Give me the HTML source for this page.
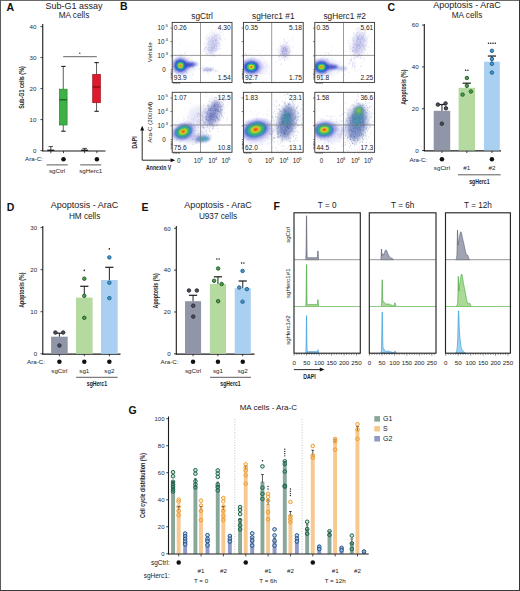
<!DOCTYPE html>
<html><head><meta charset="utf-8"><style>
html,body{margin:0;padding:0;background:#fff;}
svg{display:block;font-family:"Liberation Sans", sans-serif;}
</style></head><body>
<svg width="520" height="591" viewBox="0 0 520 591">
<defs>
<filter id="bl05" x="-50%" y="-50%" width="200%" height="200%"><feGaussianBlur stdDeviation="0.5"/></filter>
<filter id="bl1" x="-50%" y="-50%" width="200%" height="200%"><feGaussianBlur stdDeviation="0.9"/></filter>
<filter id="bl2" x="-50%" y="-50%" width="200%" height="200%"><feGaussianBlur stdDeviation="2"/></filter>
<clipPath id="cp1"><rect x="172.2" y="22.4" width="59.8" height="60"/></clipPath>
<clipPath id="cp2"><rect x="243.4" y="22.4" width="59.8" height="60"/></clipPath>
<clipPath id="cp3"><rect x="314.8" y="22.4" width="59.8" height="60"/></clipPath>
<clipPath id="cp4"><rect x="172.2" y="92.3" width="59.8" height="60"/></clipPath>
<clipPath id="cp5"><rect x="243.4" y="92.3" width="59.8" height="60"/></clipPath>
<clipPath id="cp6"><rect x="314.8" y="92.3" width="59.8" height="60"/></clipPath>
</defs>
<rect x="0" y="0" width="520" height="591" fill="#fff"/>
<text x="6.6" y="11.3" font-size="10.5" text-anchor="start" font-weight="bold" fill="#111">A</text>
<text x="74" y="8.5" font-size="9" text-anchor="middle" font-weight="normal" fill="#222">Sub-G1 assay</text>
<text x="74" y="18.2" font-size="8.2" text-anchor="middle" font-weight="normal" fill="#222">MA cells</text>
<line x1="42.75" y1="24" x2="42.75" y2="151.2" stroke="#1a1a1a" stroke-width="1.1"/>
<line x1="40.45" y1="150.6" x2="42.75" y2="150.6" stroke="#1a1a1a" stroke-width="0.8"/>
<text x="36.4" y="152.8" font-size="6.2" text-anchor="end" font-weight="normal" fill="#2a2a2a">0</text>
<line x1="40.45" y1="119.6" x2="42.75" y2="119.6" stroke="#1a1a1a" stroke-width="0.8"/>
<text x="36.4" y="121.8" font-size="6.2" text-anchor="end" font-weight="normal" fill="#2a2a2a">10</text>
<line x1="40.45" y1="88.6" x2="42.75" y2="88.6" stroke="#1a1a1a" stroke-width="0.8"/>
<text x="36.4" y="90.8" font-size="6.2" text-anchor="end" font-weight="normal" fill="#2a2a2a">20</text>
<line x1="40.45" y1="57.6" x2="42.75" y2="57.6" stroke="#1a1a1a" stroke-width="0.8"/>
<text x="36.4" y="59.8" font-size="6.2" text-anchor="end" font-weight="normal" fill="#2a2a2a">30</text>
<line x1="40.45" y1="26.6" x2="42.75" y2="26.6" stroke="#1a1a1a" stroke-width="0.8"/>
<text x="36.4" y="28.8" font-size="6.2" text-anchor="end" font-weight="normal" fill="#2a2a2a">40</text>
<text x="0" y="0" font-size="7" text-anchor="middle" font-weight="bold" fill="#222" transform="translate(24 87.5) rotate(-90) scale(0.77 1)">Sub-G1 cells (%)</text>
<line x1="42.25" y1="151" x2="105.5" y2="151" stroke="#1a1a1a" stroke-width="1.2"/>
<line x1="50.8" y1="151" x2="50.8" y2="153.2" stroke="#1a1a1a" stroke-width="0.8"/>
<line x1="63.5" y1="151" x2="63.5" y2="153.2" stroke="#1a1a1a" stroke-width="0.8"/>
<line x1="84.6" y1="151" x2="84.6" y2="153.2" stroke="#1a1a1a" stroke-width="0.8"/>
<line x1="96.9" y1="151" x2="96.9" y2="153.2" stroke="#1a1a1a" stroke-width="0.8"/>
<line x1="50.8" y1="146.6" x2="50.8" y2="151" stroke="#1a1a1a" stroke-width="0.8"/>
<line x1="48.6" y1="146.6" x2="53" y2="146.6" stroke="#1a1a1a" stroke-width="0.8"/>
<line x1="47.3" y1="150.3" x2="54.3" y2="150.3" stroke="#1a1a1a" stroke-width="1.4"/>
<line x1="84.6" y1="148.4" x2="84.6" y2="151" stroke="#1a1a1a" stroke-width="0.8"/>
<line x1="82.4" y1="148.4" x2="86.8" y2="148.4" stroke="#1a1a1a" stroke-width="0.8"/>
<line x1="81.1" y1="150.3" x2="88.1" y2="150.3" stroke="#1a1a1a" stroke-width="1.4"/>
<line x1="63.25" y1="66.2" x2="63.25" y2="131.2" stroke="#333" stroke-width="0.8"/>
<line x1="61.2" y1="66.4" x2="65.6" y2="66.4" stroke="#222" stroke-width="1.1"/>
<line x1="61.2" y1="131.2" x2="65.6" y2="131.2" stroke="#222" stroke-width="1.1"/>
<rect x="59.4" y="89.2" width="7.7" height="35.8" fill="#3fb045" stroke="#24872c" stroke-width="0.7"/>
<line x1="59.4" y1="99.8" x2="67.1" y2="99.8" stroke="#1d5e20" stroke-width="1.3"/>
<line x1="96.55" y1="62.3" x2="96.55" y2="111.3" stroke="#333" stroke-width="0.8"/>
<line x1="94.4" y1="62.6" x2="98.8" y2="62.6" stroke="#222" stroke-width="1.1"/>
<line x1="94.4" y1="111.3" x2="98.8" y2="111.3" stroke="#222" stroke-width="1.1"/>
<rect x="92.7" y="74.4" width="7.7" height="28.3" fill="#de1a2e" stroke="#a0101e" stroke-width="0.7"/>
<line x1="92.7" y1="87" x2="100.4" y2="87" stroke="#7a0a14" stroke-width="1.2"/>
<line x1="63.2" y1="56.7" x2="96.8" y2="56.7" stroke="#555" stroke-width="0.9"/>
<circle cx="79.8" cy="53.2" r="0.7" fill="#333" stroke="none" stroke-width="1"/>
<text x="43" y="161.3" font-size="6.2" text-anchor="end" font-weight="normal" fill="#222">Ara-C:</text>
<circle cx="63.5" cy="159.2" r="2.25" fill="#111" stroke="none" stroke-width="1"/>
<circle cx="96.9" cy="159.2" r="2.25" fill="#111" stroke="none" stroke-width="1"/>
<line x1="46.5" y1="164.9" x2="67.7" y2="164.9" stroke="#333" stroke-width="0.8"/>
<line x1="80.2" y1="164.9" x2="101.3" y2="164.9" stroke="#333" stroke-width="0.8"/>
<text x="57.1" y="173.4" font-size="6.2" text-anchor="middle" font-weight="normal" fill="#222">sgCtrl</text>
<text x="90.8" y="173.4" font-size="6.2" text-anchor="middle" font-weight="normal" fill="#222">sgHerc1</text>
<text x="120" y="10.3" font-size="10.5" text-anchor="start" font-weight="bold" fill="#111">B</text>
<text x="202.1" y="18.7" font-size="8.3" text-anchor="middle" font-weight="normal" fill="#222">sgCtrl</text>
<text x="273.3" y="18.7" font-size="8.3" text-anchor="middle" font-weight="normal" fill="#222">sgHerc1 #1</text>
<text x="344.7" y="18.7" font-size="8.3" text-anchor="middle" font-weight="normal" fill="#222">sgHerc1 #2</text>
<g clip-path="url(#cp1)">
<ellipse cx="184" cy="66" rx="11" ry="8" transform="rotate(0 184 66)" fill="#8080e0" opacity="0.15" filter="url(#bl2)"/>
<path d="M211.04 47.13h0.6M212.93 41.66h0.6M210.37 41.57h0.6M215.78 48.03h0.6M215.91 46.78h0.6M213.91 45.66h0.6M205.6 47.89h0.6M213.61 47.87h0.6M211.14 30.56h0.6M211.05 39.92h0.6M214.12 44.02h0.6M216.12 40.29h0.6M213.17 46.96h0.6M207.08 54.72h0.6M212.26 52.57h0.6M212.53 38.41h0.6M212.08 42.92h0.6M214.57 46.34h0.6M213.58 37.15h0.6M208.63 51.57h0.6M209.78 44.76h0.6M217.64 34.54h0.6M210.34 52.75h0.6M206.99 39.68h0.6M214.41 38.44h0.6M214.79 44.12h0.6M206.33 47.93h0.6M213.18 51.02h0.6M217.01 47.97h0.6M216.21 35.48h0.6M216.37 40.59h0.6M214.23 35.09h0.6M210.93 39.42h0.6M221.69 31.87h0.6M207.63 44.02h0.6M216.55 49.41h0.6M212.12 25.18h0.6M215.78 39.48h0.6M207.16 49.3h0.6M216.33 46.24h0.6M212.88 47.16h0.6M216.97 49.85h0.6M213.54 48.21h0.6M205.01 50.84h0.6M215.03 48.56h0.6M207.8 37.65h0.6M219.72 32.85h0.6M210.18 50.59h0.6M205.15 53.3h0.6M215.16 43.6h0.6M212.68 48.68h0.6M210.92 51.76h0.6M211.7 40.52h0.6M216.41 45.31h0.6M208.02 49.35h0.6M218.84 42.62h0.6M208.7 41.61h0.6M213.15 41.85h0.6M219.9 38.68h0.6M219.94 36.92h0.6M209.01 47.35h0.6M214.9 50.94h0.6M213.84 45.32h0.6M212.26 47.99h0.6M211.81 45.66h0.6M214.9 44.63h0.6M214.32 48.59h0.6M218.99 48.34h0.6M212.38 41.06h0.6M210.96 50.14h0.6M211.05 46.2h0.6M224.66 28.91h0.6M208.73 44.41h0.6M213.81 46.02h0.6M210.15 47.9h0.6M215.07 40.83h0.6M220.32 48.99h0.6M211.37 42.74h0.6M212.38 43.34h0.6M204.97 37.81h0.6M218.88 37.31h0.6M210.72 50.28h0.6M212.62 54.85h0.6M208.1 39.81h0.6M210.52 47.78h0.6M222.44 27.32h0.6M219.76 35.54h0.6M218.5 34.81h0.6M211 52.14h0.6M212.09 45.11h0.6M215.35 45.8h0.6M209.39 54.11h0.6M217.13 43.18h0.6M224.62 39.33h0.6M216.62 43.22h0.6M211.92 48.84h0.6M212.36 48.49h0.6M211.18 32.3h0.6M217.13 38.25h0.6M212.76 33.1h0.6M215.6 50.34h0.6M219.93 39.35h0.6M215.47 36.41h0.6M212.11 55.41h0.6M206.66 53.42h0.6M216.67 43.88h0.6M203.39 51.23h0.6M213.98 39.88h0.6M213.44 47.16h0.6M220.19 38.83h0.6M213.56 55.13h0.6M218.22 44.37h0.6M208.32 49.98h0.6M213.11 44.95h0.6M218.31 43.79h0.6M206.19 38.94h0.6M205.06 47.45h0.6M215.38 40.27h0.6M211.17 49.53h0.6M210.39 52.92h0.6M210.55 50.86h0.6M214.48 56.33h0.6M208.86 49.13h0.6M209.1 34.76h0.6M204.15 48.99h0.6M208.93 42.58h0.6M212.42 43.6h0.6M210.53 44.92h0.6M218.87 46.23h0.6M212.6 51.24h0.6M215.07 35.4h0.6M208.83 50.55h0.6M208.81 38.24h0.6M214.64 50.37h0.6M211.28 49.37h0.6M216.1 36.33h0.6M209.18 38.05h0.6M217.29 41.23h0.6M211.66 37.89h0.6M208.15 41.56h0.6M208.29 45.15h0.6M204.43 43.63h0.6M215.07 30.38h0.6M216.01 42.95h0.6M207.47 35.76h0.6M214.96 41.26h0.6M213.98 49.82h0.6M214.51 46.9h0.6M216.01 49.84h0.6M219.01 30.61h0.6M213.15 53.69h0.6M213.03 40.55h0.6M223.26 34.39h0.6M209.32 60.64h0.6M208.42 47.59h0.6M219.54 45.24h0.6M212.92 50.62h0.6M210.18 42.43h0.6M212.19 49.81h0.6M213.31 42.66h0.6M210.39 40.51h0.6M215.75 45.64h0.6M211.98 37.47h0.6M219.41 54.47h0.6M220.73 27.43h0.6M214.03 47.87h0.6M217.68 48.67h0.6M211.65 47.41h0.6M204.29 48.78h0.6M215.6 39.68h0.6" fill="none" stroke="#4444b8" stroke-width="0.6" stroke-opacity="0.4"/>
<ellipse cx="213" cy="44" rx="5.5" ry="11" transform="rotate(18 213 44)" fill="#8a8ad8" opacity="0.35" filter="url(#bl2)"/>
<ellipse cx="208" cy="69.6" rx="6" ry="1.5" transform="rotate(0 208 69.6)" fill="#6a6ac8" opacity="0.45" filter="url(#bl1)"/>
<path d="M213.97 72.31h0.6M201.69 68.6h0.6M209.31 69.88h0.6M206.21 68.14h0.6M217.54 71.16h0.6M202.63 67.58h0.6M215.66 71.08h0.6M216.19 70.82h0.6M204.08 69.99h0.6M198.28 68.48h0.6M207.73 70.38h0.6M204.73 69.41h0.6M210.06 70.17h0.6M210.87 69.91h0.6M206.54 70.78h0.6M208.22 68.36h0.6M205.18 69.6h0.6M207.51 69.84h0.6M208 69.86h0.6M207.4 67.71h0.6M209.9 71.18h0.6M209.96 69.32h0.6M210.01 68.15h0.6M199.47 69.69h0.6M203.81 70.71h0.6M203.12 65.66h0.6M203.32 71.97h0.6M206.28 67.55h0.6M204.56 70.38h0.6M210.24 69.87h0.6M214.68 70.66h0.6M207.91 70.5h0.6M215.45 71.06h0.6M212.61 67.98h0.6M207.33 70.69h0.6M206.67 71.2h0.6M210.68 70.96h0.6M207.04 73.42h0.6M213.58 69.28h0.6M208.41 73.49h0.6" fill="none" stroke="#4444b8" stroke-width="0.6" stroke-opacity="0.4"/>
<ellipse cx="188" cy="64.8" rx="7" ry="2.6" transform="rotate(-4 188 64.8)" fill="#2434c0" opacity="0.85" filter="url(#bl1)"/>
<ellipse cx="195" cy="64.2" rx="3" ry="1.6" transform="rotate(0 195 64.2)" fill="#5a5ad0" opacity="0.5" filter="url(#bl1)"/>
<path d="M177.82 72.42h0.6M188.15 65.65h0.6M171.4 67.06h0.6M183.3 74.41h0.6M186.61 65.79h0.6M187.16 69.81h0.6M182.11 66.03h0.6M178.6 70.95h0.6M172.28 60.7h0.6M180.54 54.18h0.6M177.1 49.93h0.6M175.17 70.03h0.6M184.92 65.17h0.6M178.69 54.55h0.6M194.76 69.62h0.6M189.03 58.72h0.6M179.06 51.41h0.6M186.59 72.89h0.6M165.7 65.19h0.6M185.42 51.86h0.6M166.26 57.29h0.6M175.59 54.66h0.6M180.75 67.55h0.6M185.45 71.08h0.6M192.22 74.68h0.6M170.27 61.66h0.6M172.23 57.2h0.6M179.87 65.64h0.6M184.32 53.22h0.6M170.85 65.42h0.6M178.94 63.17h0.6M180.01 59.67h0.6M185.97 68.36h0.6M179.82 60.36h0.6M179.14 44.37h0.6M172.85 65.89h0.6M168.77 67.16h0.6M181.65 54.86h0.6M178.55 63.15h0.6M184.09 70.37h0.6M180.22 58.96h0.6M179.37 65.09h0.6M186.23 67.9h0.6M174.86 55.04h0.6M177.59 59.82h0.6M171.83 64.7h0.6M176.67 66.42h0.6M184.58 62.38h0.6M198.63 63.09h0.6M189.09 66.55h0.6M189.21 47.07h0.6M174.64 67.53h0.6M185.2 83.82h0.6M183.02 75.58h0.6M186.48 72.99h0.6M184.48 64.38h0.6M184.47 57.19h0.6M189.71 57.67h0.6M182.44 82.14h0.6M178.76 65.75h0.6M189.57 65.8h0.6M174.2 67.61h0.6M185.04 71.14h0.6M174.47 79.27h0.6M193.5 65.74h0.6M182.6 62.26h0.6M191.53 60.1h0.6M185.76 61.86h0.6M175.09 71.21h0.6M190.9 65.52h0.6M175.22 71.93h0.6M180.11 68.02h0.6M192.38 74.43h0.6M176.45 83.41h0.6M180.53 71.73h0.6M175.45 65.25h0.6M166.85 79.54h0.6M191.15 56.12h0.6M168.76 52.96h0.6M189.67 62.02h0.6M180.03 63.16h0.6M179.55 57.11h0.6M180.69 54.38h0.6M179.94 68.01h0.6M184.15 63.79h0.6M173.45 66.84h0.6M176.72 77.81h0.6M186.49 64.7h0.6M176.83 60.12h0.6M173.19 62.85h0.6M182.8 69.62h0.6M184.94 81.97h0.6M175 65.7h0.6M202.3 51.04h0.6M176.43 66.92h0.6M181.7 68.78h0.6M178.64 68.46h0.6M180.91 71.62h0.6M165.74 58.7h0.6M180.48 57.55h0.6M172.35 70.5h0.6M175.43 70.55h0.6M186.32 67.99h0.6M184.46 64.78h0.6M169.51 65.37h0.6M184.04 61.47h0.6M179.72 71.44h0.6M173.65 70.59h0.6M195.03 61.27h0.6M181.64 64.43h0.6M192.51 68.07h0.6M187.5 60.22h0.6M180.37 65.52h0.6M166.65 76.84h0.6M187.52 51.96h0.6M186.31 64.58h0.6M184 68.46h0.6M168.81 63.95h0.6M192.14 61.12h0.6M172.52 55h0.6M170.98 68.22h0.6M193.7 68.95h0.6M182.41 83.02h0.6M176.45 60.34h0.6M184.62 69.88h0.6M172.59 56.47h0.6M182.77 67.53h0.6M170.31 64.02h0.6M176.27 69.19h0.6M179.59 64.93h0.6M177.74 73.82h0.6M191.35 62.74h0.6M187.1 59.69h0.6M181.06 71.45h0.6M192.31 62.62h0.6M179.92 67.13h0.6M168.81 65.72h0.6M175.23 68.5h0.6M171.69 50.18h0.6M180.8 67.63h0.6M176.22 72.53h0.6M178.37 60.88h0.6M184.23 53.37h0.6M175.22 65.44h0.6M187.12 64.33h0.6M182.91 60.49h0.6M182.85 78.58h0.6M175.15 84.06h0.6M175.48 65.73h0.6M181.85 73.59h0.6M170.85 49.22h0.6M185.23 71.8h0.6M185.36 86.12h0.6M182.1 67.58h0.6M187.75 68.48h0.6M193.48 55.94h0.6M177.57 38.73h0.6M186.84 62.7h0.6M187.71 82.4h0.6M180.45 63.61h0.6" fill="none" stroke="#3838c8" stroke-width="0.6" stroke-opacity="0.3"/>
<ellipse cx="180.5" cy="65.6" rx="9" ry="9" transform="rotate(0 180.5 65.6)" fill="#5a5ad8" opacity="0.35" filter="url(#bl1)"/>
<ellipse cx="180.5" cy="65.6" rx="6" ry="6" transform="rotate(0 180.5 65.6)" fill="#2232c0" opacity="1" filter="url(#bl1)"/>
<ellipse cx="180.5" cy="65.6" rx="4.44" ry="4.44" transform="rotate(0 180.5 65.6)" fill="#26a4d8" opacity="1" filter="url(#bl1)"/>
<ellipse cx="180.5" cy="65.6" rx="3.36" ry="3.36" transform="rotate(0 180.5 65.6)" fill="#3cbf5a" opacity="1" filter="url(#bl05)"/>
<ellipse cx="180.5" cy="65.6" rx="2.28" ry="2.28" transform="rotate(0 180.5 65.6)" fill="#c8dc28" opacity="1" filter="url(#bl05)"/>
<ellipse cx="180.5" cy="65.6" rx="1.2" ry="1.2" transform="rotate(0 180.5 65.6)" fill="#f07a1c" opacity="1" filter="url(#bl05)"/>
</g>
<line x1="200.5" y1="22.4" x2="200.5" y2="82.4" stroke="#7a7a7a" stroke-width="0.75"/>
<line x1="172.2" y1="55.4" x2="232" y2="55.4" stroke="#7a7a7a" stroke-width="0.75"/>
<rect x="172.2" y="22.4" width="59.8" height="60" fill="none" stroke="#333" stroke-width="0.9"/>
<line x1="170.4" y1="28.1" x2="172.2" y2="28.1" stroke="#333" stroke-width="0.6"/>
<line x1="170.4" y1="41.6" x2="172.2" y2="41.6" stroke="#333" stroke-width="0.6"/>
<line x1="170.4" y1="55.8" x2="172.2" y2="55.8" stroke="#333" stroke-width="0.6"/>
<line x1="170.7" y1="69.7" x2="172.2" y2="69.7" stroke="#222" stroke-width="0.6"/>
<line x1="170.7" y1="71.9" x2="172.2" y2="71.9" stroke="#222" stroke-width="0.6"/>
<line x1="170.7" y1="73.4" x2="172.2" y2="73.4" stroke="#222" stroke-width="0.6"/>
<line x1="170.7" y1="74.6" x2="172.2" y2="74.6" stroke="#222" stroke-width="0.6"/>
<line x1="170.7" y1="75.9" x2="172.2" y2="75.9" stroke="#222" stroke-width="0.6"/>
<line x1="170.7" y1="77.4" x2="172.2" y2="77.4" stroke="#222" stroke-width="0.6"/>
<line x1="170.7" y1="78.9" x2="172.2" y2="78.9" stroke="#222" stroke-width="0.6"/>
<line x1="173.7" y1="82.4" x2="173.7" y2="83.9" stroke="#222" stroke-width="0.6"/>
<line x1="175.2" y1="82.4" x2="175.2" y2="83.9" stroke="#222" stroke-width="0.6"/>
<line x1="176.7" y1="82.4" x2="176.7" y2="83.9" stroke="#222" stroke-width="0.6"/>
<line x1="178.2" y1="82.4" x2="178.2" y2="83.9" stroke="#222" stroke-width="0.6"/>
<line x1="179.7" y1="82.4" x2="179.7" y2="83.9" stroke="#222" stroke-width="0.6"/>
<line x1="200.31" y1="82.4" x2="200.31" y2="83.4" stroke="#555" stroke-width="0.4"/>
<line x1="202.1" y1="82.4" x2="202.1" y2="83.4" stroke="#555" stroke-width="0.4"/>
<line x1="205.09" y1="82.4" x2="205.09" y2="83.4" stroke="#555" stroke-width="0.4"/>
<line x1="208.08" y1="82.4" x2="208.08" y2="83.4" stroke="#555" stroke-width="0.4"/>
<line x1="211.67" y1="82.4" x2="211.67" y2="83.4" stroke="#555" stroke-width="0.4"/>
<line x1="215.26" y1="82.4" x2="215.26" y2="83.4" stroke="#555" stroke-width="0.4"/>
<line x1="217.05" y1="82.4" x2="217.05" y2="83.4" stroke="#555" stroke-width="0.4"/>
<line x1="220.04" y1="82.4" x2="220.04" y2="83.4" stroke="#555" stroke-width="0.4"/>
<line x1="223.63" y1="82.4" x2="223.63" y2="83.4" stroke="#555" stroke-width="0.4"/>
<line x1="227.22" y1="82.4" x2="227.22" y2="83.4" stroke="#555" stroke-width="0.4"/>
<line x1="230.21" y1="82.4" x2="230.21" y2="83.4" stroke="#555" stroke-width="0.4"/>
<text x="173.8" y="29.8" font-size="6.6" text-anchor="start" font-weight="normal" fill="#222">0.26</text>
<text x="230.7" y="29.8" font-size="6.6" text-anchor="end" font-weight="normal" fill="#222">4.30</text>
<text x="173.8" y="80.4" font-size="6.6" text-anchor="start" font-weight="normal" fill="#222">93.9</text>
<text x="230.7" y="80.4" font-size="6.6" text-anchor="end" font-weight="normal" fill="#222">1.54</text>
<g clip-path="url(#cp2)">
<ellipse cx="256" cy="67" rx="12" ry="8" transform="rotate(0 256 67)" fill="#8080e0" opacity="0.15" filter="url(#bl2)"/>
<path d="M282.75 46.39h0.6M282.29 54.52h0.6M284.63 51.36h0.6M283.89 56.03h0.6M286.23 50.22h0.6M286.83 50.17h0.6M280.46 59h0.6M286.13 45.74h0.6M288.28 52.9h0.6M279.02 59.85h0.6M285.67 55.9h0.6M285.19 50.18h0.6M279.08 56.34h0.6M284.61 49.42h0.6M285.73 51.43h0.6M286.86 48.96h0.6M284.37 39.24h0.6M283.02 54.72h0.6M289.18 49h0.6M284.08 59.71h0.6M283.36 55.04h0.6M290.37 51.22h0.6M288.79 47.09h0.6M285.23 50.57h0.6M284.9 57.21h0.6M292.86 47.34h0.6M282.49 53.74h0.6M280.81 53.73h0.6M286.5 49.47h0.6M286.36 42.48h0.6M287.16 42.5h0.6M282.06 47.94h0.6M283.1 55.72h0.6M284.79 48.81h0.6M286.4 59.7h0.6M284.52 53.01h0.6M288.84 52.47h0.6M280.01 64.7h0.6M292.23 40.08h0.6M284.36 53.3h0.6M287.88 54.68h0.6M283.55 45.2h0.6M284.86 56.68h0.6M280.69 45.35h0.6M284.41 40.34h0.6M283.59 48.6h0.6M286.08 47.14h0.6M281.41 48.83h0.6M284.33 47.34h0.6M284.54 55.13h0.6M288.65 60.38h0.6M281.76 48.69h0.6M275.81 61.45h0.6M281.96 50.82h0.6M286.33 43.53h0.6M286.12 50.85h0.6M278.11 52.61h0.6M288.68 40.73h0.6M287.33 52.15h0.6M286.16 53.43h0.6M289.06 49.77h0.6M287.56 48.75h0.6M287.05 46.52h0.6M284.12 60.52h0.6M286.06 50.13h0.6M280.49 46.65h0.6M285.18 56.17h0.6M285.99 53.88h0.6M284.35 58.44h0.6M283.13 47.98h0.6M287.61 51.35h0.6M283.53 47.83h0.6M283.6 54.43h0.6M285.74 44.35h0.6M285.99 51.98h0.6M281 55.25h0.6M283.52 49.16h0.6M287.29 58.26h0.6M282.09 53.41h0.6M281.43 63.73h0.6M282.77 57.57h0.6M282.23 55.46h0.6M292.27 37.02h0.6M282.98 53.75h0.6M284.17 47.32h0.6M292.03 51.44h0.6M278.74 55.7h0.6M278.47 57.33h0.6M282.48 51.8h0.6M288.91 51.65h0.6M279.63 41.67h0.6M288.64 55.07h0.6M281.64 55.73h0.6M286.24 54.56h0.6M276.59 49.34h0.6M287.65 55.03h0.6M287.58 37.49h0.6M285.09 53.71h0.6M293.43 45.75h0.6M283.35 51.2h0.6M287.6 48.56h0.6M288.52 46.67h0.6M285.43 48.1h0.6M285.05 47.2h0.6M278.91 57.01h0.6M285.56 47.93h0.6M285.2 56.45h0.6M281.08 50.39h0.6M286.39 53.89h0.6M283.33 39.41h0.6M288.85 52.81h0.6M284.55 49.47h0.6M285.42 48.66h0.6M280.91 46.93h0.6M282.41 47.63h0.6M280.44 54.5h0.6M279.92 54.63h0.6M280.95 52.94h0.6M289.31 52.12h0.6M281.94 51.27h0.6M285.02 41.46h0.6M282.37 51.9h0.6M282.86 51.44h0.6M287.07 55.22h0.6M287.67 54.24h0.6M283.49 50.9h0.6M283.55 49.28h0.6M283.87 41.51h0.6M283.33 50.87h0.6M281.09 50.87h0.6" fill="none" stroke="#4444b8" stroke-width="0.6" stroke-opacity="0.4"/>
<ellipse cx="284.5" cy="51" rx="4" ry="6" transform="rotate(0 284.5 51)" fill="#6a6ac8" opacity="0.45" filter="url(#bl2)"/>
<path d="M256.13 65.8h0.6M270.74 48.03h0.6M249.37 53.71h0.6M260.47 86.32h0.6M227.88 67.93h0.6M256.16 64.8h0.6M256.46 50.67h0.6M259.27 69.71h0.6M251.51 62.72h0.6M257.28 63.47h0.6M253.39 63.29h0.6M230.27 66.77h0.6M253.19 72.49h0.6M243.1 66.76h0.6M257.08 68.06h0.6M262.93 81.5h0.6M242.8 53.02h0.6M259.32 78.13h0.6M259.93 72.93h0.6M245.51 61.81h0.6M259.62 60.36h0.6M234.33 59.74h0.6M274.63 81h0.6M244.87 61.69h0.6M253.47 61.54h0.6M263.56 66.43h0.6M241.13 76.53h0.6M245.84 68.61h0.6M251.18 64.71h0.6M254.34 61.96h0.6M234.04 50.93h0.6M239.44 61.48h0.6M251.09 67.4h0.6M256.5 67.87h0.6M243.87 61.84h0.6M231.47 65.77h0.6M255.84 70.86h0.6M250.16 65.73h0.6M260.06 67.11h0.6M258.21 71.24h0.6M253.3 76.51h0.6M245.94 64.39h0.6M243.74 61.2h0.6M265.86 79.81h0.6M251.51 71.14h0.6M262.3 72.88h0.6M262.58 57.81h0.6M245.32 70.3h0.6M264.73 67.76h0.6M243.27 64.42h0.6M245.12 60.75h0.6M265.35 62.45h0.6M251.49 82.74h0.6M262.39 69.45h0.6M245.57 69.99h0.6M266.48 71.54h0.6M263.11 67.71h0.6M256.13 65.54h0.6M255.3 76.47h0.6M237.9 66.54h0.6M253.55 62.84h0.6M248.42 72.73h0.6M270.04 71.58h0.6M254.35 55.71h0.6M269.34 67.56h0.6M250.98 58.86h0.6M250.77 59.02h0.6M251.96 70.39h0.6M251.59 69.04h0.6M243.33 77.41h0.6M245.19 53.76h0.6M249.54 61.44h0.6M241.85 64.42h0.6M254.03 58.4h0.6M250.01 77.39h0.6M257.69 65.89h0.6M252.5 66.13h0.6M250.85 72.33h0.6M250.43 49.5h0.6M251.1 60.52h0.6M257.4 62.56h0.6M252.69 82.85h0.6M241.5 58.81h0.6M238.09 49.57h0.6M233.72 69.65h0.6M245.33 53.4h0.6M237.42 71.49h0.6M244.04 64.33h0.6M254.39 76.87h0.6M269.47 74.52h0.6M252.64 68.34h0.6M268.17 77.4h0.6M248.39 70.33h0.6M253.99 67.38h0.6M246.62 57.34h0.6M246.3 55.76h0.6M262.75 70.91h0.6M240.01 77.16h0.6M259.65 53.11h0.6M268.54 72.9h0.6M270.62 58.04h0.6M256.27 70.08h0.6M253.19 68.25h0.6M261.16 56.12h0.6M239.67 56.85h0.6M246.08 62.59h0.6M254.74 68.94h0.6M251.59 62.07h0.6M247.16 73.93h0.6M258.45 67.73h0.6M248.28 78.31h0.6M245.74 71.72h0.6M262.1 65.07h0.6M259.03 58.88h0.6M260.78 68.45h0.6M236.45 71.87h0.6M242.95 76.33h0.6M244.94 65.8h0.6M253.95 64.58h0.6M253.73 62.97h0.6M257.59 67.04h0.6M253.28 46.96h0.6M262.17 67.23h0.6M234.61 67.7h0.6M255.67 74.79h0.6M241.17 78.26h0.6M249.81 84.43h0.6M249.93 71.95h0.6M247.87 58.88h0.6M261.56 73.6h0.6M265.7 73.24h0.6M245.94 54.9h0.6M245.21 62.09h0.6M243.67 71.24h0.6M254.37 65.04h0.6M252.92 65.94h0.6M253.29 72.47h0.6M260.28 62.01h0.6M237.2 77.39h0.6M252.37 75.05h0.6M235.92 64.6h0.6M251.55 56.51h0.6M246.47 72.27h0.6M261.4 78.6h0.6M243.22 56.8h0.6M256.17 73.85h0.6M253.11 57.53h0.6M258.62 72.77h0.6M256.48 63.45h0.6M254.15 72.76h0.6M246.07 53.58h0.6M254.38 70.5h0.6M251.43 73.47h0.6M245.81 66.4h0.6M248.44 71.16h0.6M266.24 65.17h0.6M270.53 78.13h0.6M258.7 71.27h0.6M267.87 65.69h0.6M250.25 59.26h0.6" fill="none" stroke="#3838c8" stroke-width="0.6" stroke-opacity="0.3"/>
<ellipse cx="251.3" cy="67" rx="10.8" ry="8.4" transform="rotate(0 251.3 67)" fill="#5a5ad8" opacity="0.35" filter="url(#bl1)"/>
<ellipse cx="251.3" cy="67" rx="7.2" ry="5.6" transform="rotate(0 251.3 67)" fill="#2232c0" opacity="1" filter="url(#bl1)"/>
<ellipse cx="251.3" cy="67" rx="5.33" ry="4.14" transform="rotate(0 251.3 67)" fill="#26a4d8" opacity="1" filter="url(#bl1)"/>
<ellipse cx="251.3" cy="67" rx="4.03" ry="3.14" transform="rotate(0 251.3 67)" fill="#3cbf5a" opacity="1" filter="url(#bl05)"/>
<ellipse cx="251.3" cy="67" rx="2.74" ry="2.13" transform="rotate(0 251.3 67)" fill="#c8dc28" opacity="1" filter="url(#bl05)"/>
<ellipse cx="251.3" cy="67" rx="1.44" ry="1.12" transform="rotate(0 251.3 67)" fill="#f07a1c" opacity="1" filter="url(#bl05)"/>
</g>
<line x1="271.7" y1="22.4" x2="271.7" y2="82.4" stroke="#7a7a7a" stroke-width="0.75"/>
<line x1="243.4" y1="55.4" x2="303.2" y2="55.4" stroke="#7a7a7a" stroke-width="0.75"/>
<rect x="243.4" y="22.4" width="59.8" height="60" fill="none" stroke="#333" stroke-width="0.9"/>
<line x1="241.6" y1="28.1" x2="243.4" y2="28.1" stroke="#333" stroke-width="0.6"/>
<line x1="241.6" y1="41.6" x2="243.4" y2="41.6" stroke="#333" stroke-width="0.6"/>
<line x1="241.6" y1="55.8" x2="243.4" y2="55.8" stroke="#333" stroke-width="0.6"/>
<line x1="241.9" y1="69.7" x2="243.4" y2="69.7" stroke="#222" stroke-width="0.6"/>
<line x1="241.9" y1="71.9" x2="243.4" y2="71.9" stroke="#222" stroke-width="0.6"/>
<line x1="241.9" y1="73.4" x2="243.4" y2="73.4" stroke="#222" stroke-width="0.6"/>
<line x1="241.9" y1="74.6" x2="243.4" y2="74.6" stroke="#222" stroke-width="0.6"/>
<line x1="241.9" y1="75.9" x2="243.4" y2="75.9" stroke="#222" stroke-width="0.6"/>
<line x1="241.9" y1="77.4" x2="243.4" y2="77.4" stroke="#222" stroke-width="0.6"/>
<line x1="241.9" y1="78.9" x2="243.4" y2="78.9" stroke="#222" stroke-width="0.6"/>
<line x1="244.9" y1="82.4" x2="244.9" y2="83.9" stroke="#222" stroke-width="0.6"/>
<line x1="246.4" y1="82.4" x2="246.4" y2="83.9" stroke="#222" stroke-width="0.6"/>
<line x1="247.9" y1="82.4" x2="247.9" y2="83.9" stroke="#222" stroke-width="0.6"/>
<line x1="249.4" y1="82.4" x2="249.4" y2="83.9" stroke="#222" stroke-width="0.6"/>
<line x1="250.9" y1="82.4" x2="250.9" y2="83.9" stroke="#222" stroke-width="0.6"/>
<line x1="271.51" y1="82.4" x2="271.51" y2="83.4" stroke="#555" stroke-width="0.4"/>
<line x1="273.3" y1="82.4" x2="273.3" y2="83.4" stroke="#555" stroke-width="0.4"/>
<line x1="276.29" y1="82.4" x2="276.29" y2="83.4" stroke="#555" stroke-width="0.4"/>
<line x1="279.28" y1="82.4" x2="279.28" y2="83.4" stroke="#555" stroke-width="0.4"/>
<line x1="282.87" y1="82.4" x2="282.87" y2="83.4" stroke="#555" stroke-width="0.4"/>
<line x1="286.46" y1="82.4" x2="286.46" y2="83.4" stroke="#555" stroke-width="0.4"/>
<line x1="288.25" y1="82.4" x2="288.25" y2="83.4" stroke="#555" stroke-width="0.4"/>
<line x1="291.24" y1="82.4" x2="291.24" y2="83.4" stroke="#555" stroke-width="0.4"/>
<line x1="294.83" y1="82.4" x2="294.83" y2="83.4" stroke="#555" stroke-width="0.4"/>
<line x1="298.42" y1="82.4" x2="298.42" y2="83.4" stroke="#555" stroke-width="0.4"/>
<line x1="301.41" y1="82.4" x2="301.41" y2="83.4" stroke="#555" stroke-width="0.4"/>
<text x="245" y="29.8" font-size="6.6" text-anchor="start" font-weight="normal" fill="#222">0.35</text>
<text x="301.9" y="29.8" font-size="6.6" text-anchor="end" font-weight="normal" fill="#222">5.18</text>
<text x="245" y="80.4" font-size="6.6" text-anchor="start" font-weight="normal" fill="#222">92.7</text>
<text x="301.9" y="80.4" font-size="6.6" text-anchor="end" font-weight="normal" fill="#222">1.75</text>
<g clip-path="url(#cp3)">
<ellipse cx="326" cy="67" rx="14" ry="8" transform="rotate(0 326 67)" fill="#8080e0" opacity="0.15" filter="url(#bl2)"/>
<path d="M358.75 54.26h0.6M360.42 47.55h0.6M357.95 45.08h0.6M351.79 50.51h0.6M359.12 35.56h0.6M357.35 37.33h0.6M360.7 52.47h0.6M352.24 49.67h0.6M363.38 40.49h0.6M354.35 37.3h0.6M355.99 45.99h0.6M360.76 28.82h0.6M362.31 32.94h0.6M364.42 35.9h0.6M357.62 37.16h0.6M354.85 53.07h0.6M361.4 49.12h0.6M362.66 32.91h0.6M357.82 39.52h0.6M354.38 46.92h0.6M357.21 38.18h0.6M358.12 28.04h0.6M359.25 54.26h0.6M361.21 36.98h0.6M348.15 43.02h0.6M363.3 47.19h0.6M360.32 55.62h0.6M364.1 41.7h0.6M361.91 50.57h0.6M353.62 39.75h0.6M353.6 42.01h0.6M362.93 36.65h0.6M348.93 51.82h0.6M358.18 55.11h0.6M352.17 50.68h0.6M363.98 60.45h0.6M357.76 45.8h0.6M356.84 51.2h0.6M362.92 45.5h0.6M352.53 48.31h0.6M356.18 48.22h0.6M357.5 56.13h0.6M364.15 41.64h0.6M357.61 57.23h0.6M356.22 46.73h0.6M361.7 54.21h0.6M363.09 34.75h0.6M353.68 44.77h0.6M356.54 63.01h0.6M353.86 51.63h0.6M364.62 32.38h0.6M355.54 44.54h0.6M357.31 42.46h0.6M362.1 38.45h0.6M361.82 39.72h0.6M356.03 47.49h0.6M356.31 45.63h0.6M365.22 45.53h0.6M357.28 49.27h0.6M355.88 51.64h0.6M353.02 47.47h0.6M358.24 37.71h0.6M367.25 39.24h0.6M364.85 50.29h0.6M366.21 38.04h0.6M361.42 55.68h0.6M358.75 42.96h0.6M368.33 47.34h0.6M358.33 39.03h0.6M360.23 46.8h0.6M357.01 56.78h0.6M356.98 47.2h0.6M366.27 37.85h0.6M360.21 58.3h0.6M355.41 34.82h0.6M357.82 29.59h0.6M363.67 30.76h0.6M358.69 55.08h0.6M353.17 40.34h0.6M350.28 48.12h0.6M356.53 41.44h0.6M358.36 48.04h0.6M357.62 43.82h0.6M356.68 44.39h0.6M354.31 43.49h0.6M352.2 38.8h0.6M366.37 46.18h0.6M353.67 44.84h0.6M357.77 31.08h0.6M354.97 48.79h0.6M360.65 43.61h0.6M357.06 35.32h0.6M363.9 46.92h0.6M358.57 27.72h0.6M349.78 61.02h0.6M354.62 42.48h0.6M360.07 43.02h0.6M360.05 33.69h0.6M352.25 55.51h0.6M354.72 49.57h0.6M352.8 40.58h0.6M358.41 51.82h0.6M353.68 47.43h0.6M361.66 38.91h0.6M362.27 37.81h0.6M355.91 43.2h0.6M348.55 40.94h0.6M357.37 32.44h0.6M356.15 49.24h0.6M355.44 52.95h0.6M356.51 33.41h0.6M364.45 48.22h0.6M363.99 38.72h0.6M361.74 46.57h0.6M361.5 44.73h0.6M364.73 40.24h0.6M357.53 32.36h0.6M364.69 39.55h0.6M356.38 36.24h0.6M359.24 34.3h0.6M358.84 39.16h0.6M358.34 36.5h0.6M359.86 40.65h0.6M359.06 45.92h0.6M363.74 28.22h0.6M358.15 37.72h0.6M364.49 33.07h0.6M356.66 41.25h0.6M356.14 50.99h0.6M355.76 50.71h0.6M356.09 29.49h0.6M363.09 48.21h0.6M360.72 45.31h0.6M362.79 35.48h0.6M363.54 40.88h0.6M362.72 45.46h0.6M353.28 32.92h0.6M363.63 43.93h0.6M357.07 45.45h0.6M358.19 39.65h0.6M359.18 45.14h0.6M364.86 45.6h0.6M363.54 58.79h0.6M364.06 53.21h0.6M359.3 45.12h0.6M359.58 38.52h0.6M359.74 39.24h0.6M364.58 49.28h0.6M360.24 29.58h0.6M359.44 40.9h0.6M356.52 34.76h0.6M349.31 46.3h0.6M354.72 62.88h0.6M359.11 42.89h0.6M364.44 46.18h0.6M360.23 41.41h0.6M354.29 54.5h0.6M360.24 57.42h0.6M357.58 43.93h0.6M354.05 50.36h0.6M352.67 46.98h0.6M361.09 55.26h0.6M353.62 51.21h0.6M357.39 37.85h0.6M352.02 51.38h0.6M366.38 41.01h0.6M356.56 40.88h0.6M367.24 53.45h0.6M359.68 30.39h0.6M354.52 52.15h0.6M366.72 43.6h0.6M357.09 39.68h0.6M350.21 49.09h0.6M353.09 50.9h0.6M354.3 33.26h0.6M361.32 38.64h0.6M362.04 44.71h0.6M353.43 47.59h0.6M365.28 30.67h0.6M365.37 49.17h0.6M364.88 30.99h0.6M356.73 40.84h0.6M365.49 34.19h0.6M358.71 28.37h0.6M357.52 46.34h0.6M353.32 38.26h0.6M358.52 56.06h0.6M362.07 42.32h0.6M355.85 36.15h0.6M356.17 44.53h0.6M356.21 56.19h0.6M361.8 36.38h0.6M363.56 52.25h0.6M360.52 38.79h0.6M353.27 34.95h0.6M363.82 38.87h0.6M353.53 44.34h0.6M359.01 48.65h0.6M359.37 54.88h0.6M354.19 50.48h0.6M354.05 48.27h0.6M359.32 45.93h0.6M362.81 44.68h0.6M361.99 51.35h0.6M360.41 39.95h0.6M356.87 39.5h0.6M358.25 43.65h0.6M369.67 51.16h0.6M363.35 38.33h0.6M356.72 41.07h0.6M361.37 36.56h0.6M366.19 41.21h0.6M366.86 27.76h0.6M358.54 46.03h0.6M358.81 48.57h0.6M359.84 45.42h0.6M352.71 37.19h0.6M348.85 46.66h0.6M360.51 42.82h0.6M356.69 39.05h0.6M363.52 58.24h0.6M356.76 53.4h0.6M355.8 28.48h0.6M358.47 37.18h0.6M356.52 44.92h0.6M371.87 41.67h0.6M358.76 46.07h0.6M357.41 50.8h0.6M367.89 36.35h0.6M360.05 42.19h0.6" fill="none" stroke="#4444b8" stroke-width="0.6" stroke-opacity="0.4"/>
<path d="M353.43 55.34h0.6M344.97 51.42h0.6M354.1 63.96h0.6M352.29 51.17h0.6M350.51 59.22h0.6M346.35 58.42h0.6M354.79 65.72h0.6M351.91 65.57h0.6M349.59 63.36h0.6M352.16 65.77h0.6M351.72 62.28h0.6M351.46 59.78h0.6M360.93 65.57h0.6M353.72 74.46h0.6M357.61 55.22h0.6M354.78 67.19h0.6M359.54 69.58h0.6M355.08 57.11h0.6M348.52 64.34h0.6M354.02 57.89h0.6M350.46 61h0.6M352.24 64.68h0.6M350.85 56.82h0.6M356.97 70.98h0.6M351.58 68.12h0.6M353.78 66.3h0.6M353.93 59.18h0.6M354.3 68.05h0.6M348.41 72.83h0.6M360.36 72.12h0.6M359.96 66.71h0.6M350.65 60h0.6M348.75 63.58h0.6M351.87 66.35h0.6M343.92 74.56h0.6M361.11 62.86h0.6M354.7 65.38h0.6M353.09 61.96h0.6M351.51 58.88h0.6M352.71 62.88h0.6M353.28 58.72h0.6M352.16 63.24h0.6M354.42 57.68h0.6M353.68 67.92h0.6M354.39 61.16h0.6M350.03 61.82h0.6M354.92 70.76h0.6M351.37 59.79h0.6M353.5 64.02h0.6M348.37 59.31h0.6" fill="none" stroke="#4444b8" stroke-width="0.6" stroke-opacity="0.4"/>
<ellipse cx="359" cy="44" rx="6" ry="12" transform="rotate(12 359 44)" fill="#8888d8" opacity="0.4" filter="url(#bl2)"/>
<ellipse cx="342" cy="68.5" rx="5" ry="2" transform="rotate(0 342 68.5)" fill="#6a6ad0" opacity="0.4" filter="url(#bl1)"/>
<ellipse cx="331" cy="67" rx="7" ry="2.4" transform="rotate(0 331 67)" fill="#2434c0" opacity="0.8" filter="url(#bl1)"/>
<path d="M320.64 71.8h0.6M311.42 59.72h0.6M325.72 58.24h0.6M322.42 69.52h0.6M320.56 59.72h0.6M320.99 64.62h0.6M324.34 61h0.6M330.72 55.02h0.6M320.01 67.06h0.6M329.63 62.65h0.6M326.11 62.95h0.6M327.74 79.42h0.6M318.11 70.17h0.6M313.66 73.96h0.6M331.73 67.25h0.6M311.91 69.88h0.6M331.21 74.79h0.6M328.37 53.91h0.6M315.76 77.17h0.6M311.14 75.09h0.6M337.41 72.45h0.6M330.97 64.62h0.6M311.15 66.27h0.6M319.82 66.66h0.6M327.39 65.97h0.6M323.12 70.03h0.6M321.46 80.18h0.6M325.24 67.6h0.6M319.75 62.53h0.6M332.86 68.07h0.6M312.38 62.98h0.6M320.35 63.81h0.6M330.66 58.69h0.6M325.66 68.03h0.6M311.55 67.34h0.6M320.7 70.58h0.6M317.7 69.17h0.6M307.43 59.25h0.6M328.13 74.45h0.6M321.39 62.72h0.6M330.65 52.04h0.6M314.74 71.81h0.6M327.01 59.62h0.6M305.55 77.38h0.6M322.79 60.59h0.6M321.96 73.45h0.6M299.6 74.94h0.6M327.75 52.12h0.6M328.01 54.27h0.6M331.13 69.85h0.6M340.53 62.63h0.6M321.54 74.49h0.6M316.09 61.96h0.6M318.36 66.48h0.6M312.36 70.46h0.6M326.09 67.51h0.6M335.87 64.66h0.6M332.54 63.09h0.6M327.89 53.17h0.6M323.17 65.75h0.6M317.32 62.63h0.6M318.56 61.85h0.6M302.97 62.74h0.6M316.86 63.25h0.6M312.56 66.03h0.6M328.13 65.21h0.6M317.34 76.71h0.6M329.76 73.59h0.6M331.26 64.66h0.6M320.41 74.96h0.6M316.82 66.14h0.6M324.69 69.67h0.6M319.16 74.03h0.6M320 72.19h0.6M330.55 71.71h0.6M327.7 58.71h0.6M310.42 62.58h0.6M325.52 77.73h0.6M311.17 69.19h0.6M314.28 61.76h0.6M319.16 71.95h0.6M323.3 75.43h0.6M313.17 73.36h0.6M329.36 67.5h0.6M325.53 62.97h0.6M312.29 64.1h0.6M316.07 87.66h0.6M317.4 78.8h0.6M323.21 69.23h0.6M327.78 61.43h0.6M329.24 69.69h0.6M308.69 71.3h0.6M326.17 70.24h0.6M334.89 64.04h0.6M325.83 72.35h0.6M313.89 75.58h0.6M309.24 57.7h0.6M325.91 59.21h0.6M320.52 55.24h0.6M322.08 58.9h0.6M324.39 56.04h0.6M325.29 65.09h0.6M322.04 66.52h0.6M322.6 57.55h0.6M299.83 67.24h0.6M313.59 63.75h0.6M325.1 52.81h0.6M315.05 62.64h0.6M312.57 69.34h0.6M320.31 61.13h0.6M313.18 72.77h0.6M315.93 71.18h0.6M325.3 53.46h0.6M312.34 67.02h0.6M324.39 72.57h0.6M328.28 74.39h0.6M318.34 65.5h0.6M328.05 63.96h0.6M330.43 55.64h0.6M327.02 65.76h0.6M304.88 74.01h0.6M324.13 67.15h0.6M312.4 63.67h0.6M334.27 61.09h0.6M292.16 60.88h0.6M311.36 66.06h0.6M318.18 60.48h0.6M314.39 74.49h0.6M309.31 80.99h0.6M316.9 59.19h0.6M328.15 71.03h0.6M312.69 72.35h0.6M305.95 60.4h0.6M331.02 65.17h0.6M310.5 70.67h0.6M329.25 66.84h0.6M306.23 64.52h0.6M325.03 72.5h0.6M337.16 65.19h0.6M317.42 66.73h0.6M331.69 60.27h0.6M332.53 47.34h0.6M328.24 62.17h0.6M325.38 71.92h0.6M311.51 66.38h0.6M323.53 71.2h0.6M313.64 59.91h0.6M305.24 85.16h0.6M319.87 65.41h0.6M308.87 73.65h0.6M316.98 77.26h0.6M328.7 67.15h0.6M327.64 59.05h0.6M318.75 62.88h0.6M310.77 67.12h0.6M320.28 77.26h0.6M293.17 62.19h0.6M313.74 63.68h0.6M325.07 69.89h0.6M321.74 63.61h0.6" fill="none" stroke="#3838c8" stroke-width="0.6" stroke-opacity="0.3"/>
<ellipse cx="321.5" cy="67" rx="9.75" ry="8.25" transform="rotate(0 321.5 67)" fill="#5a5ad8" opacity="0.35" filter="url(#bl1)"/>
<ellipse cx="321.5" cy="67" rx="6.5" ry="5.5" transform="rotate(0 321.5 67)" fill="#2232c0" opacity="1" filter="url(#bl1)"/>
<ellipse cx="321.5" cy="67" rx="4.81" ry="4.07" transform="rotate(0 321.5 67)" fill="#26a4d8" opacity="1" filter="url(#bl1)"/>
<ellipse cx="321.5" cy="67" rx="3.64" ry="3.08" transform="rotate(0 321.5 67)" fill="#3cbf5a" opacity="1" filter="url(#bl05)"/>
<ellipse cx="321.5" cy="67" rx="2.47" ry="2.09" transform="rotate(0 321.5 67)" fill="#c8dc28" opacity="1" filter="url(#bl05)"/>
<ellipse cx="321.5" cy="67" rx="1.3" ry="1.1" transform="rotate(0 321.5 67)" fill="#f07a1c" opacity="1" filter="url(#bl05)"/>
</g>
<line x1="343.5" y1="22.4" x2="343.5" y2="82.4" stroke="#7a7a7a" stroke-width="0.75"/>
<line x1="314.8" y1="55.4" x2="374.6" y2="55.4" stroke="#7a7a7a" stroke-width="0.75"/>
<rect x="314.8" y="22.4" width="59.8" height="60" fill="none" stroke="#333" stroke-width="0.9"/>
<line x1="313" y1="28.1" x2="314.8" y2="28.1" stroke="#333" stroke-width="0.6"/>
<line x1="313" y1="41.6" x2="314.8" y2="41.6" stroke="#333" stroke-width="0.6"/>
<line x1="313" y1="55.8" x2="314.8" y2="55.8" stroke="#333" stroke-width="0.6"/>
<line x1="313.3" y1="69.7" x2="314.8" y2="69.7" stroke="#222" stroke-width="0.6"/>
<line x1="313.3" y1="71.9" x2="314.8" y2="71.9" stroke="#222" stroke-width="0.6"/>
<line x1="313.3" y1="73.4" x2="314.8" y2="73.4" stroke="#222" stroke-width="0.6"/>
<line x1="313.3" y1="74.6" x2="314.8" y2="74.6" stroke="#222" stroke-width="0.6"/>
<line x1="313.3" y1="75.9" x2="314.8" y2="75.9" stroke="#222" stroke-width="0.6"/>
<line x1="313.3" y1="77.4" x2="314.8" y2="77.4" stroke="#222" stroke-width="0.6"/>
<line x1="313.3" y1="78.9" x2="314.8" y2="78.9" stroke="#222" stroke-width="0.6"/>
<line x1="316.3" y1="82.4" x2="316.3" y2="83.9" stroke="#222" stroke-width="0.6"/>
<line x1="317.8" y1="82.4" x2="317.8" y2="83.9" stroke="#222" stroke-width="0.6"/>
<line x1="319.3" y1="82.4" x2="319.3" y2="83.9" stroke="#222" stroke-width="0.6"/>
<line x1="320.8" y1="82.4" x2="320.8" y2="83.9" stroke="#222" stroke-width="0.6"/>
<line x1="322.3" y1="82.4" x2="322.3" y2="83.9" stroke="#222" stroke-width="0.6"/>
<line x1="342.91" y1="82.4" x2="342.91" y2="83.4" stroke="#555" stroke-width="0.4"/>
<line x1="344.7" y1="82.4" x2="344.7" y2="83.4" stroke="#555" stroke-width="0.4"/>
<line x1="347.69" y1="82.4" x2="347.69" y2="83.4" stroke="#555" stroke-width="0.4"/>
<line x1="350.68" y1="82.4" x2="350.68" y2="83.4" stroke="#555" stroke-width="0.4"/>
<line x1="354.27" y1="82.4" x2="354.27" y2="83.4" stroke="#555" stroke-width="0.4"/>
<line x1="357.86" y1="82.4" x2="357.86" y2="83.4" stroke="#555" stroke-width="0.4"/>
<line x1="359.65" y1="82.4" x2="359.65" y2="83.4" stroke="#555" stroke-width="0.4"/>
<line x1="362.64" y1="82.4" x2="362.64" y2="83.4" stroke="#555" stroke-width="0.4"/>
<line x1="366.23" y1="82.4" x2="366.23" y2="83.4" stroke="#555" stroke-width="0.4"/>
<line x1="369.82" y1="82.4" x2="369.82" y2="83.4" stroke="#555" stroke-width="0.4"/>
<line x1="372.81" y1="82.4" x2="372.81" y2="83.4" stroke="#555" stroke-width="0.4"/>
<text x="316.4" y="29.8" font-size="6.6" text-anchor="start" font-weight="normal" fill="#222">0.35</text>
<text x="373.3" y="29.8" font-size="6.6" text-anchor="end" font-weight="normal" fill="#222">5.61</text>
<text x="316.4" y="80.4" font-size="6.6" text-anchor="start" font-weight="normal" fill="#222">91.8</text>
<text x="373.3" y="80.4" font-size="6.6" text-anchor="end" font-weight="normal" fill="#222">2.25</text>
<text x="164.6" y="30.3" font-size="6.3" text-anchor="end" font-weight="normal" fill="#222">10</text>
<text x="166.7" y="27.4" font-size="4.4" text-anchor="middle" font-weight="normal" fill="#222">5</text>
<text x="164.6" y="43.8" font-size="6.3" text-anchor="end" font-weight="normal" fill="#222">10</text>
<text x="166.7" y="40.9" font-size="4.4" text-anchor="middle" font-weight="normal" fill="#222">4</text>
<text x="164.6" y="58" font-size="6.3" text-anchor="end" font-weight="normal" fill="#222">10</text>
<text x="166.7" y="55.1" font-size="4.4" text-anchor="middle" font-weight="normal" fill="#222">3</text>
<text x="165.8" y="71.9" font-size="6.3" text-anchor="end" font-weight="normal" fill="#222">0</text>
<g clip-path="url(#cp4)">
<ellipse cx="200" cy="118" rx="12" ry="12" transform="rotate(0 200 118)" fill="#9090e0" opacity="0.2" filter="url(#bl2)"/>
<path d="M203.46 122.88h0.6M187.1 117.9h0.6M190.38 110.55h0.6M201.03 120.48h0.6M200.8 113h0.6M198.59 112.7h0.6M202.67 125.51h0.6M212.29 130.13h0.6M194.36 116.34h0.6M193.43 122.45h0.6M213.86 125.67h0.6M184.6 109.94h0.6M190.95 124.12h0.6M200.01 122.4h0.6M212.47 113.38h0.6M194.07 135.73h0.6M202.4 113.77h0.6M185.8 107.81h0.6M182.89 120.55h0.6M200.31 127.94h0.6M199.03 114.45h0.6M194.81 135.21h0.6M187.64 121.39h0.6M200.18 124.93h0.6M197.17 123.99h0.6M205.71 118.82h0.6M196.8 118.51h0.6M193.25 118.34h0.6M197.89 121.68h0.6M209.35 130.46h0.6M196.88 124.82h0.6M202.06 126.09h0.6M200.15 122.13h0.6M196.72 113.72h0.6M206.1 130.39h0.6M204.64 123.49h0.6M201.86 116.4h0.6M187.52 125.31h0.6M201.4 115.57h0.6M193.25 130.22h0.6M187.37 134.09h0.6M204.48 138.97h0.6M194.98 119.83h0.6M196.45 121.24h0.6M198.53 114.01h0.6M207.52 113.72h0.6M196.45 124.44h0.6M196.24 116.52h0.6M202.49 117.06h0.6M191.27 119.18h0.6M198.46 133.64h0.6M192.32 127.75h0.6M194.5 117.15h0.6M197.71 122.16h0.6M206.04 134h0.6M195.54 130.64h0.6M206.97 126.5h0.6M194.68 127.21h0.6M199.25 122.83h0.6M198.12 125.31h0.6M207.81 129.05h0.6M198.56 127.96h0.6M210.16 112.52h0.6M210.31 109.32h0.6M203.8 124.75h0.6M210.38 122.23h0.6M196.64 113.63h0.6M191.24 126.13h0.6M198.34 114.26h0.6M203.72 113.88h0.6M196.94 116.33h0.6M211.58 131.7h0.6M198.89 107.43h0.6M201.94 120.57h0.6M202.44 124.52h0.6M197.76 127.4h0.6M205.86 121.68h0.6M197.16 116.15h0.6M204.85 111.2h0.6M198.88 114h0.6M190.25 124.83h0.6M199.82 120.29h0.6M206.12 108.05h0.6M199.53 122.31h0.6M205.83 111.32h0.6M205.01 121.76h0.6M209.49 129.11h0.6M203.85 137.19h0.6M199.99 116.6h0.6M197.61 112.48h0.6" fill="none" stroke="#4444b8" stroke-width="0.6" stroke-opacity="0.3"/>
<path d="M219.15 97.06h0.6M211.79 116.46h0.6M219.23 111.76h0.6M222.03 109.87h0.6M218.65 96.89h0.6M212.36 105h0.6M218.76 119.88h0.6M206.83 115.56h0.6M216.41 111.88h0.6M214.52 110.52h0.6M216.34 97.45h0.6M209.22 123.46h0.6M220.91 113.09h0.6M210.71 110.01h0.6M216.56 117.4h0.6M209.73 115.02h0.6M211.01 116.91h0.6M216.05 100.18h0.6M211.48 119.37h0.6M208.75 110.27h0.6M218.65 111.38h0.6M204.43 128.65h0.6M214.22 122.85h0.6M204.27 124.88h0.6M207.47 105.97h0.6M212.9 125.19h0.6M211.24 105.99h0.6M220.17 97.46h0.6M214.75 118.67h0.6M209.85 116.68h0.6M216.12 116.83h0.6M211.36 126.3h0.6M210.84 113.54h0.6M208.03 120.62h0.6M210.23 116.22h0.6M213.93 113.77h0.6M221.57 115.15h0.6M217.49 122.11h0.6M220 113.84h0.6M215.47 120.72h0.6M209.91 114.19h0.6M213.02 112.5h0.6M221.56 109.26h0.6M211.04 95.99h0.6M213.36 106.98h0.6M211.88 117.64h0.6M220.57 118.43h0.6M217.78 107.77h0.6M212.1 125.05h0.6M225.38 99.27h0.6M212.83 127.39h0.6M221.68 102.17h0.6M210.37 117.28h0.6M217.79 107.07h0.6M206.6 119.4h0.6M203.21 122.48h0.6M212.7 115.48h0.6M209.23 105.95h0.6M220.98 102.16h0.6M227.02 104.98h0.6M207.85 111.34h0.6M213.51 119.76h0.6M212.44 110.7h0.6M214.14 107.93h0.6M199.01 116.58h0.6M214.16 114.7h0.6M209.92 114.01h0.6M213.67 112.35h0.6M223.58 100.82h0.6M217.79 104.75h0.6M207.63 124.66h0.6M208.9 110.41h0.6M208.02 119.74h0.6M214.05 97.72h0.6M216.87 110.97h0.6M208.86 121.25h0.6M210.6 108.51h0.6M212.94 116.6h0.6M208.11 120.56h0.6M224.82 113.36h0.6M228.17 98.94h0.6M220.87 112.52h0.6M215.12 110.47h0.6M214.41 101.58h0.6M207.89 122.88h0.6M219.67 112.04h0.6M213.19 106.43h0.6M202.76 125.68h0.6M216.15 115.04h0.6M214.3 103.89h0.6M217.13 121.5h0.6M206.28 119.47h0.6M206.61 116.39h0.6M210.39 108.06h0.6M214.46 117.32h0.6M220.54 107.87h0.6M216.65 126.51h0.6M212.08 116.76h0.6M210.44 110.49h0.6M207.28 111.56h0.6M210.43 124.24h0.6M215.37 121.17h0.6M212.53 110.58h0.6M211.31 114.25h0.6M202.51 116.09h0.6M207.95 106.24h0.6M215.12 108.87h0.6M221.29 114.94h0.6M217.12 125.11h0.6M210.07 115.44h0.6M220.34 112.43h0.6M215.55 108.61h0.6M214.81 110.22h0.6M210.91 121.27h0.6M219.39 116.37h0.6M211.88 120.28h0.6M215.32 103.93h0.6M221.27 107.23h0.6M220.55 106.7h0.6M224.84 107.53h0.6M212.9 126.57h0.6M204.78 123.48h0.6M215 97.32h0.6M214.68 119.88h0.6M220.05 92.17h0.6M214.16 110.43h0.6M212.65 110.03h0.6M207.1 105.46h0.6M217.05 128.51h0.6M213.97 106.63h0.6M212.15 122.27h0.6M220.22 104.7h0.6M213.82 114.41h0.6M216.45 125.07h0.6M212.27 123.73h0.6M207.17 124.84h0.6M210.41 115.51h0.6M220.34 107.09h0.6M215.53 97.57h0.6M214.41 112.82h0.6M210.55 116.51h0.6M204.02 109.33h0.6M214.68 110.98h0.6M211.9 128.53h0.6M214.27 104.64h0.6M210.5 112.76h0.6M218.69 106.97h0.6M221.03 106.32h0.6M215.97 117.83h0.6M209.22 131.28h0.6M212.8 111.22h0.6M213.1 120.79h0.6M206.65 113.03h0.6M208.29 116.9h0.6M219.52 115.67h0.6M212.48 114.31h0.6M197.89 114.4h0.6M215.55 115.26h0.6M213.87 106.42h0.6M209.11 122.56h0.6M209.06 123.77h0.6M203.26 105.05h0.6M214.78 113.34h0.6M207.98 104.88h0.6M222.95 104.57h0.6M212.27 102.47h0.6M209.11 117.31h0.6M222.18 97.49h0.6M221.83 110.59h0.6M205.92 125.57h0.6M216.79 102.8h0.6M212.77 106.05h0.6M209.93 108.64h0.6M216.42 117.28h0.6M199.04 133.36h0.6M208.69 112.32h0.6M211.39 119.23h0.6M210.67 116.17h0.6M222.72 117.23h0.6M207.65 113.89h0.6M210.97 108.68h0.6M213.35 116.04h0.6M209.71 119.42h0.6M216.49 102.09h0.6M218.54 111.49h0.6M220.91 109.68h0.6M215.15 116.5h0.6M205.75 96.45h0.6M204.29 122.58h0.6M202.28 117.32h0.6M216.96 118.81h0.6M218.01 110.08h0.6M212.79 114.81h0.6M213.31 119.43h0.6M214.64 106.97h0.6M209.75 115.41h0.6M209.71 100.09h0.6M213.28 107.83h0.6M220.15 90.94h0.6M212.7 110.4h0.6M222.85 98.2h0.6M210.72 116.35h0.6M212.17 123.52h0.6M221.36 106.21h0.6M217.36 111.32h0.6M205.34 124.14h0.6M213.18 105.02h0.6M214.18 105.4h0.6M216.92 117.74h0.6M218.61 118.65h0.6M207.62 120.51h0.6M211.91 108.16h0.6M212.63 113.04h0.6M220.69 110.03h0.6M215.17 113.35h0.6M211.05 102.02h0.6M211.31 115.93h0.6M213.53 117.43h0.6M215.05 109.43h0.6M218.4 105.54h0.6M208.41 108.08h0.6M208.56 106.45h0.6M211.76 107.25h0.6M215.67 106.41h0.6M216.66 98.37h0.6M216.77 106.06h0.6M223.72 90.62h0.6M209.15 113.66h0.6M203.51 106.04h0.6M213.62 114h0.6M206.04 112.41h0.6M217.06 105.31h0.6M217.02 113.83h0.6M214.92 109.36h0.6M215.69 114.7h0.6M217.31 118.56h0.6M211.36 110.16h0.6M218.75 111.53h0.6M213.68 117.89h0.6M219.61 93.68h0.6M213.46 114.97h0.6M216.37 107.02h0.6M219.39 113.9h0.6M212.8 106.11h0.6M218.38 104.67h0.6M203 127.7h0.6M216.32 123.79h0.6M217.93 120.13h0.6M202.29 119.98h0.6M217.67 119.06h0.6M200.9 119.93h0.6M221.17 111.23h0.6M211.77 119.57h0.6M209.84 121.85h0.6M211.81 118.8h0.6M218.3 101.03h0.6M199.53 137.29h0.6M210.86 124.2h0.6M213.57 128.94h0.6M217.8 109.04h0.6M219.31 97.3h0.6M209.94 120.12h0.6M203.06 111.03h0.6M213.29 125.26h0.6M211.22 106.12h0.6M207.99 101.53h0.6M209.75 130.87h0.6M204.16 122.41h0.6M216.93 109.65h0.6M231.04 95.94h0.6M212.54 114.69h0.6M217.85 131.3h0.6M223.43 117.86h0.6M213.9 125.84h0.6M214.76 116.81h0.6M213.88 109.34h0.6M202.06 126.98h0.6M217.68 95.16h0.6M214.81 113.16h0.6M208.87 128.21h0.6M213.81 110.64h0.6M210.16 111.57h0.6M210.88 113.95h0.6M226.59 121.43h0.6M203.81 127.45h0.6M215.01 121.15h0.6M214.31 120.93h0.6M212.36 125.72h0.6M214.06 125.77h0.6M211.21 112.15h0.6M207.3 119.67h0.6M218.7 110.55h0.6M208.31 135.58h0.6M222.5 105.87h0.6M211.18 118.07h0.6M212.18 116.12h0.6M217.91 117.67h0.6M206.34 117.06h0.6M212.71 113.78h0.6M215.05 100.67h0.6M208.86 108.01h0.6M216.75 88.86h0.6M222.24 105.34h0.6M208.59 116.17h0.6M198.45 120.04h0.6M208 117.16h0.6M210.38 114.72h0.6M213.99 113.17h0.6M209.55 97.85h0.6M209.08 124.55h0.6M209.41 116.47h0.6M212.79 117.25h0.6M222.53 102.31h0.6M215.29 111.99h0.6M214.63 105.45h0.6M212.99 103.21h0.6M200.95 131.85h0.6M221.25 115.91h0.6M219.82 106.19h0.6M206.23 93.35h0.6M209.83 125.1h0.6M216.31 104.68h0.6M215.39 104.38h0.6M207.81 108.76h0.6M214.11 105.64h0.6M212.24 103.86h0.6M210.4 124.88h0.6M205.83 131.07h0.6M205.27 112.56h0.6M208.69 109.74h0.6M212.29 117.78h0.6M220.34 110.31h0.6M208.38 109.38h0.6M216.94 107.73h0.6M212.54 128.37h0.6M205.9 113.62h0.6M223.92 98.86h0.6M215.12 111.49h0.6M203.03 121.47h0.6M215.93 109.42h0.6M213.6 119.04h0.6M215.28 119.06h0.6M218.9 103.98h0.6M211.19 113.36h0.6M194.43 125.96h0.6M214.93 103.68h0.6M204.42 112.02h0.6M215.4 108.24h0.6M214.26 104.98h0.6M210.36 110.94h0.6M208.52 117.52h0.6M212.45 113.85h0.6M211.54 124.15h0.6M215.57 115.88h0.6M215.17 106.09h0.6M209.88 118.05h0.6M215.7 110.18h0.6M212 98.15h0.6M211.89 122h0.6M219.33 102.3h0.6M211.86 114.48h0.6M208.25 114.33h0.6M215.09 105.79h0.6M205.38 117.61h0.6M217.8 106.28h0.6M206.19 118.65h0.6M217.14 111.48h0.6M221.66 113.27h0.6M205.39 120.24h0.6M211.6 115.53h0.6M216.68 104.81h0.6M208.65 109.42h0.6M222.94 107.07h0.6M219.06 117.08h0.6M207.61 113.34h0.6M218.79 106.54h0.6M202.69 112.39h0.6M207.1 114.78h0.6M205.18 108.65h0.6M214.23 99.46h0.6M211.88 114.01h0.6M214.49 102.36h0.6M219.71 98.96h0.6M214.48 117.93h0.6M218.52 123.06h0.6M214.33 115.76h0.6M217.59 102.14h0.6M218.61 119.76h0.6M215.62 103.1h0.6M218.69 119.84h0.6M206.08 116.55h0.6M222.22 115.96h0.6M216.57 110.25h0.6M207.42 120.77h0.6M227.21 119.07h0.6M210.56 119.31h0.6M209.93 118.48h0.6M220.32 106.03h0.6M208.83 110.61h0.6M216.47 116.66h0.6M223.28 103.76h0.6M217.61 108.71h0.6M212.99 115.81h0.6M209.76 109.51h0.6M207.4 113.25h0.6M211.1 107.53h0.6M216.45 108h0.6M220.64 109.68h0.6M216.53 116.73h0.6M209.44 109.49h0.6M210.77 108.65h0.6M206.84 127.47h0.6M206.91 125.17h0.6M219.44 103.03h0.6M200.94 114.72h0.6M202.29 115.59h0.6M217.02 117.9h0.6M213.29 110.6h0.6M215.58 110.95h0.6M212.17 109.08h0.6M220.68 109.85h0.6M218.66 104.2h0.6M214.35 100.56h0.6M210.56 118.27h0.6M216.36 109.47h0.6M217.32 111.17h0.6M214.38 115.86h0.6M223.35 93.61h0.6M205.27 117.18h0.6M206.33 131.19h0.6M214.07 108.1h0.6M218.64 120.02h0.6M220.61 120.31h0.6M210.42 118.59h0.6M211.25 108.04h0.6M211.64 110.26h0.6M218.47 110.35h0.6M216.45 109.46h0.6M225.72 91.92h0.6M212.05 114.04h0.6M205.58 119.5h0.6M210.67 123.83h0.6M215.96 119.83h0.6M216.05 103.87h0.6M213.87 108.88h0.6M216.02 109.61h0.6M232.13 104.99h0.6M220.23 111.1h0.6M209.65 120.17h0.6M217.12 103.1h0.6" fill="none" stroke="#26358f" stroke-width="0.6" stroke-opacity="0.45"/>
<ellipse cx="213.5" cy="113" rx="6.5" ry="13" transform="rotate(20 213.5 113)" fill="#3a4aa8" opacity="0.5" filter="url(#bl2)"/>
<ellipse cx="195" cy="137.5" rx="14" ry="4" transform="rotate(-5 195 137.5)" fill="#8888d8" opacity="0.4" filter="url(#bl2)"/>
<path d="M198.53 136.62h0.6M177.22 139.63h0.6M185.67 136.15h0.6M199.25 138h0.6M193.03 143.98h0.6M198.48 135.41h0.6M197.02 136.97h0.6M175.52 134.62h0.6M183.49 144.51h0.6M193.34 136.84h0.6M190.36 140.76h0.6M195.67 142.4h0.6M202.24 141.65h0.6M194.08 138.67h0.6M191.21 137.34h0.6M179.88 137.13h0.6M186.61 136.34h0.6M205.59 137.33h0.6M205.81 139.05h0.6M203.21 139.7h0.6M189.97 140.27h0.6M192.08 136.22h0.6M205.87 142.83h0.6M186.98 143.24h0.6M201.97 134.43h0.6M197.45 138.36h0.6M198.15 136.19h0.6M183.9 138.56h0.6M202.64 139.11h0.6M200.99 140.17h0.6M186.42 138.13h0.6M198.19 140.12h0.6M196.48 138.87h0.6M196.68 143.44h0.6M176.13 139.08h0.6M216.44 136.31h0.6M179.21 139.27h0.6M182.45 136.63h0.6M197.37 142.26h0.6M199.16 139.08h0.6M203.84 137.31h0.6M187.57 137.87h0.6M197.84 136.45h0.6M189.14 136.97h0.6M181.78 135.69h0.6M194.13 136.53h0.6M195.68 141.51h0.6M197.58 137.18h0.6M184.6 135.28h0.6M198.02 134.7h0.6M198.44 134.09h0.6M196.14 137.19h0.6M203.5 135.62h0.6M191.85 138.49h0.6M195.9 142.32h0.6M192.64 136.15h0.6M192.36 139.1h0.6M197.19 139.32h0.6M183.69 145.67h0.6M210.87 136.02h0.6M184.61 138.86h0.6M198.02 130.77h0.6M194.75 133.24h0.6M199.3 141.13h0.6M203.54 132.39h0.6M207.15 139.06h0.6M192.01 139.22h0.6M208.01 135.4h0.6M194.72 135.9h0.6M204.44 130.43h0.6M207 133.65h0.6M202.58 132.13h0.6M186.77 136.49h0.6M201.74 132.21h0.6M200.04 135.22h0.6M205.63 135.67h0.6M199.15 136.64h0.6M210.38 135.11h0.6M195.28 143.22h0.6M195.84 139.41h0.6" fill="none" stroke="#4444b8" stroke-width="0.6" stroke-opacity="0.3"/>
<ellipse cx="202.8" cy="139" rx="8" ry="3" transform="rotate(-5 202.8 139)" fill="#3a68c0" opacity="0.55" filter="url(#bl1)"/>
<ellipse cx="203" cy="139" rx="5.5" ry="1.8" transform="rotate(-5 203 139)" fill="#38a8b0" opacity="0.8" filter="url(#bl1)"/>
<path d="M176.58 135.88h0.6M161.22 141.34h0.6M172.84 124.07h0.6M172.44 144.92h0.6M183.38 119.7h0.6M199.29 119.69h0.6M180.33 134.73h0.6M167.69 125.25h0.6M179.16 142.52h0.6M188.39 117.18h0.6M195.26 127.03h0.6M188.37 129.95h0.6M184.66 123.22h0.6M172.43 130.49h0.6M181.35 137.23h0.6M175.64 147.17h0.6M175.47 130.16h0.6M191.41 131.72h0.6M177.05 125.75h0.6M169.1 124.83h0.6M197.52 134.33h0.6M203.07 127.51h0.6M188.64 135.37h0.6M191.97 126.07h0.6M192.63 144.69h0.6M162.78 128.89h0.6M175.85 140.51h0.6M194.09 124.59h0.6M189.79 128.6h0.6M184.79 126.77h0.6M183.02 131.68h0.6M200.52 142.11h0.6M166.85 142.42h0.6M185.88 138.14h0.6M195.89 132.62h0.6M188.69 121.98h0.6M171.02 149.63h0.6M192.63 120.37h0.6M197.84 130.94h0.6M161.54 147.43h0.6M176.73 143.38h0.6M174.56 129.31h0.6M167.47 136.3h0.6M191.52 123.02h0.6M170.78 153.46h0.6M203.39 128.89h0.6M174.7 125.58h0.6M168.65 141.89h0.6M193.24 119.28h0.6M182.54 129.73h0.6M182.13 136h0.6M202.22 118.97h0.6M194.65 135.55h0.6M180.09 131.73h0.6M172.99 144.22h0.6M176.28 129.31h0.6M181.63 125.55h0.6M172.2 133.75h0.6M197.42 124.28h0.6M184.51 119.61h0.6M169.01 151.62h0.6M175.18 122.82h0.6M183.91 136.12h0.6M163.84 132.55h0.6M183.35 124.35h0.6M193.79 134.9h0.6M186.5 126.94h0.6M181.12 127.52h0.6M182.88 134.27h0.6M182.98 139.36h0.6M207.46 117.55h0.6M188.94 135.78h0.6M189.02 127.42h0.6M181.3 140.29h0.6M190.86 132.52h0.6M177.07 139.08h0.6M190.66 127.17h0.6M195.62 143.68h0.6M166.38 143.2h0.6M167.99 127.07h0.6M182.46 136.23h0.6M180.63 123.52h0.6M167.54 133.59h0.6M181.17 125.93h0.6M173.2 149.47h0.6M174.56 133.9h0.6M176.27 129.84h0.6M182.89 129.43h0.6M186.2 121.11h0.6M173.9 150.74h0.6M184.65 137.1h0.6M196.51 130.62h0.6M179.41 120.93h0.6M170.1 144.63h0.6M191.57 132.74h0.6M161.02 123.82h0.6M169.59 127.83h0.6M182.09 124.04h0.6M197.3 121.04h0.6M180.09 139.71h0.6M184.1 124.19h0.6M196.72 141.33h0.6M170.43 134.84h0.6M167.28 122.76h0.6M191.44 133.82h0.6M194.16 130.59h0.6M163.2 139.51h0.6M173.43 126.3h0.6M174.4 141.24h0.6M185.74 146.13h0.6M182.75 116.75h0.6M195.62 136.49h0.6M180.28 123.24h0.6M197.3 115.57h0.6M177.23 118.98h0.6M166.14 125.09h0.6M197.39 135.23h0.6M175.54 124.01h0.6M183.74 134.42h0.6M164.9 129.86h0.6M184.21 136.8h0.6M185.28 134.36h0.6M163.98 119.68h0.6M183.89 124.09h0.6M181.02 129.53h0.6M185.97 124.4h0.6M197.81 125.98h0.6M190.32 133.76h0.6M194.78 130.17h0.6M164.07 134.38h0.6M203.22 127.31h0.6M190.2 132.52h0.6M175.01 129.56h0.6M180.02 142.13h0.6M191.86 142.29h0.6M193.52 142.51h0.6M184.62 121.65h0.6M201.69 126.86h0.6M195.85 128.24h0.6M180.49 134.09h0.6M168.73 127.97h0.6M172.93 131.61h0.6M169.4 136.4h0.6M191.98 144.27h0.6M201.66 123.79h0.6M191.58 126.5h0.6M187.13 129.78h0.6M178.07 134.32h0.6M169.64 140.63h0.6M177.38 125.34h0.6M181.22 136.87h0.6M177.78 137.63h0.6M193.37 140h0.6M172.04 135.26h0.6M192.63 139.84h0.6M188.04 135.72h0.6M166.88 133.56h0.6M199.27 122.87h0.6M203.09 117.77h0.6M176.06 121.75h0.6" fill="none" stroke="#3838c8" stroke-width="0.6" stroke-opacity="0.3"/>
<ellipse cx="183.3" cy="131.6" rx="12.75" ry="8.7" transform="rotate(-22 183.3 131.6)" fill="#5a5ad8" opacity="0.35" filter="url(#bl1)"/>
<ellipse cx="183.3" cy="131.6" rx="9.18" ry="6.26" transform="rotate(-22 183.3 131.6)" fill="#2a48c0" opacity="0.85" filter="url(#bl1)"/>
<ellipse cx="183.3" cy="131.6" rx="7.65" ry="5.22" transform="rotate(-22 183.3 131.6)" fill="#28a6c4" opacity="1" filter="url(#bl1)"/>
<ellipse cx="183.3" cy="131.6" rx="6.29" ry="4.29" transform="rotate(-22 183.3 131.6)" fill="#42be50" opacity="1" filter="url(#bl1)"/>
<ellipse cx="183.3" cy="131.6" rx="4.25" ry="2.9" transform="rotate(-22 183.3 131.6)" fill="#b8d830" opacity="1" filter="url(#bl05)"/>
<ellipse cx="183.3" cy="131.6" rx="2.72" ry="1.86" transform="rotate(-22 183.3 131.6)" fill="#f0a020" opacity="1" filter="url(#bl05)"/>
<ellipse cx="183.3" cy="131.6" rx="1.45" ry="0.99" transform="rotate(-22 183.3 131.6)" fill="#ec5018" opacity="1" filter="url(#bl05)"/>
</g>
<line x1="200.5" y1="92.3" x2="200.5" y2="152.3" stroke="#7a7a7a" stroke-width="0.75"/>
<line x1="172.2" y1="125" x2="232" y2="125" stroke="#7a7a7a" stroke-width="0.75"/>
<rect x="172.2" y="92.3" width="59.8" height="60" fill="none" stroke="#333" stroke-width="0.9"/>
<line x1="170.4" y1="98" x2="172.2" y2="98" stroke="#333" stroke-width="0.6"/>
<line x1="170.4" y1="111.5" x2="172.2" y2="111.5" stroke="#333" stroke-width="0.6"/>
<line x1="170.4" y1="125.7" x2="172.2" y2="125.7" stroke="#333" stroke-width="0.6"/>
<line x1="170.7" y1="139.6" x2="172.2" y2="139.6" stroke="#222" stroke-width="0.6"/>
<line x1="170.7" y1="141.8" x2="172.2" y2="141.8" stroke="#222" stroke-width="0.6"/>
<line x1="170.7" y1="143.3" x2="172.2" y2="143.3" stroke="#222" stroke-width="0.6"/>
<line x1="170.7" y1="144.5" x2="172.2" y2="144.5" stroke="#222" stroke-width="0.6"/>
<line x1="170.7" y1="145.8" x2="172.2" y2="145.8" stroke="#222" stroke-width="0.6"/>
<line x1="170.7" y1="147.3" x2="172.2" y2="147.3" stroke="#222" stroke-width="0.6"/>
<line x1="170.7" y1="148.8" x2="172.2" y2="148.8" stroke="#222" stroke-width="0.6"/>
<line x1="173.7" y1="152.3" x2="173.7" y2="153.8" stroke="#222" stroke-width="0.6"/>
<line x1="175.2" y1="152.3" x2="175.2" y2="153.8" stroke="#222" stroke-width="0.6"/>
<line x1="176.7" y1="152.3" x2="176.7" y2="153.8" stroke="#222" stroke-width="0.6"/>
<line x1="178.2" y1="152.3" x2="178.2" y2="153.8" stroke="#222" stroke-width="0.6"/>
<line x1="179.7" y1="152.3" x2="179.7" y2="153.8" stroke="#222" stroke-width="0.6"/>
<line x1="200.31" y1="152.3" x2="200.31" y2="153.3" stroke="#555" stroke-width="0.4"/>
<line x1="202.1" y1="152.3" x2="202.1" y2="153.3" stroke="#555" stroke-width="0.4"/>
<line x1="205.09" y1="152.3" x2="205.09" y2="153.3" stroke="#555" stroke-width="0.4"/>
<line x1="208.08" y1="152.3" x2="208.08" y2="153.3" stroke="#555" stroke-width="0.4"/>
<line x1="211.67" y1="152.3" x2="211.67" y2="153.3" stroke="#555" stroke-width="0.4"/>
<line x1="215.26" y1="152.3" x2="215.26" y2="153.3" stroke="#555" stroke-width="0.4"/>
<line x1="217.05" y1="152.3" x2="217.05" y2="153.3" stroke="#555" stroke-width="0.4"/>
<line x1="220.04" y1="152.3" x2="220.04" y2="153.3" stroke="#555" stroke-width="0.4"/>
<line x1="223.63" y1="152.3" x2="223.63" y2="153.3" stroke="#555" stroke-width="0.4"/>
<line x1="227.22" y1="152.3" x2="227.22" y2="153.3" stroke="#555" stroke-width="0.4"/>
<line x1="230.21" y1="152.3" x2="230.21" y2="153.3" stroke="#555" stroke-width="0.4"/>
<text x="173.8" y="99.7" font-size="6.6" text-anchor="start" font-weight="normal" fill="#222">1.07</text>
<text x="230.7" y="99.7" font-size="6.6" text-anchor="end" font-weight="normal" fill="#222">12.5</text>
<text x="173.8" y="150.3" font-size="6.6" text-anchor="start" font-weight="normal" fill="#222">75.6</text>
<text x="230.7" y="150.3" font-size="6.6" text-anchor="end" font-weight="normal" fill="#222">10.8</text>
<text x="178.8" y="163.2" font-size="6.3" text-anchor="middle" font-weight="normal" fill="#222">0</text>
<text x="197.3" y="163.2" font-size="6.3" text-anchor="middle" font-weight="normal" fill="#222">10</text>
<text x="201.5" y="160.4" font-size="4.4" text-anchor="middle" font-weight="normal" fill="#222">3</text>
<text x="211.8" y="163.2" font-size="6.3" text-anchor="middle" font-weight="normal" fill="#222">10</text>
<text x="216" y="160.4" font-size="4.4" text-anchor="middle" font-weight="normal" fill="#222">4</text>
<text x="225" y="163.2" font-size="6.3" text-anchor="middle" font-weight="normal" fill="#222">10</text>
<text x="229.2" y="160.4" font-size="4.4" text-anchor="middle" font-weight="normal" fill="#222">5</text>
<g clip-path="url(#cp5)">
<ellipse cx="259" cy="133" rx="15" ry="10" transform="rotate(-15 259 133)" fill="#8080e0" opacity="0.22" filter="url(#bl2)"/>
<path d="M268.52 128.14h0.6M281.51 123.95h0.6M257.1 119.25h0.6M262.91 134.52h0.6M271.25 134.3h0.6M270.16 125.48h0.6M268.07 127.61h0.6M252.36 142.83h0.6M263.69 120.02h0.6M266.19 128.94h0.6M274.1 135.1h0.6M233.97 139.48h0.6M274.91 117.75h0.6M244.76 134.62h0.6M265.84 129.48h0.6M250.56 127.72h0.6M265.2 132.49h0.6M283.48 124.35h0.6M252.01 113.75h0.6M272.04 124.36h0.6M259.18 121.66h0.6M265.81 114.11h0.6M263.25 128.53h0.6M267.21 135.97h0.6M261.22 128.89h0.6M267.42 115.41h0.6M259.32 129.2h0.6M269.71 120.18h0.6M270.39 128.51h0.6M245.09 121.89h0.6M248.52 132.62h0.6M265.28 132.33h0.6M268.88 122.19h0.6M273.73 130.75h0.6M267.39 130.01h0.6M250.31 133.73h0.6M249.94 122.65h0.6M258.89 129.84h0.6M260.89 125.92h0.6M252.73 131.83h0.6M252.35 120.44h0.6M265.51 137.53h0.6M256.2 121.9h0.6M278.38 135.95h0.6M258.79 127.34h0.6M269.35 147.3h0.6M265.08 134.34h0.6M262.98 114.62h0.6M249.19 122.55h0.6M266.36 127.6h0.6M278.72 121.57h0.6M265.1 127.71h0.6M267.52 143.24h0.6M267.39 137.18h0.6M273.39 120.57h0.6M267.91 123.67h0.6M263.34 128.78h0.6M261.35 124.78h0.6M276.5 122.2h0.6M271.79 137.5h0.6M269.88 133.3h0.6M277.33 131.75h0.6M275.97 113.94h0.6M280.91 123.13h0.6M244.01 128.19h0.6M248.53 131.45h0.6M245.83 125.06h0.6M265.13 128.29h0.6M253.89 128.48h0.6M261.18 128.76h0.6M261.53 126.53h0.6M267.56 114.89h0.6M257.48 130.18h0.6M257.13 125.31h0.6M258.16 130.54h0.6M273.67 123.53h0.6M260.07 131.09h0.6M256.16 115.56h0.6M263.9 124.76h0.6M257.61 133.72h0.6" fill="none" stroke="#4444b8" stroke-width="0.6" stroke-opacity="0.3"/>
<path d="M288.07 115.99h0.6M276.6 100.57h0.6M286.86 120.76h0.6M288.77 124.99h0.6M286.35 107.75h0.6M279.86 119.03h0.6M277.47 128.57h0.6M282.17 100.94h0.6M289.33 102.65h0.6M299.11 113.53h0.6M286.73 119.31h0.6M285.33 101.88h0.6M272.69 128.79h0.6M288.04 146.65h0.6M275.92 126.05h0.6M284.48 131.08h0.6M281.58 129.07h0.6M290.81 129.73h0.6M296.1 122.08h0.6M297.92 116.55h0.6M303.38 94.7h0.6M288.42 113.41h0.6M284.15 133.1h0.6M290.85 123.99h0.6M300.69 108.42h0.6M277.87 137.15h0.6M293.33 100.12h0.6M291.38 109.72h0.6M293.28 136.3h0.6M280.06 135.18h0.6M279.1 130.77h0.6M290.47 121.42h0.6M278.1 117.07h0.6M273.23 112.84h0.6M271.95 132.58h0.6M285.92 94.53h0.6M289.37 126.76h0.6M278.44 144.1h0.6M291.27 123.76h0.6M289.16 89.33h0.6M287.35 132.98h0.6M285.97 106h0.6M290.06 103.95h0.6M284.78 130.31h0.6M295.49 126.89h0.6M286.03 130.33h0.6M296.13 120.46h0.6M280.5 111.82h0.6M280.53 110.74h0.6M284.95 125.53h0.6M287.33 122.96h0.6M283.26 126.07h0.6M290.39 131.37h0.6M296.68 120.9h0.6M281.03 139.89h0.6M286.83 126.71h0.6M282.15 131.97h0.6M286.25 110.61h0.6M287.13 117.16h0.6M292.67 119.06h0.6M287.78 119.83h0.6M290.1 115.68h0.6M296.78 108.17h0.6M285.67 113.86h0.6M290.53 123.31h0.6M290.34 119.1h0.6M284.5 108.98h0.6M285.6 115.79h0.6M287.47 126.2h0.6M292.96 122.17h0.6M284.17 109.57h0.6M286.06 125.97h0.6M298.47 126.59h0.6M293.39 144.53h0.6M277.06 133.61h0.6M290.65 138.01h0.6M284.25 132.26h0.6M283.6 120.59h0.6M282.54 141.21h0.6M282.95 131.99h0.6M288.54 114.46h0.6M286.53 129.43h0.6M280.52 127.86h0.6M283.98 111.6h0.6M288.44 119.77h0.6M283.98 103.14h0.6M286.09 124.65h0.6M283.15 123.4h0.6M275.89 124.16h0.6M288.51 125.55h0.6M282.42 122.02h0.6M284.88 133.68h0.6M287.67 125.1h0.6M279.93 130.3h0.6M295.08 118.27h0.6M289.86 126.18h0.6M289.14 108.1h0.6M301.93 104.3h0.6M289.29 118.36h0.6M294.74 119h0.6M285.35 128.62h0.6M290.59 117.03h0.6M289.93 127.13h0.6M293.95 117.84h0.6M287.1 117.73h0.6M280.6 123.61h0.6M285.86 137.8h0.6M283.55 125.72h0.6M294.01 122.32h0.6M286.59 123.53h0.6M284.38 110.46h0.6M293.19 125.36h0.6M288.86 108.57h0.6M284.57 134.75h0.6M281.24 110.88h0.6M290.27 138.84h0.6M297.6 118.17h0.6M292.01 114.76h0.6M290.63 118.79h0.6M284.69 136.64h0.6M289.19 119.88h0.6M286.25 124.92h0.6M282.78 123.52h0.6M286.75 139.5h0.6M276.17 106.49h0.6M276.68 129.71h0.6M301.49 127.35h0.6M284.68 134.35h0.6M271.47 116.8h0.6M266.45 119.47h0.6M284.39 116.13h0.6M289.98 116.21h0.6M293.53 123.46h0.6M283.14 149.64h0.6M281.56 131.3h0.6M278.45 134.22h0.6M292.27 124.79h0.6M289.11 140.52h0.6M295.19 123.86h0.6M283.64 133.75h0.6M278.59 113.59h0.6M288.27 128.72h0.6M294.24 143.27h0.6M287.54 127.14h0.6M278.61 118.26h0.6M288.66 119.94h0.6M285.5 128.56h0.6M281.79 114.68h0.6M272.71 131.82h0.6M283.71 102.44h0.6M291.83 120.75h0.6M293.41 119.37h0.6M298.26 132.45h0.6M287.19 123.43h0.6M283.38 130.34h0.6M300.03 120.18h0.6M278.31 126.9h0.6M296.58 107.55h0.6M284.4 110.48h0.6M288.89 128.13h0.6M284.44 109.04h0.6M295.44 101.06h0.6M290.89 121.21h0.6M296.31 135.12h0.6M283.48 118.31h0.6M286.4 113.9h0.6M284.84 132.35h0.6M277.56 117.57h0.6M294.19 131.87h0.6M283.22 112.36h0.6M284.76 103.83h0.6M293.55 124.27h0.6M285.36 105.87h0.6M285.25 116.06h0.6M298.32 119.42h0.6M284.81 133.51h0.6M291.09 120.97h0.6M269.69 133.95h0.6M291.22 118.2h0.6M288.1 111.77h0.6M284.22 105.1h0.6M288.47 128.15h0.6M285.84 130.49h0.6M289.58 124.01h0.6M279.65 127.08h0.6M292.5 130.25h0.6M295.36 118.66h0.6M277.57 133.93h0.6M282.31 123.79h0.6M285.26 121.98h0.6M286.02 115.94h0.6M271.09 139.77h0.6M292.09 101.94h0.6M283.37 108.91h0.6M287.59 94.11h0.6M286.41 140.07h0.6M283.3 129.53h0.6M293.04 109.66h0.6M297.88 105.83h0.6M283.72 117.45h0.6M294.07 124.92h0.6M287.53 113.35h0.6M286.97 122.57h0.6M287.93 137.67h0.6M291.05 123.17h0.6M281.96 138.68h0.6M287.79 122.1h0.6M294.17 140.9h0.6M290.29 121.61h0.6M280.16 132.4h0.6M281.53 131.52h0.6M281.39 122.07h0.6M288.68 124.06h0.6M287.1 126.33h0.6M282 108.83h0.6M281.55 140.8h0.6M287.8 112.08h0.6M282.32 121.49h0.6M295.12 117.61h0.6M289.57 124.71h0.6M286.4 111.6h0.6M287.17 114.2h0.6M293.78 104.19h0.6M291.81 131.47h0.6M286.75 138.51h0.6M294.06 104.84h0.6M285.83 126.8h0.6M284.78 109.22h0.6M288.05 127.95h0.6M284.4 118.89h0.6M284.62 115.37h0.6M283.75 133.2h0.6M277.27 116.3h0.6M295.81 127.46h0.6M285.59 130.98h0.6M282.98 107.98h0.6M279.46 104.51h0.6M286.15 131.24h0.6M285.43 114.32h0.6M287.64 128.97h0.6M292.34 102.36h0.6M288.77 94.72h0.6M289.9 113.41h0.6M279.09 136.9h0.6M293.61 128.79h0.6M287.82 124.18h0.6M282.99 120.7h0.6M300.29 115.34h0.6M282.04 122.83h0.6M290.17 131.91h0.6M280.81 119.37h0.6M287.61 108.74h0.6M288.05 117.07h0.6M291.23 127.75h0.6M281.49 121.82h0.6M285.71 114.89h0.6M281.12 132.5h0.6M287.76 103.52h0.6M279.91 129.43h0.6M302.16 113.81h0.6M285.03 118.09h0.6M276.91 124.36h0.6M285.57 124.86h0.6M300.94 122.16h0.6M289.55 131.77h0.6M283.89 114.97h0.6M294.54 131.53h0.6M289.82 110.75h0.6M290.79 128.68h0.6M296.81 140.31h0.6M290.88 125.86h0.6M288.11 116.32h0.6M287.87 124.96h0.6M288.11 134.22h0.6M289.64 116.73h0.6M288.04 139.31h0.6M280.41 125.3h0.6M288.7 128.33h0.6M289.82 121.72h0.6M282.12 139.51h0.6M300.32 109.62h0.6M269.84 123.25h0.6M283.48 115.71h0.6M275.86 123.61h0.6M287.36 116.29h0.6M286.65 148.62h0.6M293.01 136.22h0.6M282.49 128.35h0.6M283.7 134.05h0.6M290.18 122.4h0.6M291.51 115.22h0.6M288.05 138.77h0.6M283.03 127.34h0.6M274.13 129.61h0.6M294.19 112.48h0.6M297.02 125.48h0.6M278.85 105.42h0.6M292.51 120.31h0.6M296.76 107.25h0.6M283.72 132.09h0.6M280.8 128.22h0.6M283.52 125.13h0.6M283.53 145.77h0.6M277.12 128.52h0.6M297.1 111.98h0.6M281.87 146.25h0.6M299.58 92.38h0.6M288.83 103.82h0.6M289.99 114.81h0.6M284.89 112.52h0.6M289.35 117.52h0.6M281.42 118.44h0.6M290.91 113.59h0.6M297.05 106.11h0.6M289.88 118.47h0.6M297.65 117.34h0.6M285.38 107.11h0.6M297.39 131.07h0.6M280.55 117.07h0.6M277.2 136.66h0.6M293.61 101.26h0.6M285.76 131.84h0.6M285.46 126.95h0.6M285.36 124.04h0.6M289.39 114.88h0.6M288.28 124.19h0.6M287.78 114.8h0.6M279.69 123.24h0.6M296.97 97.81h0.6M280.19 135.45h0.6M293.74 115.75h0.6M297.05 113.46h0.6M277.31 141.25h0.6M284.29 119.17h0.6M278.55 109.27h0.6M279.54 119.02h0.6M272.8 130.71h0.6M285.65 115.2h0.6M280.93 128.95h0.6M296.89 119.75h0.6M292.89 140.97h0.6M294.13 126.89h0.6M275.79 127.1h0.6M283.54 123.5h0.6M275.48 116.57h0.6M290.03 112.5h0.6M284.59 139.9h0.6M289.45 115.13h0.6M306.04 102.6h0.6M279.9 125.07h0.6M287.95 97.21h0.6M286.26 131.05h0.6M278.32 136.31h0.6M286.94 135.14h0.6M277.06 119.96h0.6M291.91 145.22h0.6M294.66 123.73h0.6M289.03 115.67h0.6M294.85 116.16h0.6M291.86 100.53h0.6M273.22 138.67h0.6M286.39 124.34h0.6M272.97 118.76h0.6M302.67 109.04h0.6M272.13 117.17h0.6M283.68 119.1h0.6M281.73 106.11h0.6M277.41 127.1h0.6M284.37 130.57h0.6M278.49 126.78h0.6M283.56 122.35h0.6M292.22 123.58h0.6M288.04 104.05h0.6M285.15 130.32h0.6M282.72 120.47h0.6M278.5 105.62h0.6M286.11 136.17h0.6M288.31 103.99h0.6M287.64 105.03h0.6M280.46 141.97h0.6M288.7 120.79h0.6M293.81 119.37h0.6M288.12 124.55h0.6M292.57 107.1h0.6M288.95 132.24h0.6M278.36 90.36h0.6M277.57 136.55h0.6M285.11 129.19h0.6M287.96 132.11h0.6M283.83 114.97h0.6M287.48 128.93h0.6M289.32 126.35h0.6M280.99 133.03h0.6M287.05 133.87h0.6M268.35 129.3h0.6M270.78 120.99h0.6M282.07 122.39h0.6M284.22 118.08h0.6M286.93 125.92h0.6M287.2 94.14h0.6M280.4 126.7h0.6M280.26 125.42h0.6M286.32 111.51h0.6M290.08 141.14h0.6M285.97 121.32h0.6M295.5 109.19h0.6M278.47 132.86h0.6M293.26 117.96h0.6M280.83 124.69h0.6M278.79 114.82h0.6M290.6 95.53h0.6M288.48 130.92h0.6M296.45 108.13h0.6M280.27 111.61h0.6M273.65 142.12h0.6M281.06 117.36h0.6M286.77 127.13h0.6M298.1 112.34h0.6M291.7 124.77h0.6M278.78 122.04h0.6M274 137.41h0.6M279.62 131.76h0.6M296.1 117.15h0.6M280.54 122.2h0.6M277.85 130.2h0.6M289.34 114.09h0.6M280.53 128.83h0.6M273.52 138.1h0.6M281.99 118.85h0.6M276.97 138.12h0.6M288.74 137.02h0.6M290.42 123.84h0.6M295.7 131.39h0.6M287.95 128.76h0.6M290.52 125.97h0.6M289.07 104.7h0.6M302.49 110.84h0.6M274.49 111.46h0.6M295.96 137.67h0.6M282.09 124.03h0.6M290.87 100.69h0.6M283.72 124.68h0.6M296.67 110.68h0.6M275.79 102.06h0.6M288.41 123.31h0.6M287.11 123.79h0.6M287.29 106.85h0.6M288.5 126.76h0.6M287.32 136.16h0.6M283.98 95.2h0.6M270.3 142.56h0.6M279.79 125.06h0.6M284.74 129.81h0.6M308.07 120.78h0.6M286.78 115.35h0.6M286.87 127.92h0.6M277.33 134.85h0.6M292.77 128.33h0.6M286.34 119.3h0.6M274.55 126.83h0.6M281.45 115.28h0.6M294.94 113.45h0.6M281.22 130.52h0.6M299.88 117.08h0.6M295.01 116.45h0.6M287.86 127.73h0.6M276.92 131.49h0.6M297.82 124.99h0.6M290.89 109.75h0.6M297.72 125.09h0.6M276.64 128.5h0.6M278.78 112.64h0.6M269.8 133.92h0.6M302 118.16h0.6M283.67 114.9h0.6M281.64 127.2h0.6M298.08 113.13h0.6M293.42 103.2h0.6M296.39 123.11h0.6M278.55 137.53h0.6M282.69 136.6h0.6M289.54 141.28h0.6M281.28 121.53h0.6M289.29 120.41h0.6M297.82 116.37h0.6M289.76 138.02h0.6M276.3 108.93h0.6M282 114.9h0.6M289.38 120.66h0.6M288.05 117.16h0.6M284.87 127.1h0.6M293.03 114.6h0.6M287.52 113.65h0.6M288.65 106.31h0.6M291.03 130.51h0.6M287.29 114.47h0.6M285.12 114.22h0.6M272.95 137.49h0.6M310.23 113.22h0.6M277.76 126.65h0.6M293.95 105.89h0.6M273.05 125.24h0.6M270.58 134.62h0.6M283.16 122.25h0.6M287.76 115.98h0.6M286.28 118.58h0.6M294.62 122.69h0.6M287.51 116.26h0.6M284.15 113.22h0.6M282.36 141.78h0.6M293.05 126.05h0.6M294.79 135.16h0.6M288.19 120.51h0.6M278.95 123.19h0.6M288.12 104.52h0.6M273.9 141.1h0.6M286.72 127.65h0.6M288.83 117.27h0.6M286.96 134.28h0.6M283.37 127.09h0.6M294.12 118.19h0.6M289.27 114.27h0.6M291.18 118.84h0.6M295.54 115.33h0.6M297.95 120.94h0.6M283.23 111.14h0.6M292.67 113.68h0.6M295.04 138.24h0.6M293.05 107.4h0.6M288.01 114.15h0.6M274.01 124.12h0.6M301.72 119.21h0.6M288.71 136.91h0.6M281.17 117.04h0.6M287.13 127.44h0.6M278.72 122.78h0.6M283.64 132.09h0.6M277.63 113.77h0.6M284.02 117.91h0.6M292.53 116.22h0.6M305.53 118.09h0.6M289.51 134.11h0.6M293.1 121.11h0.6M281.81 118.13h0.6M290.45 124.2h0.6M288.89 128.97h0.6M283.02 110.74h0.6M296.77 118.72h0.6M272.17 139.86h0.6M283.34 110.82h0.6M295.24 111.13h0.6M278.57 132.1h0.6M275.55 147.88h0.6M280.98 151.01h0.6M287.2 122.77h0.6M282.93 118.74h0.6M283.37 121.07h0.6M294.31 109.36h0.6M285.45 98.23h0.6M296.23 123.23h0.6M286.55 121.36h0.6M292.15 126.81h0.6M292.29 121.35h0.6M285.86 121.24h0.6M272.17 131.21h0.6M278.74 109.17h0.6M290.64 123.5h0.6M287.77 141.45h0.6M295.18 139.39h0.6M280.38 143.74h0.6M281.1 119.88h0.6M293.32 121.05h0.6M286.54 118.04h0.6M300.82 97.3h0.6M292.17 135.12h0.6M284.76 127.94h0.6M277.81 132.63h0.6M308.06 116.24h0.6M295.51 123.28h0.6M285.46 116.3h0.6M288.16 108.28h0.6M274.07 138.05h0.6M285.12 127.92h0.6M287.38 127.55h0.6M278.97 109.73h0.6M288.24 133.6h0.6M280.55 114.23h0.6M278.21 127.58h0.6M288.61 122.82h0.6M281.58 124.82h0.6M288.4 114.04h0.6M290.14 115.3h0.6M291.12 130.02h0.6M280.79 127.39h0.6M288.54 114.5h0.6M284.49 102.87h0.6M278.52 124.2h0.6M295.61 116.87h0.6M286.73 125.92h0.6M290.45 127.82h0.6M292.55 131.9h0.6M280.75 125.24h0.6M272.02 116.9h0.6M285.3 128.26h0.6M282.68 130.55h0.6M296.82 114.75h0.6M282.45 124.07h0.6M289.29 124.21h0.6M294.49 110.4h0.6M288.77 135.6h0.6M292.58 128.09h0.6M284.08 125.98h0.6M289.65 104.83h0.6M282.74 120.75h0.6M285.35 111.27h0.6M285.88 117.69h0.6M287.05 121.57h0.6M285.32 132.92h0.6M286.44 126.56h0.6M285.47 88.63h0.6M282.41 128.75h0.6M285.77 114.84h0.6M276.58 129.92h0.6M282.58 123.93h0.6M292.46 129.3h0.6M301.07 123.61h0.6M290.99 130.76h0.6M282.23 121.63h0.6M285.25 110.21h0.6M290.18 114.07h0.6M298.87 116.3h0.6M282.83 122.25h0.6M283.08 121.87h0.6M285.89 105.88h0.6M274.11 104.86h0.6M295.16 128.84h0.6M288.54 117.21h0.6M284.89 125.02h0.6M279.49 111.53h0.6M277.96 134.34h0.6M277.1 133.19h0.6M277.31 150.7h0.6M285.93 122.24h0.6M293.09 133.24h0.6M294.92 111.77h0.6M289.88 141.61h0.6M286.96 116.65h0.6M277.23 131.47h0.6M288.35 122.47h0.6M274.94 137.77h0.6" fill="none" stroke="#26358f" stroke-width="0.6" stroke-opacity="0.5"/>
<ellipse cx="286.5" cy="122" rx="8.5" ry="17" transform="rotate(12 286.5 122)" fill="#34509f" opacity="0.6" filter="url(#bl2)"/>
<ellipse cx="286.5" cy="119" rx="4" ry="7" transform="rotate(5 286.5 119)" fill="#2f8f9a" opacity="0.6" filter="url(#bl1)"/>
<path d="M267.19 126.23h0.6M272.92 115.92h0.6M264.97 117.61h0.6M273.65 122.1h0.6M270.85 121.52h0.6M263.65 138.13h0.6M244.03 133.54h0.6M246.65 139.95h0.6M246.86 128.36h0.6M255.77 140.45h0.6M241.91 132.96h0.6M250.07 125.83h0.6M244.94 130.88h0.6M254.64 115.21h0.6M255.99 118.26h0.6M261.26 149.48h0.6M242.79 132.34h0.6M254.65 139.03h0.6M245.24 115.48h0.6M234.88 136.75h0.6M261.55 137.99h0.6M250.19 137.25h0.6M244.72 144.65h0.6M253.17 123.79h0.6M262.15 144.19h0.6M241.61 121.6h0.6M239.59 122.93h0.6M255.86 132.76h0.6M254 131.81h0.6M270.65 122.78h0.6M233.8 113.83h0.6M257.29 122.67h0.6M253.38 133.98h0.6M258.11 114.08h0.6M243.25 133.54h0.6M256.5 140.09h0.6M244.22 113.12h0.6M267.28 110.99h0.6M243.82 136.35h0.6M247.6 155.12h0.6M260.1 133.36h0.6M255.17 150.53h0.6M261.13 121.29h0.6M268.26 110.22h0.6M248.65 134.11h0.6M255.26 120.58h0.6M280 136.85h0.6M244.25 136.08h0.6M246.32 127.94h0.6M269 127.12h0.6M254.51 130.79h0.6M243.12 144.37h0.6M248.88 143.65h0.6M248.59 127.11h0.6M275.74 125.93h0.6M246.01 127.05h0.6M268.09 143.81h0.6M262.87 123.87h0.6M239.33 127.55h0.6M254.71 132.07h0.6M250.07 143.07h0.6M241.39 126.61h0.6M263.39 131.97h0.6M252.82 139.33h0.6M240.98 148.84h0.6M289.13 138.94h0.6M261.9 146.37h0.6M259.54 140.99h0.6M253.53 131.91h0.6M258.5 112.29h0.6M257 145.33h0.6M218.08 143.21h0.6M268.63 129.12h0.6M261.53 141h0.6M255.67 111.68h0.6M242.55 130.23h0.6M256.55 125.06h0.6M258.25 144.53h0.6M219.76 149.98h0.6M269.46 131.48h0.6M256.05 130.01h0.6M261.06 130.34h0.6M248 138.92h0.6M244.72 132.06h0.6M248.27 120.65h0.6M263.51 126.75h0.6M240.17 132.93h0.6M240.92 146.96h0.6M267.17 145.11h0.6M249.89 137.69h0.6M240.95 125.44h0.6M255.49 133.42h0.6M267.24 123.9h0.6M272.47 134.07h0.6M243.77 131.02h0.6M247.66 147.68h0.6M250.54 139.2h0.6M267.12 124.05h0.6M250.11 134.23h0.6M242.54 121.15h0.6M243.8 135.87h0.6M262.36 144.26h0.6M232.87 140.34h0.6M243.25 143.67h0.6M265.13 128.16h0.6M274.18 121.05h0.6M246.28 122.16h0.6M247.35 132.82h0.6M267.53 138.34h0.6M250.46 124.06h0.6M250.31 126.93h0.6M248.62 127.63h0.6M244.15 132.1h0.6M248.59 129.82h0.6M237.88 135.63h0.6M264.72 133.15h0.6M245.85 121.47h0.6M235.91 123.83h0.6M246.56 129.05h0.6M234.04 141.57h0.6M233.95 128.92h0.6M248.19 139.26h0.6M278.94 119.97h0.6M251.2 127.04h0.6M252.69 128.72h0.6M285.43 111.37h0.6M252.43 123.01h0.6M259.15 123.73h0.6M260.69 118.08h0.6M283.77 123.94h0.6M234.25 141.78h0.6M246.88 121.1h0.6M260.26 123.45h0.6M264.06 122.16h0.6M267.83 127.64h0.6M260.74 129.62h0.6M250.1 127.64h0.6M263.25 134.09h0.6M255.58 150.37h0.6M275.1 113.64h0.6M269.71 125.1h0.6M256.91 121.84h0.6M275.32 116.58h0.6M252.96 123.51h0.6M283.81 133.63h0.6M237.47 130.21h0.6M259.45 124.5h0.6M248.59 121.41h0.6M256.44 119.17h0.6M272.11 147.37h0.6M255.28 144.89h0.6M259.01 122.41h0.6M248.99 122.39h0.6M258.82 135.17h0.6M267.17 123.86h0.6M240.01 133.02h0.6M278.12 126.11h0.6M250.07 111.77h0.6M251.33 135.73h0.6M246.53 144.47h0.6" fill="none" stroke="#3838c8" stroke-width="0.6" stroke-opacity="0.3"/>
<ellipse cx="255.7" cy="129.5" rx="15.75" ry="10.5" transform="rotate(-15 255.7 129.5)" fill="#5a5ad8" opacity="0.35" filter="url(#bl1)"/>
<ellipse cx="255.7" cy="129.5" rx="11.34" ry="7.56" transform="rotate(-15 255.7 129.5)" fill="#2a48c0" opacity="0.85" filter="url(#bl1)"/>
<ellipse cx="255.7" cy="129.5" rx="9.45" ry="6.3" transform="rotate(-15 255.7 129.5)" fill="#28a6c4" opacity="1" filter="url(#bl1)"/>
<ellipse cx="255.7" cy="129.5" rx="7.77" ry="5.18" transform="rotate(-15 255.7 129.5)" fill="#42be50" opacity="1" filter="url(#bl1)"/>
<ellipse cx="255.7" cy="129.5" rx="5.25" ry="3.5" transform="rotate(-15 255.7 129.5)" fill="#b8d830" opacity="1" filter="url(#bl05)"/>
<ellipse cx="255.7" cy="129.5" rx="3.36" ry="2.24" transform="rotate(-15 255.7 129.5)" fill="#f0a020" opacity="1" filter="url(#bl05)"/>
<ellipse cx="255.7" cy="129.5" rx="1.79" ry="1.19" transform="rotate(-15 255.7 129.5)" fill="#ec5018" opacity="1" filter="url(#bl05)"/>
</g>
<line x1="271.7" y1="92.3" x2="271.7" y2="152.3" stroke="#7a7a7a" stroke-width="0.75"/>
<line x1="243.4" y1="125" x2="303.2" y2="125" stroke="#7a7a7a" stroke-width="0.75"/>
<rect x="243.4" y="92.3" width="59.8" height="60" fill="none" stroke="#333" stroke-width="0.9"/>
<line x1="241.6" y1="98" x2="243.4" y2="98" stroke="#333" stroke-width="0.6"/>
<line x1="241.6" y1="111.5" x2="243.4" y2="111.5" stroke="#333" stroke-width="0.6"/>
<line x1="241.6" y1="125.7" x2="243.4" y2="125.7" stroke="#333" stroke-width="0.6"/>
<line x1="241.9" y1="139.6" x2="243.4" y2="139.6" stroke="#222" stroke-width="0.6"/>
<line x1="241.9" y1="141.8" x2="243.4" y2="141.8" stroke="#222" stroke-width="0.6"/>
<line x1="241.9" y1="143.3" x2="243.4" y2="143.3" stroke="#222" stroke-width="0.6"/>
<line x1="241.9" y1="144.5" x2="243.4" y2="144.5" stroke="#222" stroke-width="0.6"/>
<line x1="241.9" y1="145.8" x2="243.4" y2="145.8" stroke="#222" stroke-width="0.6"/>
<line x1="241.9" y1="147.3" x2="243.4" y2="147.3" stroke="#222" stroke-width="0.6"/>
<line x1="241.9" y1="148.8" x2="243.4" y2="148.8" stroke="#222" stroke-width="0.6"/>
<line x1="244.9" y1="152.3" x2="244.9" y2="153.8" stroke="#222" stroke-width="0.6"/>
<line x1="246.4" y1="152.3" x2="246.4" y2="153.8" stroke="#222" stroke-width="0.6"/>
<line x1="247.9" y1="152.3" x2="247.9" y2="153.8" stroke="#222" stroke-width="0.6"/>
<line x1="249.4" y1="152.3" x2="249.4" y2="153.8" stroke="#222" stroke-width="0.6"/>
<line x1="250.9" y1="152.3" x2="250.9" y2="153.8" stroke="#222" stroke-width="0.6"/>
<line x1="271.51" y1="152.3" x2="271.51" y2="153.3" stroke="#555" stroke-width="0.4"/>
<line x1="273.3" y1="152.3" x2="273.3" y2="153.3" stroke="#555" stroke-width="0.4"/>
<line x1="276.29" y1="152.3" x2="276.29" y2="153.3" stroke="#555" stroke-width="0.4"/>
<line x1="279.28" y1="152.3" x2="279.28" y2="153.3" stroke="#555" stroke-width="0.4"/>
<line x1="282.87" y1="152.3" x2="282.87" y2="153.3" stroke="#555" stroke-width="0.4"/>
<line x1="286.46" y1="152.3" x2="286.46" y2="153.3" stroke="#555" stroke-width="0.4"/>
<line x1="288.25" y1="152.3" x2="288.25" y2="153.3" stroke="#555" stroke-width="0.4"/>
<line x1="291.24" y1="152.3" x2="291.24" y2="153.3" stroke="#555" stroke-width="0.4"/>
<line x1="294.83" y1="152.3" x2="294.83" y2="153.3" stroke="#555" stroke-width="0.4"/>
<line x1="298.42" y1="152.3" x2="298.42" y2="153.3" stroke="#555" stroke-width="0.4"/>
<line x1="301.41" y1="152.3" x2="301.41" y2="153.3" stroke="#555" stroke-width="0.4"/>
<text x="245" y="99.7" font-size="6.6" text-anchor="start" font-weight="normal" fill="#222">1.83</text>
<text x="301.9" y="99.7" font-size="6.6" text-anchor="end" font-weight="normal" fill="#222">23.1</text>
<text x="245" y="150.3" font-size="6.6" text-anchor="start" font-weight="normal" fill="#222">62.0</text>
<text x="301.9" y="150.3" font-size="6.6" text-anchor="end" font-weight="normal" fill="#222">13.1</text>
<text x="250" y="163.2" font-size="6.3" text-anchor="middle" font-weight="normal" fill="#222">0</text>
<text x="268.5" y="163.2" font-size="6.3" text-anchor="middle" font-weight="normal" fill="#222">10</text>
<text x="272.7" y="160.4" font-size="4.4" text-anchor="middle" font-weight="normal" fill="#222">3</text>
<text x="283" y="163.2" font-size="6.3" text-anchor="middle" font-weight="normal" fill="#222">10</text>
<text x="287.2" y="160.4" font-size="4.4" text-anchor="middle" font-weight="normal" fill="#222">4</text>
<text x="296.2" y="163.2" font-size="6.3" text-anchor="middle" font-weight="normal" fill="#222">10</text>
<text x="300.4" y="160.4" font-size="4.4" text-anchor="middle" font-weight="normal" fill="#222">5</text>
<g clip-path="url(#cp6)">
<ellipse cx="330" cy="132" rx="15" ry="10" transform="rotate(-5 330 132)" fill="#8080e0" opacity="0.22" filter="url(#bl2)"/>
<path d="M329.42 122.02h0.6M329.28 127.38h0.6M344.85 124.13h0.6M317.43 127.47h0.6M340.15 138.61h0.6M323.94 138.2h0.6M341.67 131.14h0.6M327.44 121.95h0.6M325.59 134.43h0.6M337.16 135.35h0.6M352.9 128.15h0.6M334.54 141.19h0.6M322.16 124.94h0.6M331.36 125.42h0.6M336.42 122.27h0.6M346.43 118.66h0.6M326.98 116.43h0.6M321.21 132.06h0.6M341.19 126.68h0.6M343.31 132.27h0.6M329.33 127.76h0.6M338.61 141.82h0.6M330.67 130.57h0.6M340.37 136.39h0.6M339.18 135.39h0.6M324.54 126.23h0.6M315.96 127.69h0.6M357.93 129.69h0.6M335.88 129.86h0.6M336.43 118.96h0.6M328.19 126.84h0.6M336.66 122.13h0.6M333.96 123.01h0.6M322.03 123.53h0.6M327.09 133.78h0.6M348.17 132.01h0.6M332.92 124.23h0.6M319.56 124.44h0.6M350.38 135.94h0.6M337.21 126.36h0.6M335.04 130.93h0.6M334.93 130.97h0.6M327.43 128.36h0.6M331.55 135.41h0.6M322.81 136.91h0.6M334.16 124.61h0.6M335.21 128.89h0.6M332.71 130.94h0.6M329.33 116.48h0.6M341.85 127.87h0.6M351.37 130.69h0.6M315.34 136.52h0.6M328.25 131.79h0.6M356.82 135.5h0.6M324.25 127.43h0.6M319.21 132.61h0.6M340.53 121.05h0.6M339.45 134.43h0.6M342.94 123.48h0.6M328.2 120.4h0.6M322.31 130.2h0.6M335.39 136.93h0.6M337.69 125.85h0.6M320.99 138.59h0.6M336.62 127.84h0.6M325.13 120.91h0.6M341.22 121.42h0.6M340.75 132.34h0.6M331.25 117.01h0.6M339.04 137.64h0.6" fill="none" stroke="#4444b8" stroke-width="0.6" stroke-opacity="0.3"/>
<path d="M354.77 108.18h0.6M363.44 126.11h0.6M350.23 135.69h0.6M354.2 127.67h0.6M356.22 114.35h0.6M360.35 113.99h0.6M347.16 114.84h0.6M362.13 136.74h0.6M368.24 136.84h0.6M366.47 127.98h0.6M353.18 127.62h0.6M349.35 129.88h0.6M353.58 125.33h0.6M351.97 120.51h0.6M363.6 122.04h0.6M352.12 125.31h0.6M362.91 122.24h0.6M353.3 104.54h0.6M346.15 132.96h0.6M355.32 128.21h0.6M363.01 127.64h0.6M361.16 118.25h0.6M345.48 127.84h0.6M355.04 129.26h0.6M350.66 120.16h0.6M371.49 116.62h0.6M354.55 137.52h0.6M355.24 124.18h0.6M341.9 128.75h0.6M351.25 136.54h0.6M357.27 118.94h0.6M360.24 121.1h0.6M350.19 139.23h0.6M362.84 125.62h0.6M360.1 133.17h0.6M360.49 124.41h0.6M356.48 127.66h0.6M359.68 127.73h0.6M353.71 121.59h0.6M362.09 113.07h0.6M355.17 131.34h0.6M358.68 120.27h0.6M357.94 117.88h0.6M363.96 120.37h0.6M349.38 107.88h0.6M358.35 125.81h0.6M357.05 108.33h0.6M357.97 113.88h0.6M352.88 122.27h0.6M351.48 125.51h0.6M353.43 117.16h0.6M352.2 138.64h0.6M364.62 135.44h0.6M352.37 122.24h0.6M360.8 133.07h0.6M346.96 120.41h0.6M350.64 130.28h0.6M362.17 118.22h0.6M370.93 123.01h0.6M372.55 124.58h0.6M352.09 143.51h0.6M354.77 117.39h0.6M366.24 124.7h0.6M362.82 110.26h0.6M365.85 136.12h0.6M357.57 131.25h0.6M354.94 117.41h0.6M346.34 125.07h0.6M362.7 134.02h0.6M361.06 132.02h0.6M354.22 107.94h0.6M360.57 125.81h0.6M363.73 121.53h0.6M350.46 126.79h0.6M357.24 104.83h0.6M355.18 112.95h0.6M351.28 115.8h0.6M357.5 149.67h0.6M368.66 121.02h0.6M364.23 123.92h0.6M361.01 116.46h0.6M360.32 105.1h0.6M369.86 117.35h0.6M361.94 117.67h0.6M361.32 110.93h0.6M352.55 132.47h0.6M365.08 103.16h0.6M365.25 110.26h0.6M357.56 129.12h0.6M353.69 118.93h0.6M354.52 127.15h0.6M359.55 138.98h0.6M354.46 144.96h0.6M347.02 140.97h0.6M353.59 131.05h0.6M355.99 123.91h0.6M350.37 126.12h0.6M369.23 127.45h0.6M356.82 123.2h0.6M361.86 121.95h0.6M356.44 125.49h0.6M362.91 135.08h0.6M351.84 115.04h0.6M355.16 132.27h0.6M363.46 122.25h0.6M370.57 124.26h0.6M362.48 140.27h0.6M366.43 127.45h0.6M364.02 107.62h0.6M347.27 114.31h0.6M359.02 135.51h0.6M353.96 134.16h0.6M357.1 140.23h0.6M348.94 112.22h0.6M353.38 110.76h0.6M369.32 115.48h0.6M352.71 117.83h0.6M363.51 119.42h0.6M360.3 130.04h0.6M358.34 97.09h0.6M354.08 108.64h0.6M368.78 117.68h0.6M349.44 125.79h0.6M359.42 113.25h0.6M361.7 134.4h0.6M360.42 115.45h0.6M356.18 100.12h0.6M358.46 127.87h0.6M351.17 122.23h0.6M379.95 115.45h0.6M344.94 127.43h0.6M355.43 117.32h0.6M361.14 122.6h0.6M361.99 129.99h0.6M363.93 125.98h0.6M340.44 134.81h0.6M343.99 132.06h0.6M361.69 108.65h0.6M355.38 132.65h0.6M350.51 122.25h0.6M354.65 111.45h0.6M350.22 135.96h0.6M361.31 123.74h0.6M356.17 124.4h0.6M358.34 125.49h0.6M344.17 130.7h0.6M357.55 94.17h0.6M364.1 111.17h0.6M356.3 121.95h0.6M352.07 128.07h0.6M355.91 119.79h0.6M351.66 118.87h0.6M350.41 122.2h0.6M362.94 135.68h0.6M362.74 109.13h0.6M361.27 134.48h0.6M374.96 101.79h0.6M357.83 119.58h0.6M366.24 112.94h0.6M349.33 147.43h0.6M367.72 103.11h0.6M353.99 137.78h0.6M351.76 128.68h0.6M360.92 107.6h0.6M350.48 134.43h0.6M365.75 118.24h0.6M365.63 116.98h0.6M358.57 123.19h0.6M348.44 124.89h0.6M360.8 93.19h0.6M353.73 112.93h0.6M353.99 111.52h0.6M358.26 95.91h0.6M362.38 125.05h0.6M359.18 120.57h0.6M357.98 120.36h0.6M353.63 105.35h0.6M355.13 134.09h0.6M354.77 140.69h0.6M349.06 118.43h0.6M350.31 135.48h0.6M368.77 119.73h0.6M362.11 121.44h0.6M350.99 120.56h0.6M346.94 138.32h0.6M357.97 136.6h0.6M364.78 97.44h0.6M361.8 125.11h0.6M341.85 120.98h0.6M359.41 142.78h0.6M348.79 130.17h0.6M359.46 121.65h0.6M354.01 128.37h0.6M359.09 130.9h0.6M357.45 108.34h0.6M362.27 138.77h0.6M353.53 121.96h0.6M366.06 105.23h0.6M354.58 149.73h0.6M360.3 115.82h0.6M369.75 125.86h0.6M359.29 118.75h0.6M362.23 103.97h0.6M352.35 105.46h0.6M362.84 123.24h0.6M368.86 102.63h0.6M349.91 137.92h0.6M356.3 101.91h0.6M353.12 118.32h0.6M353.93 137.05h0.6M361.75 141.52h0.6M361.78 118.4h0.6M357.29 106.43h0.6M362.08 138.22h0.6M359.59 113.55h0.6M360.09 129.19h0.6M360.62 110.71h0.6M359.79 117.24h0.6M360.25 130.45h0.6M360.73 119h0.6M364.74 133.39h0.6M363 133.75h0.6M360.24 128.12h0.6M354.48 101.99h0.6M349.74 128.4h0.6M362.27 126.2h0.6M353.35 142.93h0.6M358.6 103.26h0.6M348.07 117.49h0.6M359.68 131.88h0.6M353.74 131.54h0.6M358.36 115.14h0.6M352.9 130.65h0.6M365.53 112.16h0.6M350.55 123.02h0.6M372.94 113.23h0.6M348.22 125.87h0.6M361.58 117.09h0.6M355.73 128.21h0.6M346.18 120.45h0.6M358.63 133.76h0.6M364.43 123.79h0.6M344.93 135.58h0.6M363.27 117.17h0.6M361.07 135.58h0.6M361.54 97.37h0.6M355.81 114.23h0.6M351.97 121.02h0.6M349.37 125.77h0.6M371.5 112.69h0.6M364.7 118.65h0.6M360.68 122.36h0.6M366.62 117.05h0.6M363.34 115.63h0.6M358.46 123.16h0.6M367.4 107.44h0.6M345.4 136.23h0.6M355.51 141.82h0.6M350.1 123.92h0.6M356.71 142.86h0.6M357.7 118.11h0.6M361.69 122.85h0.6M350.59 130.23h0.6M347.47 109.55h0.6M366.62 119.42h0.6M354.13 126.58h0.6M362.77 130.19h0.6M352.3 115.61h0.6M363.8 123.11h0.6M351.07 131.59h0.6M359.11 147.97h0.6M351.93 113.97h0.6M351.88 125.92h0.6M351.48 134.4h0.6M338.09 129.82h0.6M353.63 119.19h0.6M360.07 125.94h0.6M347.27 137.86h0.6M361.71 118.46h0.6M360.83 111.35h0.6M350.06 118.14h0.6M359.04 124.58h0.6M355.36 107.04h0.6M342.92 138.01h0.6M361.13 114.86h0.6M363.13 130.4h0.6M355.84 115.84h0.6M363.32 128.04h0.6M366.32 129.07h0.6M354.75 115.77h0.6M352.05 124.81h0.6M357.18 129.88h0.6M362.21 112.27h0.6M357.89 112.58h0.6M363.01 109.45h0.6M355.37 112.98h0.6M353.76 119.42h0.6M366.95 122.23h0.6M348.81 117.86h0.6M360.37 129.96h0.6M353.92 144.81h0.6M363.66 125.45h0.6M367.6 110.16h0.6M357.94 113.43h0.6M354.39 140.69h0.6M350.28 139.54h0.6M347.41 137.05h0.6M348.47 111.61h0.6M363.39 123.32h0.6M357.93 123.06h0.6M358.53 121.31h0.6M351.62 118.58h0.6M359.75 113.44h0.6M355.85 142.63h0.6M348.1 114.97h0.6M355.22 122.84h0.6M359.25 115.3h0.6M356.78 123.02h0.6M352.94 139.51h0.6M361.19 107.23h0.6M345.97 127.32h0.6M356.31 115.88h0.6M349.33 117.9h0.6M358.01 115.48h0.6M352.8 132.11h0.6M360.59 129.93h0.6M359.04 108.13h0.6M358.37 140.17h0.6M362.21 137.24h0.6M357.85 127.42h0.6M354.04 136.51h0.6M350.42 145.81h0.6M362.54 120.55h0.6M360.68 105.65h0.6M353.17 118.8h0.6M373.99 117.44h0.6M362.5 125.04h0.6M353.74 129.36h0.6M342.52 130.59h0.6M368.27 128.74h0.6M356.25 124.65h0.6M362.22 118.58h0.6M356.59 128.6h0.6M353.95 126.75h0.6M357.42 131.15h0.6M352.14 115.93h0.6M351.62 135.37h0.6M362.33 105.48h0.6M344.67 142.26h0.6M362.06 109.48h0.6M351.05 123.34h0.6M362.09 142.35h0.6M355.43 119.3h0.6M371.1 114.92h0.6M365.88 128.71h0.6M354.63 137.02h0.6M361.9 114.61h0.6M347.56 121.18h0.6M357.03 138.43h0.6M337.79 134.06h0.6M357.34 140.2h0.6M361.43 126.35h0.6M358.75 127.87h0.6M353.39 120.95h0.6M358.83 118.31h0.6M351.27 105.48h0.6M358.92 129.29h0.6M360.35 110.52h0.6M363.16 119.89h0.6M340.6 137.19h0.6M342.62 145.39h0.6M361.3 118.94h0.6M344.1 112.32h0.6M363.02 139.65h0.6M362.53 104.84h0.6M355.3 119.44h0.6M360.14 122.26h0.6M362.88 105.82h0.6M349.72 137.74h0.6M345.91 131.08h0.6M369.76 133.08h0.6M345.56 134.64h0.6M344.78 124.22h0.6M351.63 135.86h0.6M363.84 126.6h0.6M365.8 135.98h0.6M356.31 111.75h0.6M373.13 121.85h0.6M359.81 122.29h0.6M357.78 104.99h0.6M356.37 121.57h0.6M364.25 118.73h0.6M349.81 109.34h0.6M356.18 125.65h0.6M362.36 119.81h0.6M360 125.27h0.6M367.55 124.62h0.6M356.59 129.32h0.6M366.64 114.63h0.6M354.71 119.41h0.6M340.84 134.31h0.6M363.57 124.65h0.6M374.86 141.19h0.6M365.88 142.66h0.6M365.85 108.86h0.6M365.49 129.56h0.6M349.49 122.01h0.6M359.4 134.65h0.6M359.29 117.57h0.6M363.48 115.76h0.6M354.77 131.17h0.6M347.25 125.17h0.6M347.04 110.38h0.6M349.6 120.41h0.6M361.53 123.39h0.6M362.42 125.24h0.6M354.6 128.07h0.6M355.22 124.16h0.6M364.74 118.19h0.6M366.67 112.51h0.6M359.65 103.9h0.6M350.06 139.54h0.6M356.28 137.24h0.6M350.25 110.11h0.6M357.98 132.6h0.6M366.03 105.95h0.6M360.33 122.89h0.6M356.65 128.33h0.6M359.17 104.28h0.6M353.73 105.91h0.6M349.18 119.82h0.6M366.73 116.98h0.6M354.93 109.54h0.6M346.16 121.45h0.6M354.55 119.76h0.6M349.94 127.02h0.6M348.3 127.38h0.6M351.09 130.69h0.6M350.49 126.64h0.6M359.91 122.72h0.6M366.7 127.06h0.6M349.91 129.35h0.6M353.15 116.05h0.6M356.66 124.99h0.6M371.58 106.29h0.6M352.8 134.93h0.6M355.27 126.28h0.6M369.29 111.64h0.6M355.44 131.67h0.6M357.41 103.2h0.6M350.37 123.8h0.6M353.92 143.27h0.6M368.79 107.94h0.6M361.31 134.3h0.6M367.38 123.48h0.6M353.22 123.86h0.6M365.14 131.81h0.6M365.69 133.79h0.6M355.7 111.23h0.6M371.97 108.98h0.6M355.57 119.09h0.6M352.68 115.59h0.6M351.54 148.86h0.6M357.81 117.23h0.6M355.6 133.38h0.6M352.88 117.52h0.6M344.56 128.34h0.6M357.75 140.22h0.6M344.55 145.08h0.6M363.04 121.16h0.6M355.29 119.12h0.6M347.7 129.79h0.6M354.91 114.34h0.6M359.94 124.91h0.6M353.93 119.67h0.6M350.84 137.01h0.6M364.89 116.41h0.6M353.58 137.88h0.6M351.1 142.01h0.6M358.21 130.87h0.6M342.16 129.51h0.6M357.76 129.79h0.6M358.76 129.38h0.6M351.77 132.14h0.6M359.82 111.66h0.6M350.31 123.42h0.6M364.19 99.42h0.6M341.77 131.73h0.6M350.33 154.03h0.6M348.07 118.28h0.6M351.99 128.28h0.6M362.01 142.43h0.6M347.88 135.12h0.6M348.75 124.76h0.6M356.62 129.99h0.6M348.94 136.52h0.6M356.62 122.7h0.6M357.82 111.03h0.6M360.7 127.61h0.6M355.51 143.92h0.6M352.28 118.76h0.6M355.06 132.34h0.6M353.73 132.95h0.6M363.91 104.42h0.6M357.48 99.94h0.6M356.19 118.08h0.6M360.27 125.64h0.6M353.68 136.69h0.6M363.55 110.36h0.6M351.96 125.67h0.6M368.03 123.09h0.6M355.33 125.67h0.6M362.07 123.05h0.6M359.81 118.8h0.6M355.43 113.61h0.6M362.38 117.8h0.6M359.47 128.16h0.6M369.27 94.98h0.6M353.84 108.41h0.6M354.12 131.57h0.6M369.14 143.22h0.6M364.54 128.96h0.6M353.35 128.34h0.6M341.32 130.3h0.6M355.62 129.76h0.6M353.15 109.68h0.6M353.11 121.68h0.6M359.99 119.59h0.6M357.59 130.9h0.6M350.03 120.36h0.6M348.6 114.95h0.6M364.28 116.38h0.6M367.4 130.98h0.6M362.28 125.31h0.6M359.83 136.1h0.6M358.9 117.35h0.6M349.1 143.38h0.6M356.93 117.76h0.6M356.52 103.64h0.6M353.14 125.89h0.6M355.75 114.06h0.6M358.48 128.57h0.6M353.57 125.79h0.6M348.96 131.13h0.6M351.66 118.02h0.6M358.82 118.59h0.6M345.01 144.45h0.6M370.48 105.93h0.6M360.7 109.29h0.6M361.97 109.15h0.6M359.37 129.58h0.6M364.81 138.44h0.6M351.96 132.75h0.6M354.41 121.16h0.6M357.99 103.06h0.6M365.48 101.55h0.6M354.31 128.44h0.6M361.38 105.91h0.6M351.38 129.59h0.6M360.12 141.92h0.6M344.66 125.64h0.6M352.23 130.73h0.6M346.85 119.22h0.6M362.9 116.88h0.6M357.03 111.8h0.6M367.01 109.94h0.6M352.1 118.16h0.6M350.12 145.72h0.6M360.64 114.25h0.6M359.81 127.53h0.6M358.9 122.66h0.6M362.6 110.78h0.6M350.52 116.75h0.6M348.51 129.22h0.6M366.18 139.1h0.6M358.99 127.29h0.6M355.77 107.87h0.6M363.85 107.53h0.6M359.21 121.85h0.6M361.55 124.54h0.6M359.01 116.77h0.6M347.1 116.96h0.6M358.89 135.37h0.6M367.88 113.92h0.6M349.55 129.44h0.6M348.2 150.57h0.6M362.49 106.78h0.6M349.9 139.47h0.6M345.31 122.26h0.6M344.66 138.71h0.6M356.62 111.12h0.6M348.05 112.93h0.6M342.23 114.42h0.6M370.32 126.97h0.6M358.05 109.94h0.6M360.22 118.28h0.6M348.51 137.05h0.6M361.8 113.85h0.6M366.32 124.35h0.6M359.78 125.28h0.6M362.89 131.3h0.6M353.17 130.41h0.6M354.26 123.95h0.6M369.67 113.54h0.6M351.5 117.24h0.6M350.87 136.61h0.6M341.76 146.04h0.6M367.9 120.17h0.6M359 119.29h0.6M359.63 131.15h0.6M359.89 132.39h0.6M369.41 123.69h0.6M361.78 121.88h0.6M356.73 125.46h0.6M355.87 126.73h0.6M352.06 120.2h0.6M355.96 109.39h0.6M353.76 116.61h0.6M359.71 105.68h0.6M358.03 110.28h0.6M351.47 124h0.6M363.23 127.61h0.6M354.98 117.54h0.6M369.12 106.96h0.6M367.59 108.04h0.6M352.95 122.67h0.6M351.75 140.95h0.6M360.19 123.13h0.6M362.84 124.67h0.6M349.37 134.26h0.6M363.34 139.04h0.6M345.24 142.38h0.6M352.61 130.88h0.6M358.87 150.68h0.6M349.33 109.66h0.6M363.19 129.99h0.6M361.89 90.46h0.6M360.18 121.54h0.6M334.5 148.95h0.6M342.74 113.56h0.6M356.42 125.55h0.6M362.31 121.08h0.6M352.26 117.86h0.6M346.52 107.94h0.6M370.9 118.07h0.6M352.07 143.74h0.6M363.27 125.74h0.6M362.21 121.01h0.6M349.02 132.81h0.6M354.1 140.78h0.6M356.24 118.54h0.6M359.59 121.37h0.6M357.15 112.76h0.6M357.83 126.89h0.6M368.46 125.14h0.6M344.98 125.8h0.6M372.29 121.18h0.6M352.4 120.11h0.6M339.96 115.53h0.6M359.36 106.13h0.6M362.64 114.14h0.6M347.16 112.64h0.6M356.46 144.97h0.6M364.34 126.81h0.6M354.42 119.45h0.6M364.25 118.59h0.6M357.34 134.19h0.6M352.72 115.33h0.6M359.78 123.69h0.6M357.46 117.01h0.6M352.27 143.32h0.6M369.25 107.05h0.6M357.08 124.08h0.6M360.46 107.85h0.6M355.84 124.46h0.6M352.01 125.55h0.6M345.33 103.18h0.6M356.72 127.43h0.6M357.04 117.73h0.6M355.62 135.17h0.6M362.79 123.32h0.6M351.61 134.08h0.6M358.31 133.44h0.6M357.28 113.16h0.6M359.63 116.37h0.6M362.17 133.94h0.6M341.83 127.44h0.6M362.89 136.2h0.6M356.06 112.9h0.6M360.68 135.46h0.6M360.07 110.37h0.6M346.85 123.92h0.6M353.43 114.42h0.6M357.32 135.15h0.6M345.69 112.88h0.6M365.21 124.26h0.6M353.37 129.58h0.6M352.76 108.02h0.6M353.47 140.25h0.6M363.35 124.29h0.6" fill="none" stroke="#26358f" stroke-width="0.6" stroke-opacity="0.5"/>
<ellipse cx="357" cy="123" rx="9.5" ry="18" transform="rotate(12 357 123)" fill="#3a58a8" opacity="0.6" filter="url(#bl2)"/>
<ellipse cx="358" cy="117" rx="5" ry="11" transform="rotate(12 358 117)" fill="#2f9098" opacity="0.55" filter="url(#bl1)"/>
<ellipse cx="358.8" cy="111" rx="3.5" ry="3.5" transform="rotate(0 358.8 111)" fill="#5cb060" opacity="0.8" filter="url(#bl1)"/>
<ellipse cx="358.8" cy="110.5" rx="1.8" ry="1.8" transform="rotate(0 358.8 110.5)" fill="#a8d040" opacity="0.8" filter="url(#bl1)"/>
<path d="M335.06 125.72h0.6M310.55 118.17h0.6M327.93 136.39h0.6M328.4 129.16h0.6M320.8 138.47h0.6M322.94 118.88h0.6M338.78 123.57h0.6M328.64 129.46h0.6M335.96 130.69h0.6M337.8 130.25h0.6M319.08 126.37h0.6M330.88 122.88h0.6M334.27 127.1h0.6M313.79 124.03h0.6M324.02 143.41h0.6M332.75 129.22h0.6M315.88 145.16h0.6M321.4 130.05h0.6M320.71 140.36h0.6M326.01 126.15h0.6M325.74 122.02h0.6M312.91 129.57h0.6M294.07 141.47h0.6M345.16 119.46h0.6M321.82 117.92h0.6M326.4 131.25h0.6M331.52 118.95h0.6M317.47 125.44h0.6M323.26 147.43h0.6M322.22 129.68h0.6M319.44 136.35h0.6M352.89 136.23h0.6M340.25 120.18h0.6M335.86 129.01h0.6M338.64 136.68h0.6M330.37 116.41h0.6M325.52 125.86h0.6M329.27 129.66h0.6M334.68 116.59h0.6M316.34 129.93h0.6M327.6 126.42h0.6M324.13 130.25h0.6M335.66 127.94h0.6M325.81 115.72h0.6M295.11 121.12h0.6M326.73 111.89h0.6M328.77 128.68h0.6M323.94 124.23h0.6M320.41 136.53h0.6M328.26 129.26h0.6M319.25 131.88h0.6M337.27 128.53h0.6M319.64 121.16h0.6M324.86 122.71h0.6M309.42 137.8h0.6M316.29 114.86h0.6M317.85 144.54h0.6M322.36 119.79h0.6M312.95 136.33h0.6M328.95 131.04h0.6M322.6 133.68h0.6M341.4 132.06h0.6M321.69 119.28h0.6M330.26 141.34h0.6M330.58 119.59h0.6M327.27 139.54h0.6M317.85 134.18h0.6M338.6 141.15h0.6M306 117.97h0.6M328.93 134.82h0.6M320.55 129.98h0.6M320.78 139.35h0.6M300.59 133.84h0.6M310.08 125.84h0.6M307.18 124.3h0.6M324.16 130.03h0.6M343.63 126.42h0.6M328.39 132.18h0.6M328.18 140.77h0.6M326 130.81h0.6M323.18 129.94h0.6M324.46 137.47h0.6M324.66 130.31h0.6M324.39 135.64h0.6M319.91 137.43h0.6M318.66 135.65h0.6M345.38 129.76h0.6M322.66 120.85h0.6M332.43 129.2h0.6M333.83 123.91h0.6M331.26 143.13h0.6M328.54 126.92h0.6M310.26 130.97h0.6M331.95 133.76h0.6M311.58 123h0.6M313.12 122.92h0.6M321.58 132.1h0.6M345.41 129.47h0.6M339.07 115.76h0.6M341.68 134.45h0.6M329.74 135.7h0.6M332.39 143.88h0.6M331.98 115.7h0.6M306.5 143.81h0.6M324.38 140.01h0.6M320.24 125.1h0.6M320.89 132.54h0.6M326.01 124.87h0.6M330.65 134.02h0.6M313.68 122.14h0.6M302.88 129.31h0.6M324.05 124.46h0.6M317.76 129.35h0.6M325.1 134.15h0.6M333.74 132.36h0.6M335.91 121.31h0.6M331.24 132.08h0.6M312.6 125.6h0.6M329.27 129.95h0.6M310.37 126.75h0.6M341.55 134.82h0.6M326.19 140.07h0.6M314.42 129.35h0.6M334.6 126.31h0.6M312.64 135.36h0.6M340.12 108.8h0.6M325.24 120.06h0.6M320.21 119.24h0.6M352.23 122.1h0.6M324.41 124.34h0.6M313.33 127.25h0.6M327.84 143.06h0.6M328.57 141.55h0.6M312.86 131.36h0.6M318.59 118.19h0.6M364.79 124.39h0.6M326.55 123.78h0.6M317.44 122.4h0.6M335.28 125.73h0.6M322.95 131.33h0.6M311.22 132.75h0.6M322.84 133.38h0.6M320.24 130.46h0.6M330.68 136.73h0.6M317.56 137.92h0.6M313.55 129.29h0.6M325.92 130.79h0.6M296.58 124.67h0.6M323.02 137.07h0.6M317.75 142.07h0.6M304.84 132.11h0.6M330.28 129.42h0.6M327.9 136.72h0.6M316.03 135.1h0.6M335.81 127h0.6M298.42 122.86h0.6M314.4 122.49h0.6M328.55 123.21h0.6M351.76 131.82h0.6M310 128.84h0.6" fill="none" stroke="#3838c8" stroke-width="0.6" stroke-opacity="0.3"/>
<ellipse cx="324.4" cy="129.8" rx="12.75" ry="9" transform="rotate(-5 324.4 129.8)" fill="#5a5ad8" opacity="0.35" filter="url(#bl1)"/>
<ellipse cx="324.4" cy="129.8" rx="9.18" ry="6.48" transform="rotate(-5 324.4 129.8)" fill="#2a48c0" opacity="0.85" filter="url(#bl1)"/>
<ellipse cx="324.4" cy="129.8" rx="7.65" ry="5.4" transform="rotate(-5 324.4 129.8)" fill="#28a6c4" opacity="1" filter="url(#bl1)"/>
<ellipse cx="324.4" cy="129.8" rx="6.29" ry="4.44" transform="rotate(-5 324.4 129.8)" fill="#42be50" opacity="1" filter="url(#bl1)"/>
<ellipse cx="324.4" cy="129.8" rx="4.25" ry="3" transform="rotate(-5 324.4 129.8)" fill="#b8d830" opacity="1" filter="url(#bl05)"/>
<ellipse cx="324.4" cy="129.8" rx="2.72" ry="1.92" transform="rotate(-5 324.4 129.8)" fill="#f0a020" opacity="1" filter="url(#bl05)"/>
<ellipse cx="324.4" cy="129.8" rx="1.45" ry="1.02" transform="rotate(-5 324.4 129.8)" fill="#ec5018" opacity="1" filter="url(#bl05)"/>
</g>
<line x1="343.5" y1="92.3" x2="343.5" y2="152.3" stroke="#7a7a7a" stroke-width="0.75"/>
<line x1="314.8" y1="125" x2="374.6" y2="125" stroke="#7a7a7a" stroke-width="0.75"/>
<rect x="314.8" y="92.3" width="59.8" height="60" fill="none" stroke="#333" stroke-width="0.9"/>
<line x1="313" y1="98" x2="314.8" y2="98" stroke="#333" stroke-width="0.6"/>
<line x1="313" y1="111.5" x2="314.8" y2="111.5" stroke="#333" stroke-width="0.6"/>
<line x1="313" y1="125.7" x2="314.8" y2="125.7" stroke="#333" stroke-width="0.6"/>
<line x1="313.3" y1="139.6" x2="314.8" y2="139.6" stroke="#222" stroke-width="0.6"/>
<line x1="313.3" y1="141.8" x2="314.8" y2="141.8" stroke="#222" stroke-width="0.6"/>
<line x1="313.3" y1="143.3" x2="314.8" y2="143.3" stroke="#222" stroke-width="0.6"/>
<line x1="313.3" y1="144.5" x2="314.8" y2="144.5" stroke="#222" stroke-width="0.6"/>
<line x1="313.3" y1="145.8" x2="314.8" y2="145.8" stroke="#222" stroke-width="0.6"/>
<line x1="313.3" y1="147.3" x2="314.8" y2="147.3" stroke="#222" stroke-width="0.6"/>
<line x1="313.3" y1="148.8" x2="314.8" y2="148.8" stroke="#222" stroke-width="0.6"/>
<line x1="316.3" y1="152.3" x2="316.3" y2="153.8" stroke="#222" stroke-width="0.6"/>
<line x1="317.8" y1="152.3" x2="317.8" y2="153.8" stroke="#222" stroke-width="0.6"/>
<line x1="319.3" y1="152.3" x2="319.3" y2="153.8" stroke="#222" stroke-width="0.6"/>
<line x1="320.8" y1="152.3" x2="320.8" y2="153.8" stroke="#222" stroke-width="0.6"/>
<line x1="322.3" y1="152.3" x2="322.3" y2="153.8" stroke="#222" stroke-width="0.6"/>
<line x1="342.91" y1="152.3" x2="342.91" y2="153.3" stroke="#555" stroke-width="0.4"/>
<line x1="344.7" y1="152.3" x2="344.7" y2="153.3" stroke="#555" stroke-width="0.4"/>
<line x1="347.69" y1="152.3" x2="347.69" y2="153.3" stroke="#555" stroke-width="0.4"/>
<line x1="350.68" y1="152.3" x2="350.68" y2="153.3" stroke="#555" stroke-width="0.4"/>
<line x1="354.27" y1="152.3" x2="354.27" y2="153.3" stroke="#555" stroke-width="0.4"/>
<line x1="357.86" y1="152.3" x2="357.86" y2="153.3" stroke="#555" stroke-width="0.4"/>
<line x1="359.65" y1="152.3" x2="359.65" y2="153.3" stroke="#555" stroke-width="0.4"/>
<line x1="362.64" y1="152.3" x2="362.64" y2="153.3" stroke="#555" stroke-width="0.4"/>
<line x1="366.23" y1="152.3" x2="366.23" y2="153.3" stroke="#555" stroke-width="0.4"/>
<line x1="369.82" y1="152.3" x2="369.82" y2="153.3" stroke="#555" stroke-width="0.4"/>
<line x1="372.81" y1="152.3" x2="372.81" y2="153.3" stroke="#555" stroke-width="0.4"/>
<text x="316.4" y="99.7" font-size="6.6" text-anchor="start" font-weight="normal" fill="#222">1.58</text>
<text x="373.3" y="99.7" font-size="6.6" text-anchor="end" font-weight="normal" fill="#222">36.6</text>
<text x="316.4" y="150.3" font-size="6.6" text-anchor="start" font-weight="normal" fill="#222">44.5</text>
<text x="373.3" y="150.3" font-size="6.6" text-anchor="end" font-weight="normal" fill="#222">17.3</text>
<text x="321.4" y="163.2" font-size="6.3" text-anchor="middle" font-weight="normal" fill="#222">0</text>
<text x="339.9" y="163.2" font-size="6.3" text-anchor="middle" font-weight="normal" fill="#222">10</text>
<text x="344.1" y="160.4" font-size="4.4" text-anchor="middle" font-weight="normal" fill="#222">3</text>
<text x="354.4" y="163.2" font-size="6.3" text-anchor="middle" font-weight="normal" fill="#222">10</text>
<text x="358.6" y="160.4" font-size="4.4" text-anchor="middle" font-weight="normal" fill="#222">4</text>
<text x="367.6" y="163.2" font-size="6.3" text-anchor="middle" font-weight="normal" fill="#222">10</text>
<text x="371.8" y="160.4" font-size="4.4" text-anchor="middle" font-weight="normal" fill="#222">5</text>
<text x="164.6" y="100.2" font-size="6.3" text-anchor="end" font-weight="normal" fill="#222">10</text>
<text x="166.7" y="97.3" font-size="4.4" text-anchor="middle" font-weight="normal" fill="#222">5</text>
<text x="164.6" y="113.7" font-size="6.3" text-anchor="end" font-weight="normal" fill="#222">10</text>
<text x="166.7" y="110.8" font-size="4.4" text-anchor="middle" font-weight="normal" fill="#222">4</text>
<text x="164.6" y="127.9" font-size="6.3" text-anchor="end" font-weight="normal" fill="#222">10</text>
<text x="166.7" y="125" font-size="4.4" text-anchor="middle" font-weight="normal" fill="#222">3</text>
<text x="165.8" y="141.8" font-size="6.3" text-anchor="end" font-weight="normal" fill="#222">0</text>
<text x="0" y="0" font-size="6.2" text-anchor="middle" font-weight="normal" fill="#222" transform="translate(152 52.2) rotate(-90)">Vehicle</text>
<text x="0" y="0" font-size="6.2" text-anchor="middle" font-weight="normal" fill="#222" transform="translate(152.2 122.3) rotate(-90)">Ara-C (200nM)</text>
<line x1="142.2" y1="160.2" x2="142.2" y2="129.5" stroke="#111" stroke-width="0.9"/>
<path d="M142.2 125.8 L140.2 130.5 L144.2 130.5 Z" fill="#111" stroke="none" stroke-width="1"/>
<line x1="142.2" y1="160.2" x2="171.5" y2="160.2" stroke="#111" stroke-width="0.9"/>
<path d="M175.3 160.2 L170.6 158.2 L170.6 162.2 Z" fill="#111" stroke="none" stroke-width="1"/>
<text x="0" y="0" font-size="6.4" text-anchor="middle" font-weight="bold" fill="#222" transform="translate(137.3 142.5) rotate(-90) scale(0.8 1)">DAPI</text>
<text x="0" y="0" font-size="6.4" text-anchor="middle" font-weight="bold" fill="#222" transform="translate(158.6 169.8) scale(0.8 1)">Annexin V</text>
<text x="387.6" y="10.6" font-size="10.5" text-anchor="start" font-weight="bold" fill="#111">C</text>
<text x="467" y="8.4" font-size="9" text-anchor="middle" font-weight="normal" fill="#222">Apoptosis - AraC</text>
<text x="467" y="18.3" font-size="8.2" text-anchor="middle" font-weight="normal" fill="#222">MA cells</text>
<line x1="424.3" y1="24" x2="424.3" y2="151.1" stroke="#1a1a1a" stroke-width="1.1"/>
<line x1="422" y1="150.5" x2="424.3" y2="150.5" stroke="#1a1a1a" stroke-width="0.8"/>
<text x="418.7" y="152.7" font-size="6.2" text-anchor="end" font-weight="normal" fill="#2a2a2a">0</text>
<line x1="422" y1="108.7" x2="424.3" y2="108.7" stroke="#1a1a1a" stroke-width="0.8"/>
<text x="418.7" y="110.9" font-size="6.2" text-anchor="end" font-weight="normal" fill="#2a2a2a">20</text>
<line x1="422" y1="66.9" x2="424.3" y2="66.9" stroke="#1a1a1a" stroke-width="0.8"/>
<text x="418.7" y="69.1" font-size="6.2" text-anchor="end" font-weight="normal" fill="#2a2a2a">40</text>
<line x1="422" y1="25.1" x2="424.3" y2="25.1" stroke="#1a1a1a" stroke-width="0.8"/>
<text x="418.7" y="27.3" font-size="6.2" text-anchor="end" font-weight="normal" fill="#2a2a2a">60</text>
<text x="0" y="0" font-size="7" text-anchor="middle" font-weight="bold" fill="#222" transform="translate(406.3 87.1) rotate(-90) scale(0.75 1)">Apoptosis (%)</text>
<line x1="423.8" y1="150.8" x2="501" y2="150.8" stroke="#1a1a1a" stroke-width="1.2"/>
<rect x="433.7" y="110.79" width="16.5" height="39.71" fill="#9195a8" stroke="none" stroke-width="1"/>
<line x1="441.95" y1="150.8" x2="441.95" y2="153" stroke="#1a1a1a" stroke-width="0.8"/>
<line x1="441.95" y1="104.52" x2="441.95" y2="110.79" stroke="#222" stroke-width="1"/>
<line x1="437.85" y1="104.52" x2="446.05" y2="104.52" stroke="#222" stroke-width="1.25"/>
<circle cx="437.85" cy="104.6" r="1.75" fill="#4b4f5f" stroke="#22252e" stroke-width="0.9"/>
<circle cx="445.55" cy="103.4" r="1.75" fill="#4b4f5f" stroke="#22252e" stroke-width="0.9"/>
<circle cx="445.95" cy="108.3" r="1.75" fill="#4b4f5f" stroke="#22252e" stroke-width="0.9"/>
<circle cx="441.85" cy="123.7" r="1.75" fill="#4b4f5f" stroke="#22252e" stroke-width="0.9"/>
<rect x="458.6" y="87.8" width="16.4" height="62.7" fill="#b5da9f" stroke="none" stroke-width="1"/>
<line x1="466.8" y1="150.8" x2="466.8" y2="153" stroke="#1a1a1a" stroke-width="0.8"/>
<line x1="466.8" y1="83.2" x2="466.8" y2="87.8" stroke="#222" stroke-width="1"/>
<line x1="462.7" y1="83.2" x2="470.9" y2="83.2" stroke="#222" stroke-width="1.25"/>
<circle cx="466.9" cy="78" r="1.75" fill="#4f9e4c" stroke="#1d5a20" stroke-width="0.9"/>
<circle cx="466.9" cy="85.8" r="1.75" fill="#4f9e4c" stroke="#1d5a20" stroke-width="0.9"/>
<circle cx="462.6" cy="94.6" r="1.75" fill="#4f9e4c" stroke="#1d5a20" stroke-width="0.9"/>
<circle cx="470.9" cy="91.5" r="1.75" fill="#4f9e4c" stroke="#1d5a20" stroke-width="0.9"/>
<circle cx="465.68" cy="70.2" r="0.78" fill="#1a1a1a" stroke="none" stroke-width="1"/>
<circle cx="467.93" cy="70.2" r="0.78" fill="#1a1a1a" stroke="none" stroke-width="1"/>
<rect x="484" y="61.67" width="15.8" height="88.83" fill="#aad0f1" stroke="none" stroke-width="1"/>
<line x1="491.9" y1="150.8" x2="491.9" y2="153" stroke="#1a1a1a" stroke-width="0.8"/>
<line x1="491.9" y1="56.03" x2="491.9" y2="61.67" stroke="#222" stroke-width="1"/>
<line x1="487.8" y1="56.03" x2="496" y2="56.03" stroke="#222" stroke-width="1.25"/>
<circle cx="491.9" cy="50.8" r="1.75" fill="#3f9ad3" stroke="#1c5a88" stroke-width="0.9"/>
<circle cx="491.9" cy="59" r="1.75" fill="#3f9ad3" stroke="#1c5a88" stroke-width="0.9"/>
<circle cx="491.9" cy="63.8" r="1.75" fill="#3f9ad3" stroke="#1c5a88" stroke-width="0.9"/>
<circle cx="491.9" cy="72.6" r="1.75" fill="#3f9ad3" stroke="#1c5a88" stroke-width="0.9"/>
<circle cx="488.52" cy="43.2" r="0.78" fill="#1a1a1a" stroke="none" stroke-width="1"/>
<circle cx="490.77" cy="43.2" r="0.78" fill="#1a1a1a" stroke="none" stroke-width="1"/>
<circle cx="493.02" cy="43.2" r="0.78" fill="#1a1a1a" stroke="none" stroke-width="1"/>
<circle cx="495.27" cy="43.2" r="0.78" fill="#1a1a1a" stroke="none" stroke-width="1"/>
<text x="427.3" y="161.5" font-size="6.2" text-anchor="end" font-weight="normal" fill="#222">Ara-C:</text>
<circle cx="441.95" cy="159.3" r="2.25" fill="#111" stroke="none" stroke-width="1"/>
<text x="441.95" y="170.1" font-size="6.2" text-anchor="middle" font-weight="normal" fill="#222">sgCtrl</text>
<text x="466.8" y="170.1" font-size="6.2" text-anchor="middle" font-weight="normal" fill="#222">#1</text>
<circle cx="491.9" cy="159.3" r="2.25" fill="#111" stroke="none" stroke-width="1"/>
<text x="491.9" y="170.1" font-size="6.2" text-anchor="middle" font-weight="normal" fill="#222">#2</text>
<line x1="458" y1="174.8" x2="500.7" y2="174.8" stroke="#333" stroke-width="0.8"/>
<text x="0" y="0" font-size="6.6" text-anchor="middle" font-weight="bold" fill="#222" transform="translate(479.35 183.8) scale(0.78 1)">sgHerc1</text>
<text x="6.8" y="210.6" font-size="10.5" text-anchor="start" font-weight="bold" fill="#111">D</text>
<text x="84.6" y="208.4" font-size="9" text-anchor="middle" font-weight="normal" fill="#222">Apoptosis - AraC</text>
<text x="84.6" y="218.7" font-size="8.2" text-anchor="middle" font-weight="normal" fill="#222">HM cells</text>
<line x1="42.8" y1="226" x2="42.8" y2="354.4" stroke="#1a1a1a" stroke-width="1.1"/>
<line x1="40.5" y1="353.8" x2="42.8" y2="353.8" stroke="#1a1a1a" stroke-width="0.8"/>
<text x="37.2" y="356" font-size="6.2" text-anchor="end" font-weight="normal" fill="#2a2a2a">0</text>
<line x1="40.5" y1="311.73" x2="42.8" y2="311.73" stroke="#1a1a1a" stroke-width="0.8"/>
<text x="37.2" y="313.93" font-size="6.2" text-anchor="end" font-weight="normal" fill="#2a2a2a">10</text>
<line x1="40.5" y1="269.67" x2="42.8" y2="269.67" stroke="#1a1a1a" stroke-width="0.8"/>
<text x="37.2" y="271.87" font-size="6.2" text-anchor="end" font-weight="normal" fill="#2a2a2a">20</text>
<line x1="40.5" y1="227.6" x2="42.8" y2="227.6" stroke="#1a1a1a" stroke-width="0.8"/>
<text x="37.2" y="229.8" font-size="6.2" text-anchor="end" font-weight="normal" fill="#2a2a2a">30</text>
<text x="0" y="0" font-size="7" text-anchor="middle" font-weight="bold" fill="#222" transform="translate(24.2 290.2) rotate(-90) scale(0.75 1)">Apoptosis (%)</text>
<line x1="42.3" y1="354.1" x2="120.5" y2="354.1" stroke="#1a1a1a" stroke-width="1.2"/>
<rect x="51.1" y="336.7" width="16.6" height="17.1" fill="#9195a8" stroke="none" stroke-width="1"/>
<line x1="59.4" y1="354.1" x2="59.4" y2="356.3" stroke="#1a1a1a" stroke-width="0.8"/>
<line x1="59.4" y1="333.2" x2="59.4" y2="336.7" stroke="#222" stroke-width="1"/>
<line x1="55.3" y1="333.2" x2="63.5" y2="333.2" stroke="#222" stroke-width="1.25"/>
<circle cx="55.4" cy="332.5" r="1.75" fill="#4b4f5f" stroke="#22252e" stroke-width="0.9"/>
<circle cx="63.2" cy="332.5" r="1.75" fill="#4b4f5f" stroke="#22252e" stroke-width="0.9"/>
<circle cx="59.4" cy="345.5" r="1.75" fill="#4b4f5f" stroke="#22252e" stroke-width="0.9"/>
<rect x="76" y="297.6" width="16.6" height="56.2" fill="#b5da9f" stroke="none" stroke-width="1"/>
<line x1="84.3" y1="354.1" x2="84.3" y2="356.3" stroke="#1a1a1a" stroke-width="0.8"/>
<line x1="84.3" y1="286.3" x2="84.3" y2="297.6" stroke="#222" stroke-width="1"/>
<line x1="80.2" y1="286.3" x2="88.4" y2="286.3" stroke="#222" stroke-width="1.25"/>
<circle cx="84.3" cy="278.7" r="1.75" fill="#4f9e4c" stroke="#1d5a20" stroke-width="0.9"/>
<circle cx="84.3" cy="295.8" r="1.75" fill="#4f9e4c" stroke="#1d5a20" stroke-width="0.9"/>
<circle cx="84.3" cy="317.8" r="1.75" fill="#4f9e4c" stroke="#1d5a20" stroke-width="0.9"/>
<circle cx="84.3" cy="270.4" r="0.78" fill="#1a1a1a" stroke="none" stroke-width="1"/>
<rect x="101" y="280" width="16.7" height="73.8" fill="#aad0f1" stroke="none" stroke-width="1"/>
<line x1="109.35" y1="354.1" x2="109.35" y2="356.3" stroke="#1a1a1a" stroke-width="0.8"/>
<line x1="109.35" y1="267.3" x2="109.35" y2="280" stroke="#222" stroke-width="1"/>
<line x1="105.25" y1="267.3" x2="113.45" y2="267.3" stroke="#222" stroke-width="1.25"/>
<circle cx="109.35" cy="257.4" r="1.75" fill="#3f9ad3" stroke="#1c5a88" stroke-width="0.9"/>
<circle cx="109.35" cy="282.7" r="1.75" fill="#3f9ad3" stroke="#1c5a88" stroke-width="0.9"/>
<circle cx="109.35" cy="298.1" r="1.75" fill="#3f9ad3" stroke="#1c5a88" stroke-width="0.9"/>
<circle cx="109.35" cy="248.9" r="0.78" fill="#1a1a1a" stroke="none" stroke-width="1"/>
<text x="45" y="364" font-size="6.2" text-anchor="end" font-weight="normal" fill="#222">Ara-C:</text>
<circle cx="59.4" cy="361.8" r="2.25" fill="#111" stroke="none" stroke-width="1"/>
<text x="59.4" y="372.6" font-size="6.2" text-anchor="middle" font-weight="normal" fill="#222">sgCtrl</text>
<circle cx="84.3" cy="361.8" r="2.25" fill="#111" stroke="none" stroke-width="1"/>
<text x="84.3" y="372.6" font-size="6.2" text-anchor="middle" font-weight="normal" fill="#222">sg1</text>
<circle cx="109.35" cy="361.8" r="2.25" fill="#111" stroke="none" stroke-width="1"/>
<text x="109.35" y="372.6" font-size="6.2" text-anchor="middle" font-weight="normal" fill="#222">sg2</text>
<line x1="76.2" y1="377.3" x2="117.7" y2="377.3" stroke="#333" stroke-width="0.8"/>
<text x="0" y="0" font-size="6.6" text-anchor="middle" font-weight="bold" fill="#222" transform="translate(96.95 386.3) scale(0.78 1)">sgHerc1</text>
<text x="141.4" y="210.6" font-size="10.5" text-anchor="start" font-weight="bold" fill="#111">E</text>
<text x="218" y="208.4" font-size="9" text-anchor="middle" font-weight="normal" fill="#222">Apoptosis - AraC</text>
<text x="218" y="218.7" font-size="8.2" text-anchor="middle" font-weight="normal" fill="#222">U937 cells</text>
<line x1="176.3" y1="226" x2="176.3" y2="354.4" stroke="#1a1a1a" stroke-width="1.1"/>
<line x1="174" y1="353.8" x2="176.3" y2="353.8" stroke="#1a1a1a" stroke-width="0.8"/>
<text x="170.7" y="356" font-size="6.2" text-anchor="end" font-weight="normal" fill="#2a2a2a">0</text>
<line x1="174" y1="311.97" x2="176.3" y2="311.97" stroke="#1a1a1a" stroke-width="0.8"/>
<text x="170.7" y="314.17" font-size="6.2" text-anchor="end" font-weight="normal" fill="#2a2a2a">20</text>
<line x1="174" y1="270.13" x2="176.3" y2="270.13" stroke="#1a1a1a" stroke-width="0.8"/>
<text x="170.7" y="272.33" font-size="6.2" text-anchor="end" font-weight="normal" fill="#2a2a2a">40</text>
<line x1="174" y1="228.3" x2="176.3" y2="228.3" stroke="#1a1a1a" stroke-width="0.8"/>
<text x="170.7" y="230.5" font-size="6.2" text-anchor="end" font-weight="normal" fill="#2a2a2a">60</text>
<text x="0" y="0" font-size="7" text-anchor="middle" font-weight="bold" fill="#222" transform="translate(157.8 290.8) rotate(-90) scale(0.75 1)">Apoptosis (%)</text>
<line x1="175.8" y1="354.1" x2="254.5" y2="354.1" stroke="#1a1a1a" stroke-width="1.2"/>
<rect x="185" y="301.2" width="16.1" height="52.6" fill="#9195a8" stroke="none" stroke-width="1"/>
<line x1="193.05" y1="354.1" x2="193.05" y2="356.3" stroke="#1a1a1a" stroke-width="0.8"/>
<line x1="193.05" y1="295.3" x2="193.05" y2="301.2" stroke="#222" stroke-width="1"/>
<line x1="188.95" y1="295.3" x2="197.15" y2="295.3" stroke="#222" stroke-width="1.25"/>
<circle cx="188.95" cy="290.5" r="1.75" fill="#4b4f5f" stroke="#22252e" stroke-width="0.9"/>
<circle cx="196.85" cy="290.5" r="1.75" fill="#4b4f5f" stroke="#22252e" stroke-width="0.9"/>
<circle cx="193.25" cy="305.7" r="1.75" fill="#4b4f5f" stroke="#22252e" stroke-width="0.9"/>
<circle cx="193.25" cy="316.6" r="1.75" fill="#4b4f5f" stroke="#22252e" stroke-width="0.9"/>
<rect x="209.9" y="284" width="16.1" height="69.8" fill="#b5da9f" stroke="none" stroke-width="1"/>
<line x1="217.95" y1="354.1" x2="217.95" y2="356.3" stroke="#1a1a1a" stroke-width="0.8"/>
<line x1="217.95" y1="276.8" x2="217.95" y2="284" stroke="#222" stroke-width="1"/>
<line x1="213.85" y1="276.8" x2="222.05" y2="276.8" stroke="#222" stroke-width="1.25"/>
<circle cx="218.15" cy="268.5" r="1.75" fill="#4f9e4c" stroke="#1d5a20" stroke-width="0.9"/>
<circle cx="214.05" cy="280.8" r="1.75" fill="#4f9e4c" stroke="#1d5a20" stroke-width="0.9"/>
<circle cx="221.65" cy="284" r="1.75" fill="#4f9e4c" stroke="#1d5a20" stroke-width="0.9"/>
<circle cx="218.15" cy="301.2" r="1.75" fill="#4f9e4c" stroke="#1d5a20" stroke-width="0.9"/>
<circle cx="216.82" cy="259" r="0.78" fill="#1a1a1a" stroke="none" stroke-width="1"/>
<circle cx="219.07" cy="259" r="0.78" fill="#1a1a1a" stroke="none" stroke-width="1"/>
<rect x="234.7" y="288.2" width="16.1" height="65.6" fill="#aad0f1" stroke="none" stroke-width="1"/>
<line x1="242.75" y1="354.1" x2="242.75" y2="356.3" stroke="#1a1a1a" stroke-width="0.8"/>
<line x1="242.75" y1="281" x2="242.75" y2="288.2" stroke="#222" stroke-width="1"/>
<line x1="238.65" y1="281" x2="246.85" y2="281" stroke="#222" stroke-width="1.25"/>
<circle cx="242.55" cy="270.9" r="1.75" fill="#3f9ad3" stroke="#1c5a88" stroke-width="0.9"/>
<circle cx="239.25" cy="287.5" r="1.75" fill="#3f9ad3" stroke="#1c5a88" stroke-width="0.9"/>
<circle cx="246.85" cy="289.1" r="1.75" fill="#3f9ad3" stroke="#1c5a88" stroke-width="0.9"/>
<circle cx="242.55" cy="301.7" r="1.75" fill="#3f9ad3" stroke="#1c5a88" stroke-width="0.9"/>
<circle cx="241.62" cy="263" r="0.78" fill="#1a1a1a" stroke="none" stroke-width="1"/>
<circle cx="243.88" cy="263" r="0.78" fill="#1a1a1a" stroke="none" stroke-width="1"/>
<text x="178.5" y="364" font-size="6.2" text-anchor="end" font-weight="normal" fill="#222">Ara-C:</text>
<circle cx="193.05" cy="361.8" r="2.25" fill="#111" stroke="none" stroke-width="1"/>
<text x="193.05" y="372.6" font-size="6.2" text-anchor="middle" font-weight="normal" fill="#222">sgCtrl</text>
<circle cx="217.95" cy="361.8" r="2.25" fill="#111" stroke="none" stroke-width="1"/>
<text x="217.95" y="372.6" font-size="6.2" text-anchor="middle" font-weight="normal" fill="#222">sg1</text>
<circle cx="242.75" cy="361.8" r="2.25" fill="#111" stroke="none" stroke-width="1"/>
<text x="242.75" y="372.6" font-size="6.2" text-anchor="middle" font-weight="normal" fill="#222">sg2</text>
<line x1="210" y1="377.3" x2="251" y2="377.3" stroke="#333" stroke-width="0.8"/>
<text x="0" y="0" font-size="6.6" text-anchor="middle" font-weight="bold" fill="#222" transform="translate(230.5 386.3) scale(0.78 1)">sgHerc1</text>
<text x="273.4" y="209.6" font-size="10.5" text-anchor="start" font-weight="bold" fill="#111">F</text>
<text x="327.15" y="208" font-size="8.2" text-anchor="middle" font-weight="normal" fill="#222">T = 0</text>
<path d="M305.41 259.7 L305.41 259.7 L305.54 259.7 L305.66 259.68 L305.79 259.54 L305.91 256.81 L306.04 254.14 L306.16 247.23 L306.29 235.04 L306.41 221.71 L306.54 215.7 L306.66 221.71 L306.78 235.04 L306.91 247.23 L307.03 254.14 L307.16 256.81 L307.28 257.54 L307.41 257.68 L307.53 257.7 L307.66 257.7 L307.78 257.7 L307.91 257.7 L308.03 257.7 L308.16 257.7 L308.28 257.7 L308.4 257.7 L308.53 257.7 L308.65 257.7 L308.78 257.7 L308.9 257.7 L309.03 257.7 L309.15 257.7 L309.28 257.7 L309.4 257.7 L309.53 257.7 L309.65 257.7 L309.77 257.7 L309.9 257.7 L310.02 257.7 L310.15 257.7 L310.27 257.7 L310.4 257.7 L310.52 257.7 L310.65 257.7 L310.77 257.7 L310.9 257.7 L311.02 257.7 L311.15 257.7 L311.27 257.7 L311.39 257.7 L311.52 257.7 L311.64 257.7 L311.77 257.7 L311.89 257.7 L312.02 257.7 L312.14 257.7 L312.27 257.7 L312.39 257.7 L312.52 257.7 L312.64 257.7 L312.77 257.7 L312.89 257.7 L313.01 257.7 L313.14 257.7 L313.26 257.7 L313.39 257.7 L313.51 257.7 L313.64 257.7 L313.76 257.7 L313.89 257.7 L314.01 257.7 L314.14 257.7 L314.26 257.7 L314.39 257.7 L314.51 257.7 L314.63 257.7 L314.76 257.7 L314.88 257.7 L315.01 257.7 L315.13 257.7 L315.26 257.7 L315.38 257.7 L315.51 257.7 L315.63 257.7 L315.76 257.7 L315.88 257.7 L316 257.7 L316.13 257.7 L316.25 257.7 L316.38 257.7 L316.5 257.7 L316.63 257.7 L316.75 257.7 L316.88 257.7 L317 257.7 L317.13 257.69 L317.25 257.62 L317.38 257.35 L317.5 256.52 L317.62 254.82 L317.75 252.53 L317.87 250.87 L318 251.08 L318.12 252.98 L318.25 255.23 L318.37 256.75 L318.5 259.43 L318.62 259.64 L318.62 259.7 Z" fill="#a0a4b4" stroke="#5d6277" stroke-width="0.7"/>
<path d="M305.41 306.5 L305.41 306.5 L305.54 306.5 L305.66 306.48 L305.79 306.35 L305.91 303.66 L306.04 301.11 L306.16 294.53 L306.29 282.92 L306.41 270.22 L306.54 264.5 L306.66 270.22 L306.78 282.92 L306.91 294.53 L307.03 301.11 L307.16 303.66 L307.28 304.35 L307.41 304.48 L307.53 304.5 L307.66 304.5 L307.78 304.5 L307.91 304.5 L308.03 304.5 L308.16 304.5 L308.28 304.5 L308.4 304.5 L308.53 304.5 L308.65 304.5 L308.78 304.5 L308.9 304.5 L309.03 304.5 L309.15 304.5 L309.28 304.5 L309.4 304.5 L309.53 304.5 L309.65 304.5 L309.77 304.5 L309.9 304.5 L310.02 304.5 L310.15 304.5 L310.27 304.5 L310.4 304.5 L310.52 304.5 L310.65 304.5 L310.77 304.5 L310.9 304.5 L311.02 304.5 L311.15 304.5 L311.27 304.5 L311.39 304.5 L311.52 304.5 L311.64 304.5 L311.77 304.5 L311.89 304.5 L312.02 304.5 L312.14 304.5 L312.27 304.5 L312.39 304.5 L312.52 304.5 L312.64 304.5 L312.77 304.5 L312.89 304.5 L313.01 304.5 L313.14 304.5 L313.26 304.5 L313.39 304.5 L313.51 304.5 L313.64 304.5 L313.76 304.5 L313.89 304.5 L314.01 304.5 L314.14 304.5 L314.26 304.5 L314.39 304.5 L314.51 304.5 L314.63 304.5 L314.76 304.5 L314.88 304.5 L315.01 304.5 L315.13 304.5 L315.26 304.5 L315.38 304.5 L315.51 304.5 L315.63 304.5 L315.76 304.5 L315.88 304.5 L316 304.5 L316.13 304.5 L316.25 304.5 L316.38 304.5 L316.5 304.5 L316.63 304.5 L316.75 304.5 L316.88 304.5 L317 304.5 L317.13 304.49 L317.25 304.44 L317.38 304.25 L317.5 303.66 L317.62 302.44 L317.75 300.81 L317.87 299.62 L318 299.77 L318.12 301.13 L318.25 302.74 L318.37 303.82 L318.5 306.31 L318.62 306.46 L318.62 306.5 Z" fill="#abd998" stroke="#4aa845" stroke-width="0.7"/>
<path d="M305.41 353.2 L305.41 353.2 L305.54 353.2 L305.66 353.18 L305.79 353.06 L305.91 350.84 L306.04 348.55 L306.16 342.62 L306.29 332.18 L306.41 320.75 L306.54 315.6 L306.66 320.75 L306.78 332.18 L306.91 342.62 L307.03 348.55 L307.16 350.84 L307.28 351.46 L307.41 351.58 L307.53 351.6 L307.66 351.6 L307.78 351.6 L307.91 351.6 L308.03 351.6 L308.16 351.6 L308.28 351.6 L308.4 351.6 L308.53 351.6 L308.65 351.6 L308.78 351.6 L308.9 351.6 L309.03 351.6 L309.15 351.6 L309.28 351.6 L309.4 351.6 L309.53 351.6 L309.65 351.6 L309.77 351.6 L309.9 351.6 L310.02 351.6 L310.15 351.6 L310.27 351.6 L310.4 351.6 L310.52 351.6 L310.65 351.6 L310.77 351.6 L310.9 351.6 L311.02 351.6 L311.15 351.6 L311.27 351.6 L311.39 351.6 L311.52 351.6 L311.64 351.6 L311.77 351.6 L311.89 351.6 L312.02 351.6 L312.14 351.6 L312.27 351.6 L312.39 351.6 L312.52 351.6 L312.64 351.6 L312.77 351.6 L312.89 351.6 L313.01 351.6 L313.14 351.6 L313.26 351.6 L313.39 351.6 L313.51 351.6 L313.64 351.6 L313.76 351.6 L313.89 351.6 L314.01 351.6 L314.14 351.6 L314.26 351.6 L314.39 351.6 L314.51 351.6 L314.63 351.6 L314.76 351.6 L314.88 351.6 L315.01 351.6 L315.13 351.6 L315.26 351.6 L315.38 351.6 L315.51 351.6 L315.63 351.6 L315.76 351.6 L315.88 351.6 L316 351.6 L316.13 351.6 L316.25 351.6 L316.38 351.6 L316.5 351.6 L316.63 351.6 L316.75 351.6 L316.88 351.6 L317 351.6 L317.13 351.59 L317.25 351.55 L317.38 351.42 L317.5 351.13 L317.62 350.63 L317.75 350.03 L317.87 349.64 L318 349.69 L318.12 350.15 L318.25 350.74 L318.37 351.2 L318.5 353.06 L318.62 353.16 L318.62 353.2 Z" fill="#a0d2f2" stroke="#3b9edb" stroke-width="0.7"/>
<line x1="294" y1="259.7" x2="360.3" y2="259.7" stroke="#8a8a8a" stroke-width="0.9"/>
<line x1="294" y1="306.5" x2="360.3" y2="306.5" stroke="#80c574" stroke-width="0.9"/>
<rect x="294" y="212.8" width="66.3" height="140.4" fill="none" stroke="#262626" stroke-width="1.15"/>
<line x1="294.2" y1="353.2" x2="294.2" y2="355.6" stroke="#333" stroke-width="0.6"/>
<line x1="296.69" y1="353.2" x2="296.69" y2="354.8" stroke="#333" stroke-width="0.6"/>
<line x1="299.18" y1="353.2" x2="299.18" y2="354.8" stroke="#333" stroke-width="0.6"/>
<line x1="301.68" y1="353.2" x2="301.68" y2="354.8" stroke="#333" stroke-width="0.6"/>
<line x1="304.17" y1="353.2" x2="304.17" y2="354.8" stroke="#333" stroke-width="0.6"/>
<line x1="306.66" y1="353.2" x2="306.66" y2="355.6" stroke="#333" stroke-width="0.6"/>
<line x1="309.15" y1="353.2" x2="309.15" y2="354.8" stroke="#333" stroke-width="0.6"/>
<line x1="311.64" y1="353.2" x2="311.64" y2="354.8" stroke="#333" stroke-width="0.6"/>
<line x1="314.14" y1="353.2" x2="314.14" y2="354.8" stroke="#333" stroke-width="0.6"/>
<line x1="316.63" y1="353.2" x2="316.63" y2="354.8" stroke="#333" stroke-width="0.6"/>
<line x1="319.12" y1="353.2" x2="319.12" y2="355.6" stroke="#333" stroke-width="0.6"/>
<line x1="321.61" y1="353.2" x2="321.61" y2="354.8" stroke="#333" stroke-width="0.6"/>
<line x1="324.1" y1="353.2" x2="324.1" y2="354.8" stroke="#333" stroke-width="0.6"/>
<line x1="326.6" y1="353.2" x2="326.6" y2="354.8" stroke="#333" stroke-width="0.6"/>
<line x1="329.09" y1="353.2" x2="329.09" y2="354.8" stroke="#333" stroke-width="0.6"/>
<line x1="331.58" y1="353.2" x2="331.58" y2="355.6" stroke="#333" stroke-width="0.6"/>
<line x1="334.07" y1="353.2" x2="334.07" y2="354.8" stroke="#333" stroke-width="0.6"/>
<line x1="336.56" y1="353.2" x2="336.56" y2="354.8" stroke="#333" stroke-width="0.6"/>
<line x1="339.06" y1="353.2" x2="339.06" y2="354.8" stroke="#333" stroke-width="0.6"/>
<line x1="341.55" y1="353.2" x2="341.55" y2="354.8" stroke="#333" stroke-width="0.6"/>
<line x1="344.04" y1="353.2" x2="344.04" y2="355.6" stroke="#333" stroke-width="0.6"/>
<line x1="346.53" y1="353.2" x2="346.53" y2="354.8" stroke="#333" stroke-width="0.6"/>
<line x1="349.02" y1="353.2" x2="349.02" y2="354.8" stroke="#333" stroke-width="0.6"/>
<line x1="351.52" y1="353.2" x2="351.52" y2="354.8" stroke="#333" stroke-width="0.6"/>
<line x1="354.01" y1="353.2" x2="354.01" y2="354.8" stroke="#333" stroke-width="0.6"/>
<line x1="356.5" y1="353.2" x2="356.5" y2="355.6" stroke="#333" stroke-width="0.6"/>
<line x1="358.99" y1="353.2" x2="358.99" y2="354.8" stroke="#333" stroke-width="0.6"/>
<text x="294.2" y="364.8" font-size="6.2" text-anchor="middle" font-weight="normal" fill="#222">0</text>
<text x="306.66" y="364.8" font-size="6.2" text-anchor="middle" font-weight="normal" fill="#222">50</text>
<text x="319.12" y="364.8" font-size="6.2" text-anchor="middle" font-weight="normal" fill="#222">100</text>
<text x="331.58" y="364.8" font-size="6.2" text-anchor="middle" font-weight="normal" fill="#222">150</text>
<text x="344.04" y="364.8" font-size="6.2" text-anchor="middle" font-weight="normal" fill="#222">200</text>
<text x="356.5" y="364.8" font-size="6.2" text-anchor="middle" font-weight="normal" fill="#222">250</text>
<text x="402.65" y="208" font-size="8.2" text-anchor="middle" font-weight="normal" fill="#222">T = 6h</text>
<path d="M380.71 259.7 L380.71 259.54 L380.84 259.43 L380.96 259.13 L381.09 258.2 L381.21 255.9 L381.34 252.23 L381.46 249.17 L381.59 249.12 L381.71 251.75 L381.84 254.46 L381.96 255.69 L382.08 255.73 L382.21 255.32 L382.33 254.84 L382.46 254.41 L382.58 254.08 L382.71 253.86 L382.83 253.74 L382.96 253.73 L383.08 253.81 L383.21 253.95 L383.33 254.11 L383.46 254.27 L383.58 254.39 L383.7 254.46 L383.83 254.46 L383.95 254.37 L384.08 254.19 L384.2 253.94 L384.33 253.62 L384.45 253.25 L384.58 252.84 L384.7 252.42 L384.83 251.99 L384.95 251.57 L385.07 251.18 L385.2 250.83 L385.32 250.52 L385.45 250.27 L385.57 250.08 L385.7 249.95 L385.82 249.88 L385.95 249.88 L386.07 249.93 L386.2 250.05 L386.32 250.21 L386.45 250.42 L386.57 250.67 L386.69 250.94 L386.82 251.24 L386.94 251.56 L387.07 251.88 L387.19 252.21 L387.32 252.53 L387.44 252.85 L387.57 253.16 L387.69 253.45 L387.82 253.73 L387.94 254 L388.07 254.26 L388.19 254.51 L388.31 254.74 L388.44 254.97 L388.56 255.19 L388.69 255.41 L388.81 255.62 L388.94 255.83 L389.06 256.04 L389.19 256.25 L389.31 256.46 L389.44 256.67 L389.56 256.88 L389.69 257.08 L389.81 257.27 L389.93 257.46 L390.06 257.63 L390.18 257.79 L390.31 257.92 L390.43 258.03 L390.56 258.12 L390.68 258.18 L390.81 258.2 L390.93 258.2 L391.06 258.18 L391.18 258.14 L391.31 258.08 L391.43 258.02 L391.55 257.98 L391.68 257.95 L391.8 257.94 L391.93 257.97 L392.05 258.03 L392.18 258.13 L392.3 258.25 L392.43 258.4 L392.55 258.56 L392.68 258.73 L392.8 258.89 L392.92 259.04 L393.05 259.18 L393.17 259.3 L393.3 259.4 L393.42 259.48 L393.42 259.7 Z" fill="#a0a4b4" stroke="#5d6277" stroke-width="0.7"/>
<path d="M381.21 306.5 L381.21 305.54 L381.34 305.32 L381.46 304.92 L381.59 303.93 L381.71 301.51 L381.84 296.73 L381.96 289.71 L382.08 282.82 L382.21 279.74 L382.33 282.28 L382.46 288.64 L382.58 295.15 L382.71 299.45 L382.83 301.41 L382.96 302 L383.08 302.04 L383.21 301.95 L383.33 301.85 L383.46 301.79 L383.58 301.76 L383.7 301.77 L383.83 301.81 L383.95 301.89 L384.08 302 L384.2 302.13 L384.33 302.28 L384.45 302.45 L384.58 302.63 L384.7 302.81 L384.83 302.99 L384.95 303.16 L385.07 303.33 L385.2 303.48 L385.32 303.62 L385.45 303.75 L385.57 303.85 L385.7 303.94 L385.82 304.01 L385.95 304.07 L386.07 304.11 L386.2 304.14 L386.32 304.16 L386.45 304.17 L386.57 304.17 L386.69 304.16 L386.82 304.14 L386.94 304.13 L387.07 304.11 L387.19 304.09 L387.32 304.07 L387.44 304.05 L387.57 304.04 L387.69 304.02 L387.82 304.01 L387.94 304 L388.07 304 L388.19 304 L388.31 304 L388.44 304.01 L388.56 304.02 L388.69 304.03 L388.81 304.05 L388.94 304.08 L389.06 304.1 L389.19 304.13 L389.31 304.17 L389.44 304.21 L389.56 304.25 L389.69 304.29 L389.81 304.34 L389.93 304.39 L390.06 304.44 L390.18 304.5 L390.31 304.55 L390.43 304.61 L390.56 304.67 L390.68 304.73 L390.81 304.8 L390.93 304.86 L391.06 304.92 L391.18 304.98 L391.31 305.05 L391.43 305.11 L391.55 305.17 L391.68 305.23 L391.8 305.3 L391.93 305.36 L392.05 305.41 L392.18 305.47 L392.3 305.53 L392.43 305.58 L392.55 305.63 L392.68 305.68 L392.8 305.73 L392.92 305.77 L393.05 305.79 L393.17 305.81 L393.3 305.8 L393.42 305.76 L393.55 305.69 L393.67 305.56 L393.8 305.38 L393.92 305.13 L394.05 304.82 L394.17 304.46 L394.3 304.07 L394.42 303.67 L394.54 303.32 L394.67 303.03 L394.79 302.85 L394.92 302.8 L395.04 302.89 L395.17 303.1 L395.29 303.43 L395.42 303.82 L395.54 304.26 L395.67 304.69 L395.79 305.09 L395.92 305.44 L395.92 306.5 Z" fill="#abd998" stroke="#4aa845" stroke-width="0.7"/>
<path d="M381.21 353.2 L381.21 352.41 L381.34 351.6 L381.46 349.78 L381.59 346.2 L381.71 340.2 L381.84 331.88 L381.96 322.66 L382.08 315.18 L382.21 312.1 L382.33 314.56 L382.46 321.44 L382.58 330.08 L382.71 337.87 L382.83 343.37 L382.96 346.52 L383.08 347.97 L383.21 348.48 L383.33 348.6 L383.46 348.61 L383.58 348.62 L383.7 348.67 L383.83 348.78 L383.95 348.94 L384.08 349.13 L384.2 349.36 L384.33 349.6 L384.45 349.86 L384.58 350.11 L384.7 350.36 L384.83 350.58 L384.95 350.79 L385.07 350.97 L385.2 351.12 L385.32 351.25 L385.45 351.34 L385.57 351.42 L385.7 351.47 L385.82 351.5 L385.95 351.51 L386.07 351.52 L386.2 351.51 L386.32 351.49 L386.45 351.47 L386.57 351.44 L386.69 351.41 L386.82 351.39 L386.94 351.36 L387.07 351.33 L387.19 351.3 L387.32 351.28 L387.44 351.26 L387.57 351.24 L387.69 351.23 L387.82 351.22 L387.94 351.21 L388.07 351.2 L388.19 351.2 L388.31 351.2 L388.44 351.21 L388.56 351.22 L388.69 351.23 L388.81 351.24 L388.94 351.26 L389.06 351.28 L389.19 351.31 L389.31 351.34 L389.44 351.37 L389.56 351.4 L389.69 351.44 L389.81 351.47 L389.93 351.51 L390.06 351.55 L390.18 351.6 L390.31 351.64 L390.43 351.69 L390.56 351.74 L390.68 351.79 L390.81 351.84 L390.93 351.89 L391.06 351.94 L391.18 351.99 L391.31 352.04 L391.43 352.09 L391.55 352.14 L391.68 352.19 L391.8 352.24 L391.93 352.28 L392.05 352.33 L392.18 352.38 L392.3 352.42 L392.43 352.47 L392.55 352.51 L392.68 352.55 L392.8 352.58 L392.92 352.62 L393.05 352.64 L393.17 352.66 L393.3 352.67 L393.42 352.66 L393.55 352.62 L393.67 352.56 L393.8 352.46 L393.92 352.33 L394.05 352.16 L394.17 351.96 L394.3 351.74 L394.42 351.52 L394.54 351.32 L394.67 351.16 L394.79 351.06 L394.92 351.04 L395.04 351.09 L395.17 351.22 L395.29 351.41 L395.42 351.64 L395.54 351.89 L395.67 352.14 L395.79 352.37 L395.92 352.57 L395.92 353.2 Z" fill="#a0d2f2" stroke="#3b9edb" stroke-width="0.7"/>
<line x1="369.3" y1="259.7" x2="436" y2="259.7" stroke="#8a8a8a" stroke-width="0.9"/>
<line x1="369.3" y1="306.5" x2="436" y2="306.5" stroke="#80c574" stroke-width="0.9"/>
<rect x="369.3" y="212.8" width="66.7" height="140.4" fill="none" stroke="#262626" stroke-width="1.15"/>
<line x1="369.5" y1="353.2" x2="369.5" y2="355.6" stroke="#333" stroke-width="0.6"/>
<line x1="371.99" y1="353.2" x2="371.99" y2="354.8" stroke="#333" stroke-width="0.6"/>
<line x1="374.48" y1="353.2" x2="374.48" y2="354.8" stroke="#333" stroke-width="0.6"/>
<line x1="376.98" y1="353.2" x2="376.98" y2="354.8" stroke="#333" stroke-width="0.6"/>
<line x1="379.47" y1="353.2" x2="379.47" y2="354.8" stroke="#333" stroke-width="0.6"/>
<line x1="381.96" y1="353.2" x2="381.96" y2="355.6" stroke="#333" stroke-width="0.6"/>
<line x1="384.45" y1="353.2" x2="384.45" y2="354.8" stroke="#333" stroke-width="0.6"/>
<line x1="386.94" y1="353.2" x2="386.94" y2="354.8" stroke="#333" stroke-width="0.6"/>
<line x1="389.44" y1="353.2" x2="389.44" y2="354.8" stroke="#333" stroke-width="0.6"/>
<line x1="391.93" y1="353.2" x2="391.93" y2="354.8" stroke="#333" stroke-width="0.6"/>
<line x1="394.42" y1="353.2" x2="394.42" y2="355.6" stroke="#333" stroke-width="0.6"/>
<line x1="396.91" y1="353.2" x2="396.91" y2="354.8" stroke="#333" stroke-width="0.6"/>
<line x1="399.4" y1="353.2" x2="399.4" y2="354.8" stroke="#333" stroke-width="0.6"/>
<line x1="401.9" y1="353.2" x2="401.9" y2="354.8" stroke="#333" stroke-width="0.6"/>
<line x1="404.39" y1="353.2" x2="404.39" y2="354.8" stroke="#333" stroke-width="0.6"/>
<line x1="406.88" y1="353.2" x2="406.88" y2="355.6" stroke="#333" stroke-width="0.6"/>
<line x1="409.37" y1="353.2" x2="409.37" y2="354.8" stroke="#333" stroke-width="0.6"/>
<line x1="411.86" y1="353.2" x2="411.86" y2="354.8" stroke="#333" stroke-width="0.6"/>
<line x1="414.36" y1="353.2" x2="414.36" y2="354.8" stroke="#333" stroke-width="0.6"/>
<line x1="416.85" y1="353.2" x2="416.85" y2="354.8" stroke="#333" stroke-width="0.6"/>
<line x1="419.34" y1="353.2" x2="419.34" y2="355.6" stroke="#333" stroke-width="0.6"/>
<line x1="421.83" y1="353.2" x2="421.83" y2="354.8" stroke="#333" stroke-width="0.6"/>
<line x1="424.32" y1="353.2" x2="424.32" y2="354.8" stroke="#333" stroke-width="0.6"/>
<line x1="426.82" y1="353.2" x2="426.82" y2="354.8" stroke="#333" stroke-width="0.6"/>
<line x1="429.31" y1="353.2" x2="429.31" y2="354.8" stroke="#333" stroke-width="0.6"/>
<line x1="431.8" y1="353.2" x2="431.8" y2="355.6" stroke="#333" stroke-width="0.6"/>
<line x1="434.29" y1="353.2" x2="434.29" y2="354.8" stroke="#333" stroke-width="0.6"/>
<text x="369.5" y="364.8" font-size="6.2" text-anchor="middle" font-weight="normal" fill="#222">0</text>
<text x="381.96" y="364.8" font-size="6.2" text-anchor="middle" font-weight="normal" fill="#222">50</text>
<text x="394.42" y="364.8" font-size="6.2" text-anchor="middle" font-weight="normal" fill="#222">100</text>
<text x="406.88" y="364.8" font-size="6.2" text-anchor="middle" font-weight="normal" fill="#222">150</text>
<text x="419.34" y="364.8" font-size="6.2" text-anchor="middle" font-weight="normal" fill="#222">200</text>
<text x="431.8" y="364.8" font-size="6.2" text-anchor="middle" font-weight="normal" fill="#222">250</text>
<text x="477.95" y="208" font-size="8.2" text-anchor="middle" font-weight="normal" fill="#222">T = 12h</text>
<path d="M455.92 259.7 L455.92 259.22 L456.04 259.08 L456.17 258.89 L456.29 258.65 L456.42 258.35 L456.54 257.98 L456.66 257.52 L456.79 256.88 L456.91 255.74 L457.04 253.28 L457.16 248.28 L457.29 240.62 L457.41 233.06 L457.54 230.02 L457.66 233.04 L457.79 238.93 L457.91 243.51 L458.04 245.3 L458.16 245.15 L458.28 244.23 L458.41 243.14 L458.53 242.09 L458.66 241.11 L458.78 240.22 L458.91 239.41 L459.03 238.67 L459.16 237.99 L459.28 237.35 L459.41 236.75 L459.53 236.16 L459.66 235.59 L459.78 235.02 L459.9 234.47 L460.03 233.93 L460.15 233.41 L460.28 232.94 L460.4 232.53 L460.53 232.19 L460.65 231.95 L460.78 231.81 L460.9 231.78 L461.03 231.87 L461.15 232.08 L461.27 232.39 L461.4 232.79 L461.52 233.28 L461.65 233.83 L461.77 234.43 L461.9 235.06 L462.02 235.71 L462.15 236.36 L462.27 237 L462.4 237.62 L462.52 238.23 L462.65 238.81 L462.77 239.37 L462.89 239.91 L463.02 240.44 L463.14 240.95 L463.27 241.46 L463.39 241.97 L463.52 242.48 L463.64 242.99 L463.77 243.52 L463.89 244.06 L464.02 244.61 L464.14 245.18 L464.27 245.75 L464.39 246.34 L464.51 246.94 L464.64 247.55 L464.76 248.16 L464.89 248.77 L465.01 249.37 L465.14 249.97 L465.26 250.56 L465.39 251.14 L465.51 251.69 L465.64 252.21 L465.76 252.71 L465.89 253.16 L466.01 253.57 L466.13 253.93 L466.26 254.22 L466.38 254.46 L466.51 254.64 L466.63 254.76 L466.76 254.83 L466.88 254.86 L467.01 254.86 L467.13 254.86 L467.26 254.88 L467.38 254.92 L467.5 255.02 L467.63 255.18 L467.75 255.4 L467.88 255.68 L468 256.01 L468.13 256.39 L468.25 256.79 L468.38 257.19 L468.5 257.59 L468.63 257.95 L468.75 258.28 L468.88 258.57 L469 258.82 L469.12 259.02 L469.25 259.18 L469.37 259.3 L469.5 259.4 L469.62 259.47 L469.75 259.53 L469.87 259.57 L469.87 259.7 Z" fill="#a0a4b4" stroke="#5d6277" stroke-width="0.7"/>
<path d="M455.92 306.5 L455.92 306.4 L456.04 306.37 L456.17 306.33 L456.29 306.28 L456.42 306.21 L456.54 306.12 L456.66 306 L456.79 305.85 L456.91 305.66 L457.04 305.41 L457.16 305.11 L457.29 304.73 L457.41 304.27 L457.54 303.67 L457.66 302.74 L457.79 300.88 L457.91 296.93 L458.04 290.07 L458.16 281.81 L458.28 276.41 L458.41 277.11 L458.53 282.41 L458.66 287.87 L458.78 290.72 L458.91 291.14 L459.03 290.34 L459.16 289.19 L459.28 288.01 L459.41 286.88 L459.53 285.82 L459.66 284.81 L459.78 283.86 L459.9 282.96 L460.03 282.08 L460.15 281.23 L460.28 280.38 L460.4 279.55 L460.53 278.72 L460.65 277.92 L460.78 277.14 L460.9 276.41 L461.03 275.76 L461.15 275.19 L461.27 274.73 L461.4 274.4 L461.52 274.22 L461.65 274.18 L461.77 274.29 L461.9 274.56 L462.02 274.95 L462.15 275.47 L462.27 276.09 L462.4 276.8 L462.52 277.55 L462.65 278.35 L462.77 279.16 L462.89 279.97 L463.02 280.77 L463.14 281.54 L463.27 282.29 L463.39 283 L463.52 283.67 L463.64 284.32 L463.77 284.94 L463.89 285.55 L464.02 286.14 L464.14 286.72 L464.27 287.31 L464.39 287.9 L464.51 288.49 L464.64 289.1 L464.76 289.72 L464.89 290.35 L465.01 291 L465.14 291.65 L465.26 292.32 L465.39 293 L465.51 293.68 L465.64 294.36 L465.76 295.03 L465.89 295.71 L466.01 296.37 L466.13 297.02 L466.26 297.66 L466.38 298.28 L466.51 298.88 L466.63 299.45 L466.76 300 L466.88 300.53 L467.01 301.03 L467.13 301.5 L467.26 301.94 L467.38 302.35 L467.5 302.72 L467.63 303.05 L467.75 303.35 L467.88 303.6 L468 303.79 L468.13 303.94 L468.25 304.03 L468.38 304.06 L468.5 304.03 L468.63 303.95 L468.75 303.83 L468.88 303.67 L469 303.5 L469.12 303.33 L469.25 303.19 L469.37 303.09 L469.5 303.05 L469.62 303.08 L469.75 303.18 L469.87 303.35 L470 303.59 L470.12 303.88 L470.25 304.19 L470.37 304.52 L470.5 304.85 L470.62 305.16 L470.74 305.43 L470.87 305.67 L470.99 305.88 L471.12 306.04 L471.24 306.17 L471.37 306.27 L471.49 306.34 L471.62 306.39 L471.62 306.5 Z" fill="#abd998" stroke="#4aa845" stroke-width="0.7"/>
<path d="M455.92 353.2 L455.92 352.73 L456.04 352.57 L456.17 352.36 L456.29 352.11 L456.42 351.79 L456.54 351.41 L456.66 350.94 L456.79 350.38 L456.91 349.71 L457.04 348.9 L457.16 347.92 L457.29 346.68 L457.41 345.07 L457.54 342.93 L457.66 340.07 L457.79 336.37 L457.91 331.81 L458.04 326.59 L458.16 321.18 L458.28 316.25 L458.41 312.56 L458.53 310.67 L458.66 310.84 L458.78 312.88 L458.91 316.24 L459.03 320.24 L459.16 324.22 L459.28 327.76 L459.41 330.66 L459.53 332.94 L459.66 334.74 L459.78 336.21 L459.9 337.51 L460.03 338.71 L460.15 339.87 L460.28 340.99 L460.4 342.08 L460.53 343.11 L460.65 344.08 L460.78 344.97 L460.9 345.77 L461.03 346.48 L461.15 347.11 L461.27 347.65 L461.4 348.11 L461.52 348.5 L461.65 348.84 L461.77 349.12 L461.9 349.37 L462.02 349.58 L462.15 349.77 L462.27 349.94 L462.4 350.11 L462.52 350.26 L462.65 350.42 L462.77 350.58 L462.89 350.73 L463.02 350.89 L463.14 351.05 L463.27 351.21 L463.39 351.37 L463.52 351.52 L463.64 351.68 L463.77 351.82 L463.89 351.96 L464.02 352.1 L464.14 352.23 L464.27 352.34 L464.39 352.45 L464.51 352.55 L464.64 352.64 L464.76 352.72 L464.89 352.79 L465.01 352.86 L465.14 352.91 L465.26 352.96 L465.39 353 L465.51 353.04 L465.64 353.07 L465.64 353.2 Z" fill="#a0d2f2" stroke="#3b9edb" stroke-width="0.7"/>
<line x1="445.5" y1="259.7" x2="510.4" y2="259.7" stroke="#8a8a8a" stroke-width="0.9"/>
<line x1="445.5" y1="306.5" x2="510.4" y2="306.5" stroke="#80c574" stroke-width="0.9"/>
<rect x="445.5" y="212.8" width="64.9" height="140.4" fill="none" stroke="#262626" stroke-width="1.15"/>
<line x1="445.7" y1="353.2" x2="445.7" y2="355.6" stroke="#333" stroke-width="0.6"/>
<line x1="448.19" y1="353.2" x2="448.19" y2="354.8" stroke="#333" stroke-width="0.6"/>
<line x1="450.68" y1="353.2" x2="450.68" y2="354.8" stroke="#333" stroke-width="0.6"/>
<line x1="453.18" y1="353.2" x2="453.18" y2="354.8" stroke="#333" stroke-width="0.6"/>
<line x1="455.67" y1="353.2" x2="455.67" y2="354.8" stroke="#333" stroke-width="0.6"/>
<line x1="458.16" y1="353.2" x2="458.16" y2="355.6" stroke="#333" stroke-width="0.6"/>
<line x1="460.65" y1="353.2" x2="460.65" y2="354.8" stroke="#333" stroke-width="0.6"/>
<line x1="463.14" y1="353.2" x2="463.14" y2="354.8" stroke="#333" stroke-width="0.6"/>
<line x1="465.64" y1="353.2" x2="465.64" y2="354.8" stroke="#333" stroke-width="0.6"/>
<line x1="468.13" y1="353.2" x2="468.13" y2="354.8" stroke="#333" stroke-width="0.6"/>
<line x1="470.62" y1="353.2" x2="470.62" y2="355.6" stroke="#333" stroke-width="0.6"/>
<line x1="473.11" y1="353.2" x2="473.11" y2="354.8" stroke="#333" stroke-width="0.6"/>
<line x1="475.6" y1="353.2" x2="475.6" y2="354.8" stroke="#333" stroke-width="0.6"/>
<line x1="478.1" y1="353.2" x2="478.1" y2="354.8" stroke="#333" stroke-width="0.6"/>
<line x1="480.59" y1="353.2" x2="480.59" y2="354.8" stroke="#333" stroke-width="0.6"/>
<line x1="483.08" y1="353.2" x2="483.08" y2="355.6" stroke="#333" stroke-width="0.6"/>
<line x1="485.57" y1="353.2" x2="485.57" y2="354.8" stroke="#333" stroke-width="0.6"/>
<line x1="488.06" y1="353.2" x2="488.06" y2="354.8" stroke="#333" stroke-width="0.6"/>
<line x1="490.56" y1="353.2" x2="490.56" y2="354.8" stroke="#333" stroke-width="0.6"/>
<line x1="493.05" y1="353.2" x2="493.05" y2="354.8" stroke="#333" stroke-width="0.6"/>
<line x1="495.54" y1="353.2" x2="495.54" y2="355.6" stroke="#333" stroke-width="0.6"/>
<line x1="498.03" y1="353.2" x2="498.03" y2="354.8" stroke="#333" stroke-width="0.6"/>
<line x1="500.52" y1="353.2" x2="500.52" y2="354.8" stroke="#333" stroke-width="0.6"/>
<line x1="503.02" y1="353.2" x2="503.02" y2="354.8" stroke="#333" stroke-width="0.6"/>
<line x1="505.51" y1="353.2" x2="505.51" y2="354.8" stroke="#333" stroke-width="0.6"/>
<line x1="508" y1="353.2" x2="508" y2="355.6" stroke="#333" stroke-width="0.6"/>
<text x="445.7" y="364.8" font-size="6.2" text-anchor="middle" font-weight="normal" fill="#222">0</text>
<text x="458.16" y="364.8" font-size="6.2" text-anchor="middle" font-weight="normal" fill="#222">50</text>
<text x="470.62" y="364.8" font-size="6.2" text-anchor="middle" font-weight="normal" fill="#222">100</text>
<text x="483.08" y="364.8" font-size="6.2" text-anchor="middle" font-weight="normal" fill="#222">150</text>
<text x="495.54" y="364.8" font-size="6.2" text-anchor="middle" font-weight="normal" fill="#222">200</text>
<text x="508" y="364.8" font-size="6.2" text-anchor="middle" font-weight="normal" fill="#222">250</text>
<text x="0" y="0" font-size="6.1" text-anchor="middle" font-weight="normal" fill="#2a2a2a" transform="translate(289.9 234.9) rotate(-90)">sgCtrl</text>
<text x="0" y="0" font-size="6.1" text-anchor="middle" font-weight="normal" fill="#2a2a2a" transform="translate(289.9 283.2) rotate(-90)">sgHerc1#1</text>
<text x="0" y="0" font-size="6.1" text-anchor="middle" font-weight="normal" fill="#2a2a2a" transform="translate(289.9 330) rotate(-90)">sgHerc1#2</text>
<line x1="293.8" y1="369.6" x2="320.5" y2="369.6" stroke="#111" stroke-width="0.9"/>
<path d="M324.6 369.6 L319.8 367.6 L319.8 371.6 Z" fill="#111" stroke="none" stroke-width="1"/>
<text x="0" y="0" font-size="7.2" text-anchor="middle" font-weight="bold" fill="#222" transform="translate(309.5 379) scale(0.72 1)">DAPI</text>
<text x="128.6" y="414.2" font-size="10.5" text-anchor="start" font-weight="bold" fill="#111">G</text>
<text x="268.3" y="410.3" font-size="8" text-anchor="middle" font-weight="normal" fill="#222">MA cells - Ara-C</text>
<line x1="234.8" y1="419" x2="234.8" y2="553" stroke="#b8b8b8" stroke-width="0.8" stroke-dasharray="1 1.6"/>
<line x1="302" y1="419" x2="302" y2="553" stroke="#b8b8b8" stroke-width="0.8" stroke-dasharray="1 1.6"/>
<line x1="168.5" y1="416.5" x2="168.5" y2="554.4" stroke="#1a1a1a" stroke-width="1.1"/>
<line x1="166.2" y1="553.8" x2="168.5" y2="553.8" stroke="#1a1a1a" stroke-width="0.8"/>
<text x="164.5" y="555.9" font-size="6" text-anchor="end" font-weight="normal" fill="#2a2a2a">0</text>
<line x1="166.2" y1="526.78" x2="168.5" y2="526.78" stroke="#1a1a1a" stroke-width="0.8"/>
<text x="164.5" y="528.88" font-size="6" text-anchor="end" font-weight="normal" fill="#2a2a2a">20</text>
<line x1="166.2" y1="499.76" x2="168.5" y2="499.76" stroke="#1a1a1a" stroke-width="0.8"/>
<text x="164.5" y="501.86" font-size="6" text-anchor="end" font-weight="normal" fill="#2a2a2a">40</text>
<line x1="166.2" y1="472.74" x2="168.5" y2="472.74" stroke="#1a1a1a" stroke-width="0.8"/>
<text x="164.5" y="474.84" font-size="6" text-anchor="end" font-weight="normal" fill="#2a2a2a">60</text>
<line x1="166.2" y1="445.72" x2="168.5" y2="445.72" stroke="#1a1a1a" stroke-width="0.8"/>
<text x="164.5" y="447.82" font-size="6" text-anchor="end" font-weight="normal" fill="#2a2a2a">80</text>
<line x1="166.2" y1="418.7" x2="168.5" y2="418.7" stroke="#1a1a1a" stroke-width="0.8"/>
<text x="164.5" y="420.8" font-size="6" text-anchor="end" font-weight="normal" fill="#2a2a2a">100</text>
<text x="0" y="0" font-size="7" text-anchor="middle" font-weight="bold" fill="#222" transform="translate(145.2 485.5) rotate(-90) scale(0.76 1)">Cell cycle distribution (%)</text>
<rect x="171.1" y="483.55" width="3.9" height="70.25" fill="#89a89a" stroke="none" stroke-width="1"/>
<line x1="173.05" y1="481.52" x2="173.05" y2="484.55" stroke="#333" stroke-width="0.8"/>
<line x1="171.75" y1="481.52" x2="174.35" y2="481.52" stroke="#333" stroke-width="0.9"/>
<circle cx="173.05" cy="472.2" r="1.8" fill="#2f8a68" stroke="#1c6449" stroke-width="1" fill-opacity="0.25"/>
<circle cx="173.05" cy="476.25" r="1.8" fill="#2f8a68" stroke="#1c6449" stroke-width="1" fill-opacity="0.25"/>
<circle cx="173.05" cy="481.79" r="1.8" fill="#2f8a68" stroke="#1c6449" stroke-width="1" fill-opacity="0.25"/>
<circle cx="173.05" cy="484.36" r="1.8" fill="#2f8a68" stroke="#1c6449" stroke-width="1" fill-opacity="0.25"/>
<circle cx="173.05" cy="486.93" r="1.8" fill="#2f8a68" stroke="#1c6449" stroke-width="1" fill-opacity="0.25"/>
<circle cx="173.05" cy="489.36" r="1.8" fill="#2f8a68" stroke="#1c6449" stroke-width="1" fill-opacity="0.25"/>
<circle cx="173.05" cy="491.52" r="1.8" fill="#2f8a68" stroke="#1c6449" stroke-width="1" fill-opacity="0.25"/>
<rect x="176.7" y="509.22" width="3.9" height="44.58" fill="#f7c890" stroke="none" stroke-width="1"/>
<line x1="178.65" y1="506.51" x2="178.65" y2="510.22" stroke="#333" stroke-width="0.8"/>
<line x1="177.35" y1="506.51" x2="179.95" y2="506.51" stroke="#333" stroke-width="0.9"/>
<circle cx="178.65" cy="499.62" r="1.8" fill="#f5b45a" stroke="#ef9f34" stroke-width="1" fill-opacity="0.2"/>
<circle cx="178.65" cy="501.65" r="1.8" fill="#f5b45a" stroke="#ef9f34" stroke-width="1" fill-opacity="0.2"/>
<circle cx="178.65" cy="506.65" r="1.8" fill="#f5b45a" stroke="#ef9f34" stroke-width="1" fill-opacity="0.2"/>
<circle cx="178.65" cy="510.84" r="1.8" fill="#f5b45a" stroke="#ef9f34" stroke-width="1" fill-opacity="0.2"/>
<circle cx="178.65" cy="515.3" r="1.8" fill="#f5b45a" stroke="#ef9f34" stroke-width="1" fill-opacity="0.2"/>
<rect x="183.2" y="537.59" width="3.9" height="16.21" fill="#8f9ac8" stroke="none" stroke-width="1"/>
<line x1="185.15" y1="536.24" x2="185.15" y2="538.59" stroke="#333" stroke-width="0.8"/>
<line x1="183.85" y1="536.24" x2="186.45" y2="536.24" stroke="#333" stroke-width="0.9"/>
<circle cx="185.15" cy="533.53" r="1.8" fill="#a6cce8" stroke="#22508a" stroke-width="1" fill-opacity="0.7"/>
<circle cx="185.15" cy="536.24" r="1.8" fill="#a6cce8" stroke="#22508a" stroke-width="1" fill-opacity="0.7"/>
<circle cx="185.15" cy="538.94" r="1.8" fill="#a6cce8" stroke="#22508a" stroke-width="1" fill-opacity="0.7"/>
<circle cx="185.15" cy="541.64" r="1.8" fill="#a6cce8" stroke="#22508a" stroke-width="1" fill-opacity="0.7"/>
<circle cx="185.15" cy="544.34" r="1.8" fill="#a6cce8" stroke="#22508a" stroke-width="1" fill-opacity="0.7"/>
<line x1="178.7" y1="554.2" x2="178.7" y2="556.4" stroke="#1a1a1a" stroke-width="0.8"/>
<rect x="193.45" y="485.57" width="3.9" height="68.23" fill="#89a89a" stroke="none" stroke-width="1"/>
<line x1="195.4" y1="478.82" x2="195.4" y2="486.57" stroke="#333" stroke-width="0.8"/>
<line x1="194.1" y1="478.82" x2="196.7" y2="478.82" stroke="#333" stroke-width="0.9"/>
<circle cx="195.4" cy="470.17" r="1.8" fill="#2f8a68" stroke="#1c6449" stroke-width="1" fill-opacity="0.25"/>
<circle cx="195.4" cy="473.69" r="1.8" fill="#2f8a68" stroke="#1c6449" stroke-width="1" fill-opacity="0.25"/>
<circle cx="195.4" cy="481.25" r="1.8" fill="#2f8a68" stroke="#1c6449" stroke-width="1" fill-opacity="0.25"/>
<circle cx="195.4" cy="484.36" r="1.8" fill="#2f8a68" stroke="#1c6449" stroke-width="1" fill-opacity="0.25"/>
<circle cx="195.4" cy="487.47" r="1.8" fill="#2f8a68" stroke="#1c6449" stroke-width="1" fill-opacity="0.25"/>
<rect x="199.05" y="509.22" width="3.9" height="44.58" fill="#f7c890" stroke="none" stroke-width="1"/>
<line x1="201" y1="506.51" x2="201" y2="510.22" stroke="#333" stroke-width="0.8"/>
<line x1="199.7" y1="506.51" x2="202.3" y2="506.51" stroke="#333" stroke-width="0.9"/>
<circle cx="201" cy="500.57" r="1.8" fill="#f5b45a" stroke="#ef9f34" stroke-width="1" fill-opacity="0.2"/>
<circle cx="201" cy="505.57" r="1.8" fill="#f5b45a" stroke="#ef9f34" stroke-width="1" fill-opacity="0.2"/>
<circle cx="201" cy="510.7" r="1.8" fill="#f5b45a" stroke="#ef9f34" stroke-width="1" fill-opacity="0.2"/>
<circle cx="201" cy="520.02" r="1.8" fill="#f5b45a" stroke="#ef9f34" stroke-width="1" fill-opacity="0.2"/>
<rect x="205.55" y="538.94" width="3.9" height="14.86" fill="#8f9ac8" stroke="none" stroke-width="1"/>
<line x1="207.5" y1="537.59" x2="207.5" y2="539.94" stroke="#333" stroke-width="0.8"/>
<line x1="206.2" y1="537.59" x2="208.8" y2="537.59" stroke="#333" stroke-width="0.9"/>
<circle cx="207.5" cy="535.16" r="1.8" fill="#a6cce8" stroke="#22508a" stroke-width="1" fill-opacity="0.7"/>
<circle cx="207.5" cy="538.67" r="1.8" fill="#a6cce8" stroke="#22508a" stroke-width="1" fill-opacity="0.7"/>
<circle cx="207.5" cy="541.1" r="1.8" fill="#a6cce8" stroke="#22508a" stroke-width="1" fill-opacity="0.7"/>
<circle cx="207.5" cy="545.29" r="1.8" fill="#a6cce8" stroke="#22508a" stroke-width="1" fill-opacity="0.7"/>
<line x1="201.05" y1="554.2" x2="201.05" y2="556.4" stroke="#1a1a1a" stroke-width="0.8"/>
<rect x="215.8" y="484.9" width="3.9" height="68.9" fill="#89a89a" stroke="none" stroke-width="1"/>
<line x1="217.75" y1="482.2" x2="217.75" y2="485.9" stroke="#333" stroke-width="0.8"/>
<line x1="216.45" y1="482.2" x2="219.05" y2="482.2" stroke="#333" stroke-width="0.9"/>
<circle cx="217.75" cy="470.44" r="1.8" fill="#2f8a68" stroke="#1c6449" stroke-width="1" fill-opacity="0.25"/>
<circle cx="217.75" cy="473.55" r="1.8" fill="#2f8a68" stroke="#1c6449" stroke-width="1" fill-opacity="0.25"/>
<circle cx="217.75" cy="476.93" r="1.8" fill="#2f8a68" stroke="#1c6449" stroke-width="1" fill-opacity="0.25"/>
<circle cx="217.75" cy="484.49" r="1.8" fill="#2f8a68" stroke="#1c6449" stroke-width="1" fill-opacity="0.25"/>
<circle cx="217.75" cy="487.06" r="1.8" fill="#2f8a68" stroke="#1c6449" stroke-width="1" fill-opacity="0.25"/>
<circle cx="217.75" cy="490.44" r="1.8" fill="#2f8a68" stroke="#1c6449" stroke-width="1" fill-opacity="0.25"/>
<rect x="221.4" y="509.22" width="3.9" height="44.58" fill="#f7c890" stroke="none" stroke-width="1"/>
<line x1="223.35" y1="506.51" x2="223.35" y2="510.22" stroke="#333" stroke-width="0.8"/>
<line x1="222.05" y1="506.51" x2="224.65" y2="506.51" stroke="#333" stroke-width="0.9"/>
<circle cx="223.35" cy="498" r="1.8" fill="#f5b45a" stroke="#ef9f34" stroke-width="1" fill-opacity="0.2"/>
<circle cx="223.35" cy="501.38" r="1.8" fill="#f5b45a" stroke="#ef9f34" stroke-width="1" fill-opacity="0.2"/>
<circle cx="223.35" cy="506.51" r="1.8" fill="#f5b45a" stroke="#ef9f34" stroke-width="1" fill-opacity="0.2"/>
<circle cx="223.35" cy="510.7" r="1.8" fill="#f5b45a" stroke="#ef9f34" stroke-width="1" fill-opacity="0.2"/>
<circle cx="223.35" cy="515.84" r="1.8" fill="#f5b45a" stroke="#ef9f34" stroke-width="1" fill-opacity="0.2"/>
<circle cx="223.35" cy="520.02" r="1.8" fill="#f5b45a" stroke="#ef9f34" stroke-width="1" fill-opacity="0.2"/>
<rect x="227.9" y="538.94" width="3.9" height="14.86" fill="#8f9ac8" stroke="none" stroke-width="1"/>
<line x1="229.85" y1="537.59" x2="229.85" y2="539.94" stroke="#333" stroke-width="0.8"/>
<line x1="228.55" y1="537.59" x2="231.15" y2="537.59" stroke="#333" stroke-width="0.9"/>
<circle cx="229.85" cy="535.97" r="1.8" fill="#a6cce8" stroke="#22508a" stroke-width="1" fill-opacity="0.7"/>
<circle cx="229.85" cy="538.67" r="1.8" fill="#a6cce8" stroke="#22508a" stroke-width="1" fill-opacity="0.7"/>
<circle cx="229.85" cy="541.51" r="1.8" fill="#a6cce8" stroke="#22508a" stroke-width="1" fill-opacity="0.7"/>
<line x1="223.4" y1="554.2" x2="223.4" y2="556.4" stroke="#1a1a1a" stroke-width="0.8"/>
<rect x="238.15" y="522.05" width="3.9" height="31.75" fill="#89a89a" stroke="none" stroke-width="1"/>
<line x1="240.1" y1="519.35" x2="240.1" y2="523.05" stroke="#333" stroke-width="0.8"/>
<line x1="238.8" y1="519.35" x2="241.4" y2="519.35" stroke="#333" stroke-width="0.9"/>
<circle cx="240.1" cy="507.06" r="1.8" fill="#2f8a68" stroke="#1c6449" stroke-width="1" fill-opacity="0.25"/>
<circle cx="240.1" cy="510.03" r="1.8" fill="#2f8a68" stroke="#1c6449" stroke-width="1" fill-opacity="0.25"/>
<circle cx="240.1" cy="514.08" r="1.8" fill="#2f8a68" stroke="#1c6449" stroke-width="1" fill-opacity="0.25"/>
<circle cx="240.1" cy="520.16" r="1.8" fill="#2f8a68" stroke="#1c6449" stroke-width="1" fill-opacity="0.25"/>
<circle cx="240.1" cy="525.29" r="1.8" fill="#2f8a68" stroke="#1c6449" stroke-width="1" fill-opacity="0.25"/>
<circle cx="240.1" cy="529.35" r="1.8" fill="#2f8a68" stroke="#1c6449" stroke-width="1" fill-opacity="0.25"/>
<rect x="243.75" y="468.01" width="3.9" height="85.79" fill="#f7c890" stroke="none" stroke-width="1"/>
<line x1="245.7" y1="465.98" x2="245.7" y2="469.01" stroke="#333" stroke-width="0.8"/>
<line x1="244.4" y1="465.98" x2="247" y2="465.98" stroke="#333" stroke-width="0.9"/>
<circle cx="245.7" cy="464.36" r="1.8" fill="#f5b45a" stroke="#ef9f34" stroke-width="1" fill-opacity="0.2"/>
<circle cx="245.7" cy="467.34" r="1.8" fill="#f5b45a" stroke="#ef9f34" stroke-width="1" fill-opacity="0.2"/>
<circle cx="245.7" cy="470.44" r="1.8" fill="#f5b45a" stroke="#ef9f34" stroke-width="1" fill-opacity="0.2"/>
<circle cx="245.7" cy="475.44" r="1.8" fill="#f5b45a" stroke="#ef9f34" stroke-width="1" fill-opacity="0.2"/>
<circle cx="245.7" cy="483.68" r="1.8" fill="#f5b45a" stroke="#ef9f34" stroke-width="1" fill-opacity="0.2"/>
<rect x="250.25" y="538.94" width="3.9" height="14.86" fill="#8f9ac8" stroke="none" stroke-width="1"/>
<line x1="252.2" y1="537.59" x2="252.2" y2="539.94" stroke="#333" stroke-width="0.8"/>
<line x1="250.9" y1="537.59" x2="253.5" y2="537.59" stroke="#333" stroke-width="0.9"/>
<circle cx="252.2" cy="533.4" r="1.8" fill="#a6cce8" stroke="#22508a" stroke-width="1" fill-opacity="0.7"/>
<circle cx="252.2" cy="537.45" r="1.8" fill="#a6cce8" stroke="#22508a" stroke-width="1" fill-opacity="0.7"/>
<circle cx="252.2" cy="540.56" r="1.8" fill="#a6cce8" stroke="#22508a" stroke-width="1" fill-opacity="0.7"/>
<circle cx="252.2" cy="545.56" r="1.8" fill="#a6cce8" stroke="#22508a" stroke-width="1" fill-opacity="0.7"/>
<line x1="245.75" y1="554.2" x2="245.75" y2="556.4" stroke="#1a1a1a" stroke-width="0.8"/>
<rect x="260.5" y="481.66" width="3.9" height="72.14" fill="#89a89a" stroke="none" stroke-width="1"/>
<line x1="262.45" y1="474.5" x2="262.45" y2="482.66" stroke="#333" stroke-width="0.8"/>
<line x1="261.15" y1="474.5" x2="263.75" y2="474.5" stroke="#333" stroke-width="0.9"/>
<circle cx="262.45" cy="466.39" r="1.8" fill="#2f8a68" stroke="#1c6449" stroke-width="1" fill-opacity="0.25"/>
<circle cx="262.45" cy="487.74" r="1.8" fill="#2f8a68" stroke="#1c6449" stroke-width="1" fill-opacity="0.25"/>
<circle cx="262.45" cy="493.82" r="1.8" fill="#2f8a68" stroke="#1c6449" stroke-width="1" fill-opacity="0.25"/>
<circle cx="262.45" cy="498.95" r="1.8" fill="#2f8a68" stroke="#1c6449" stroke-width="1" fill-opacity="0.25"/>
<rect x="266.1" y="503.95" width="3.9" height="49.85" fill="#f7c890" stroke="none" stroke-width="1"/>
<line x1="268.05" y1="499.9" x2="268.05" y2="504.95" stroke="#333" stroke-width="0.8"/>
<line x1="266.75" y1="499.9" x2="269.35" y2="499.9" stroke="#333" stroke-width="0.9"/>
<circle cx="268.05" cy="493.82" r="1.8" fill="#f5b45a" stroke="#ef9f34" stroke-width="1" fill-opacity="0.2"/>
<circle cx="268.05" cy="496.92" r="1.8" fill="#f5b45a" stroke="#ef9f34" stroke-width="1" fill-opacity="0.2"/>
<circle cx="268.05" cy="500.84" r="1.8" fill="#f5b45a" stroke="#ef9f34" stroke-width="1" fill-opacity="0.2"/>
<circle cx="268.05" cy="512.05" r="1.8" fill="#f5b45a" stroke="#ef9f34" stroke-width="1" fill-opacity="0.2"/>
<circle cx="268.05" cy="519.21" r="1.8" fill="#f5b45a" stroke="#ef9f34" stroke-width="1" fill-opacity="0.2"/>
<rect x="272.6" y="540.29" width="3.9" height="13.51" fill="#8f9ac8" stroke="none" stroke-width="1"/>
<line x1="274.55" y1="538.26" x2="274.55" y2="541.29" stroke="#333" stroke-width="0.8"/>
<line x1="273.25" y1="538.26" x2="275.85" y2="538.26" stroke="#333" stroke-width="0.9"/>
<circle cx="274.55" cy="529.35" r="1.8" fill="#a6cce8" stroke="#22508a" stroke-width="1" fill-opacity="0.7"/>
<circle cx="274.55" cy="535.43" r="1.8" fill="#a6cce8" stroke="#22508a" stroke-width="1" fill-opacity="0.7"/>
<circle cx="274.55" cy="540.56" r="1.8" fill="#a6cce8" stroke="#22508a" stroke-width="1" fill-opacity="0.7"/>
<circle cx="274.55" cy="545.56" r="1.8" fill="#a6cce8" stroke="#22508a" stroke-width="1" fill-opacity="0.7"/>
<circle cx="262.45" cy="460.85" r="0.75" fill="#222" stroke="none" stroke-width="1"/>
<circle cx="268.05" cy="488.95" r="0.7" fill="#222" stroke="none" stroke-width="1"/>
<circle cx="268.05" cy="486.55" r="0.7" fill="#222" stroke="none" stroke-width="1"/>
<line x1="268.1" y1="554.2" x2="268.1" y2="556.4" stroke="#1a1a1a" stroke-width="0.8"/>
<rect x="282.85" y="464.36" width="3.9" height="89.44" fill="#89a89a" stroke="none" stroke-width="1"/>
<line x1="284.8" y1="461.66" x2="284.8" y2="465.36" stroke="#333" stroke-width="0.8"/>
<line x1="283.5" y1="461.66" x2="286.1" y2="461.66" stroke="#333" stroke-width="0.9"/>
<circle cx="284.8" cy="461.26" r="1.8" fill="#2f8a68" stroke="#1c6449" stroke-width="1" fill-opacity="0.25"/>
<circle cx="284.8" cy="463.96" r="1.8" fill="#2f8a68" stroke="#1c6449" stroke-width="1" fill-opacity="0.25"/>
<circle cx="284.8" cy="471.52" r="1.8" fill="#2f8a68" stroke="#1c6449" stroke-width="1" fill-opacity="0.25"/>
<circle cx="284.8" cy="485.71" r="1.8" fill="#2f8a68" stroke="#1c6449" stroke-width="1" fill-opacity="0.25"/>
<circle cx="284.8" cy="486.66" r="1.8" fill="#2f8a68" stroke="#1c6449" stroke-width="1" fill-opacity="0.25"/>
<rect x="288.45" y="515.03" width="3.9" height="38.77" fill="#f7c890" stroke="none" stroke-width="1"/>
<line x1="290.4" y1="511.51" x2="290.4" y2="516.03" stroke="#333" stroke-width="0.8"/>
<line x1="289.1" y1="511.51" x2="291.7" y2="511.51" stroke="#333" stroke-width="0.9"/>
<circle cx="290.4" cy="501.92" r="1.8" fill="#f5b45a" stroke="#ef9f34" stroke-width="1" fill-opacity="0.2"/>
<circle cx="290.4" cy="516.11" r="1.8" fill="#f5b45a" stroke="#ef9f34" stroke-width="1" fill-opacity="0.2"/>
<circle cx="290.4" cy="519.21" r="1.8" fill="#f5b45a" stroke="#ef9f34" stroke-width="1" fill-opacity="0.2"/>
<circle cx="290.4" cy="522.19" r="1.8" fill="#f5b45a" stroke="#ef9f34" stroke-width="1" fill-opacity="0.2"/>
<rect x="294.95" y="538.94" width="3.9" height="14.86" fill="#8f9ac8" stroke="none" stroke-width="1"/>
<line x1="296.9" y1="537.59" x2="296.9" y2="539.94" stroke="#333" stroke-width="0.8"/>
<line x1="295.6" y1="537.59" x2="298.2" y2="537.59" stroke="#333" stroke-width="0.9"/>
<circle cx="296.9" cy="535.43" r="1.8" fill="#a6cce8" stroke="#22508a" stroke-width="1" fill-opacity="0.7"/>
<circle cx="296.9" cy="538.53" r="1.8" fill="#a6cce8" stroke="#22508a" stroke-width="1" fill-opacity="0.7"/>
<circle cx="296.9" cy="541.51" r="1.8" fill="#a6cce8" stroke="#22508a" stroke-width="1" fill-opacity="0.7"/>
<circle cx="284.8" cy="455.85" r="0.7" fill="#222" stroke="none" stroke-width="1"/>
<circle cx="284.8" cy="453.65" r="0.7" fill="#222" stroke="none" stroke-width="1"/>
<circle cx="284.8" cy="451.45" r="0.7" fill="#222" stroke="none" stroke-width="1"/>
<circle cx="284.8" cy="449.25" r="0.7" fill="#222" stroke="none" stroke-width="1"/>
<circle cx="290.4" cy="495.57" r="0.7" fill="#222" stroke="none" stroke-width="1"/>
<circle cx="290.4" cy="493.37" r="0.7" fill="#222" stroke="none" stroke-width="1"/>
<circle cx="290.4" cy="491.17" r="0.7" fill="#222" stroke="none" stroke-width="1"/>
<circle cx="290.4" cy="488.97" r="0.7" fill="#222" stroke="none" stroke-width="1"/>
<line x1="290.45" y1="554.2" x2="290.45" y2="556.4" stroke="#1a1a1a" stroke-width="0.8"/>
<rect x="305.2" y="528.94" width="3.9" height="24.86" fill="#89a89a" stroke="none" stroke-width="1"/>
<line x1="307.15" y1="524.89" x2="307.15" y2="529.94" stroke="#333" stroke-width="0.8"/>
<line x1="305.85" y1="524.89" x2="308.45" y2="524.89" stroke="#333" stroke-width="0.9"/>
<circle cx="307.15" cy="521.78" r="1.8" fill="#2f8a68" stroke="#1c6449" stroke-width="1" fill-opacity="0.25"/>
<circle cx="307.15" cy="528.94" r="1.8" fill="#2f8a68" stroke="#1c6449" stroke-width="1" fill-opacity="0.25"/>
<circle cx="307.15" cy="533.67" r="1.8" fill="#2f8a68" stroke="#1c6449" stroke-width="1" fill-opacity="0.25"/>
<rect x="310.8" y="454.37" width="3.9" height="99.43" fill="#f7c890" stroke="none" stroke-width="1"/>
<line x1="312.75" y1="450.31" x2="312.75" y2="455.37" stroke="#333" stroke-width="0.8"/>
<line x1="311.45" y1="450.31" x2="314.05" y2="450.31" stroke="#333" stroke-width="0.9"/>
<circle cx="312.75" cy="445.99" r="1.8" fill="#f5b45a" stroke="#ef9f34" stroke-width="1" fill-opacity="0.2"/>
<circle cx="312.75" cy="455.45" r="1.8" fill="#f5b45a" stroke="#ef9f34" stroke-width="1" fill-opacity="0.2"/>
<circle cx="312.75" cy="457.88" r="1.8" fill="#f5b45a" stroke="#ef9f34" stroke-width="1" fill-opacity="0.2"/>
<rect x="317.3" y="547.04" width="3.9" height="6.75" fill="#8f9ac8" stroke="none" stroke-width="1"/>
<line x1="319.25" y1="545.96" x2="319.25" y2="548.04" stroke="#333" stroke-width="0.8"/>
<line x1="317.95" y1="545.96" x2="320.55" y2="545.96" stroke="#333" stroke-width="0.9"/>
<circle cx="319.25" cy="546.64" r="1.8" fill="#a6cce8" stroke="#22508a" stroke-width="1" fill-opacity="0.7"/>
<circle cx="319.25" cy="549.07" r="1.8" fill="#a6cce8" stroke="#22508a" stroke-width="1" fill-opacity="0.7"/>
<line x1="312.8" y1="554.2" x2="312.8" y2="556.4" stroke="#1a1a1a" stroke-width="0.8"/>
<rect x="327.55" y="533.53" width="3.9" height="20.26" fill="#89a89a" stroke="none" stroke-width="1"/>
<line x1="329.5" y1="531.91" x2="329.5" y2="534.53" stroke="#333" stroke-width="0.8"/>
<line x1="328.2" y1="531.91" x2="330.8" y2="531.91" stroke="#333" stroke-width="0.9"/>
<circle cx="329.5" cy="531.24" r="1.8" fill="#2f8a68" stroke="#1c6449" stroke-width="1" fill-opacity="0.25"/>
<circle cx="329.5" cy="534.89" r="1.8" fill="#2f8a68" stroke="#1c6449" stroke-width="1" fill-opacity="0.25"/>
<rect x="333.15" y="441.26" width="3.9" height="112.54" fill="#f7c890" stroke="none" stroke-width="1"/>
<line x1="335.1" y1="439.24" x2="335.1" y2="442.26" stroke="#333" stroke-width="0.8"/>
<line x1="333.8" y1="439.24" x2="336.4" y2="439.24" stroke="#333" stroke-width="0.9"/>
<circle cx="335.1" cy="438.96" r="1.8" fill="#f5b45a" stroke="#ef9f34" stroke-width="1" fill-opacity="0.2"/>
<circle cx="335.1" cy="441.26" r="1.8" fill="#f5b45a" stroke="#ef9f34" stroke-width="1" fill-opacity="0.2"/>
<circle cx="335.1" cy="449.64" r="1.8" fill="#f5b45a" stroke="#ef9f34" stroke-width="1" fill-opacity="0.2"/>
<rect x="339.65" y="548.4" width="3.9" height="5.4" fill="#8f9ac8" stroke="none" stroke-width="1"/>
<line x1="341.6" y1="547.59" x2="341.6" y2="549.4" stroke="#333" stroke-width="0.8"/>
<line x1="340.3" y1="547.59" x2="342.9" y2="547.59" stroke="#333" stroke-width="0.9"/>
<circle cx="341.6" cy="547.86" r="1.8" fill="#a6cce8" stroke="#22508a" stroke-width="1" fill-opacity="0.7"/>
<circle cx="341.6" cy="550.29" r="1.8" fill="#a6cce8" stroke="#22508a" stroke-width="1" fill-opacity="0.7"/>
<line x1="335.15" y1="554.2" x2="335.15" y2="556.4" stroke="#1a1a1a" stroke-width="0.8"/>
<rect x="349.9" y="542.99" width="3.9" height="10.81" fill="#89a89a" stroke="none" stroke-width="1"/>
<line x1="351.85" y1="538.94" x2="351.85" y2="543.99" stroke="#333" stroke-width="0.8"/>
<line x1="350.55" y1="538.94" x2="353.15" y2="538.94" stroke="#333" stroke-width="0.9"/>
<circle cx="351.85" cy="535.56" r="1.8" fill="#2f8a68" stroke="#1c6449" stroke-width="1" fill-opacity="0.25"/>
<circle cx="351.85" cy="543.26" r="1.8" fill="#2f8a68" stroke="#1c6449" stroke-width="1" fill-opacity="0.25"/>
<circle cx="351.85" cy="549.07" r="1.8" fill="#2f8a68" stroke="#1c6449" stroke-width="1" fill-opacity="0.25"/>
<rect x="355.5" y="429.51" width="3.9" height="124.29" fill="#f7c890" stroke="none" stroke-width="1"/>
<line x1="357.45" y1="426.54" x2="357.45" y2="430.51" stroke="#333" stroke-width="0.8"/>
<line x1="356.15" y1="426.54" x2="358.75" y2="426.54" stroke="#333" stroke-width="0.9"/>
<circle cx="357.45" cy="424.24" r="1.8" fill="#f5b45a" stroke="#ef9f34" stroke-width="1" fill-opacity="0.2"/>
<circle cx="357.45" cy="429.51" r="1.8" fill="#f5b45a" stroke="#ef9f34" stroke-width="1" fill-opacity="0.2"/>
<circle cx="357.45" cy="438.96" r="1.8" fill="#f5b45a" stroke="#ef9f34" stroke-width="1" fill-opacity="0.2"/>
<rect x="362" y="551.1" width="3.9" height="2.7" fill="#8f9ac8" stroke="none" stroke-width="1"/>
<line x1="363.95" y1="550.69" x2="363.95" y2="552.1" stroke="#333" stroke-width="0.8"/>
<line x1="362.65" y1="550.69" x2="365.25" y2="550.69" stroke="#333" stroke-width="0.9"/>
<circle cx="363.95" cy="551.5" r="1.8" fill="#a6cce8" stroke="#22508a" stroke-width="1" fill-opacity="0.7"/>
<line x1="357.5" y1="554.2" x2="357.5" y2="556.4" stroke="#1a1a1a" stroke-width="0.8"/>
<line x1="168" y1="554" x2="368.7" y2="554" stroke="#1a1a1a" stroke-width="1.2"/>
<rect x="374.3" y="416.1" width="5.7" height="5.5" fill="#89a89a" stroke="none" stroke-width="1"/>
<text x="383" y="421.35" font-size="7" text-anchor="start" font-weight="normal" fill="#222">G1</text>
<rect x="374.3" y="426" width="5.7" height="5.5" fill="#f7c890" stroke="none" stroke-width="1"/>
<text x="383" y="431.25" font-size="7" text-anchor="start" font-weight="normal" fill="#222">S</text>
<rect x="374.3" y="436" width="5.7" height="5.5" fill="#8f9ac8" stroke="none" stroke-width="1"/>
<text x="383" y="441.25" font-size="7" text-anchor="start" font-weight="normal" fill="#222">G2</text>
<text x="169.7" y="565" font-size="6.5" text-anchor="end" font-weight="normal" fill="#222">sgCtrl:</text>
<text x="169.7" y="577.9" font-size="6.5" text-anchor="end" font-weight="normal" fill="#222">sgHerc1:</text>
<circle cx="178.7" cy="562.4" r="2.25" fill="#111" stroke="none" stroke-width="1"/>
<text x="201.05" y="573" font-size="6.2" text-anchor="middle" font-weight="normal" fill="#222">#1</text>
<text x="201.05" y="583.3" font-size="6.2" text-anchor="middle" font-weight="normal" fill="#222">T = 0</text>
<text x="223.4" y="573" font-size="6.2" text-anchor="middle" font-weight="normal" fill="#222">#2</text>
<circle cx="245.75" cy="562.4" r="2.25" fill="#111" stroke="none" stroke-width="1"/>
<text x="268.1" y="573" font-size="6.2" text-anchor="middle" font-weight="normal" fill="#222">#1</text>
<text x="268.1" y="583.3" font-size="6.2" text-anchor="middle" font-weight="normal" fill="#222">T = 6h</text>
<text x="290.45" y="573" font-size="6.2" text-anchor="middle" font-weight="normal" fill="#222">#2</text>
<circle cx="312.8" cy="562.4" r="2.25" fill="#111" stroke="none" stroke-width="1"/>
<text x="335.15" y="573" font-size="6.2" text-anchor="middle" font-weight="normal" fill="#222">#1</text>
<text x="335.15" y="583.3" font-size="6.2" text-anchor="middle" font-weight="normal" fill="#222">T = 12h</text>
<text x="357.5" y="573" font-size="6.2" text-anchor="middle" font-weight="normal" fill="#222">#2</text>
<line x1="0" y1="0.5" x2="520" y2="0.5" stroke="#6a6a6a" stroke-width="1"/>
<line x1="0.5" y1="0" x2="0.5" y2="591" stroke="#5a5a5a" stroke-width="1"/>
<line x1="519.5" y1="0" x2="519.5" y2="591" stroke="#333" stroke-width="1"/>
<line x1="0" y1="590.5" x2="520" y2="590.5" stroke="#3a3a3a" stroke-width="1"/>
</svg>
</body></html>
